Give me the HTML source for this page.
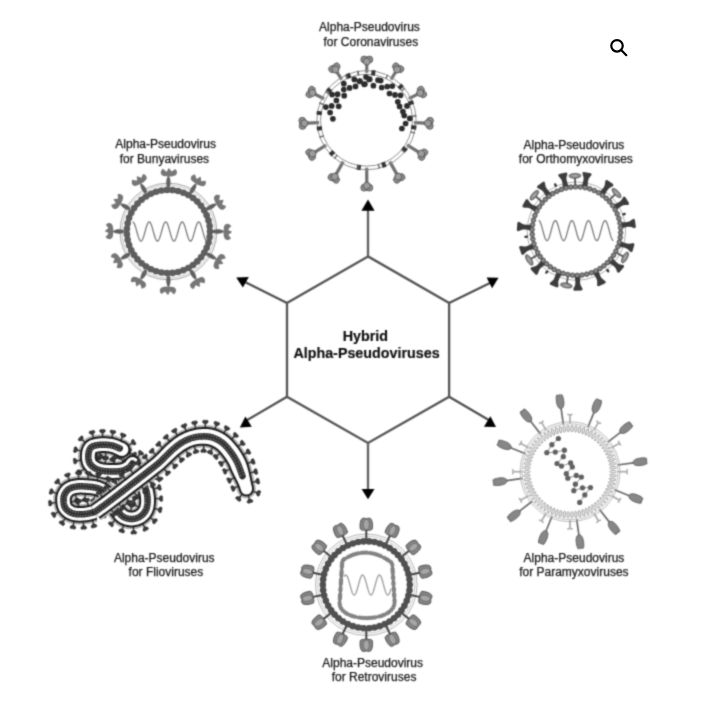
<!DOCTYPE html>
<html><head><meta charset="utf-8">
<style>
html,body{margin:0;padding:0;background:#fff;width:706px;height:705px;overflow:hidden}
svg{display:block}
text{font-family:"Liberation Sans",sans-serif;fill:#151515;stroke:#151515;stroke-width:0.25}
.l{font-size:12px}
.b{font-size:14.3px;font-weight:bold;fill:#111;stroke:#111;stroke-width:0.2}
</style></head><body>
<svg width="706" height="705" viewBox="0 0 706 705">
<defs>
<filter id="bl" x="0" y="0" width="706" height="705" filterUnits="userSpaceOnUse" color-interpolation-filters="sRGB"><feConvolveMatrix order="5" kernelMatrix="0.00003 0.00101 0.00331 0.00101 0.00003 0.00101 0.03529 0.11525 0.03529 0.00101 0.00331 0.11525 0.37636 0.11525 0.00331 0.00101 0.03529 0.11525 0.03529 0.00101 0.00003 0.00101 0.00331 0.00101 0.00003" divisor="1" edgeMode="duplicate" preserveAlpha="false"/></filter>
</defs>
<g filter="url(#bl)">
<!-- hexagon -->
<g fill="none" stroke="#555" stroke-width="2.3">
<path d="M368 256.4 L287 303 L287 396.8 L368 443 L449.1 396.8 L449.1 303 Z"/>
</g>
<g fill="none" stroke="#606060" stroke-width="2.3">
<path d="M368 256.4 V209"/>
<path d="M368 443 V490"/>
</g>
<g fill="none" stroke="#4f4f4f" stroke-width="2.2">
<path d="M287 303 L244.5 281.7"/>
<path d="M449.1 303 L491.5 282.3"/>
<path d="M287 396.8 L245.5 421"/>
<path d="M449.1 396.8 L490.5 421"/>
</g>
<g fill="#000">
<path d="M361.4 210.8 L374.6 210.8 L368.0 199.5 Z"/>
<path d="M236.2 277.4 L248.8 277.1 L242.9 287.6 Z"/>
<path d="M486.6 277.4 L498.5 277.8 L492.1 288.2 Z"/>
<path d="M245.4 416.6 L239.9 427.4 L251.8 426.7 Z"/>
<path d="M490.4 416.3 L483.9 426.7 L496.0 426.9 Z"/>
<path d="M361.6 488.9 L374.5 488.9 L368.0 499.2 Z"/>
</g>
<!-- center text -->
<text class="b" x="365.4" y="341.2" text-anchor="middle">Hybrid</text>
<text class="b" x="366.5" y="358.1" text-anchor="middle">Alpha-Pseudoviruses</text>
<!-- labels -->
<text class="l" x="319.1" y="31.1">Alpha-Pseudovirus</text>
<text class="l" x="323.5" y="45.7">for Coronaviruses</text>
<text class="l" x="115.3" y="148.2">Alpha-Pseudovirus</text>
<text class="l" x="119.7" y="162.8">for Bunyaviruses</text>
<text class="l" x="523.6" y="148.6">Alpha-Pseudovirus</text>
<text class="l" x="518.8" y="163.2">for Orthomyxoviruses</text>
<text class="l" x="113.9" y="561.7">Alpha-Pseudovirus</text>
<text class="l" x="128.6" y="576.2">for Flioviruses</text>
<text class="l" x="322.3" y="667.1">Alpha-Pseudovirus</text>
<text class="l" x="331.7" y="681.1">for Retroviruses</text>
<text class="l" x="523.6" y="561.8">Alpha-Pseudovirus</text>
<text class="l" x="519.2" y="576.3">for Paramyxoviruses</text>

<g id="bunya">
<circle cx="168.4" cy="231.5" r="48.4" fill="none" stroke="#9a9a9a" stroke-width="0.9"/>
<circle cx="168.4" cy="231.5" r="46.6" fill="none" stroke="#b0b0b0" stroke-width="0.7"/>
<g transform="translate(168.4 187) rotate(0)"><path d="M-1.3,0 C-2.6,-3.5 -2.6,-8 0,-11.5 C2.6,-8 2.6,-3.5 1.3,0 Z" fill="#606060"/><path d="M-5,-0.6 C-7.6,-1.4 -8.3,-4 -7.2,-5.8 L-5.6,-8 C-4.2,-6.6 -2.8,-5.2 -1.6,-4.8 L0.2,-8.6 C1.6,-7.6 2.6,-5.8 3.4,-5 L6.8,-7.6 C8.8,-6 9.2,-3.4 7.6,-1.6 C5.6,-0.4 3,0 0,0 Z" transform="translate(0 -10.5)" fill="#767676"/></g>
<g transform="translate(190.65 192.96) rotate(30)"><path d="M-1.3,0 C-2.6,-3.5 -2.6,-8 0,-11.5 C2.6,-8 2.6,-3.5 1.3,0 Z" fill="#606060"/><path d="M-5,-0.6 C-7.6,-1.4 -8.3,-4 -7.2,-5.8 L-5.6,-8 C-4.2,-6.6 -2.8,-5.2 -1.6,-4.8 L0.2,-8.6 C1.6,-7.6 2.6,-5.8 3.4,-5 L6.8,-7.6 C8.8,-6 9.2,-3.4 7.6,-1.6 C5.6,-0.4 3,0 0,0 Z" transform="translate(0 -10.5)" fill="#767676"/></g>
<g transform="translate(206.94 209.25) rotate(60)"><path d="M-1.3,0 C-2.6,-3.5 -2.6,-8 0,-11.5 C2.6,-8 2.6,-3.5 1.3,0 Z" fill="#606060"/><path d="M-5,-0.6 C-7.6,-1.4 -8.3,-4 -7.2,-5.8 L-5.6,-8 C-4.2,-6.6 -2.8,-5.2 -1.6,-4.8 L0.2,-8.6 C1.6,-7.6 2.6,-5.8 3.4,-5 L6.8,-7.6 C8.8,-6 9.2,-3.4 7.6,-1.6 C5.6,-0.4 3,0 0,0 Z" transform="translate(0 -10.5)" fill="#767676"/></g>
<g transform="translate(212.9 231.5) rotate(90)"><path d="M-1.3,0 C-2.6,-3.5 -2.6,-8 0,-11.5 C2.6,-8 2.6,-3.5 1.3,0 Z" fill="#606060"/><path d="M-5,-0.6 C-7.6,-1.4 -8.3,-4 -7.2,-5.8 L-5.6,-8 C-4.2,-6.6 -2.8,-5.2 -1.6,-4.8 L0.2,-8.6 C1.6,-7.6 2.6,-5.8 3.4,-5 L6.8,-7.6 C8.8,-6 9.2,-3.4 7.6,-1.6 C5.6,-0.4 3,0 0,0 Z" transform="translate(0 -10.5)" fill="#767676"/></g>
<g transform="translate(206.94 253.75) rotate(120)"><path d="M-1.3,0 C-2.6,-3.5 -2.6,-8 0,-11.5 C2.6,-8 2.6,-3.5 1.3,0 Z" fill="#606060"/><path d="M-5,-0.6 C-7.6,-1.4 -8.3,-4 -7.2,-5.8 L-5.6,-8 C-4.2,-6.6 -2.8,-5.2 -1.6,-4.8 L0.2,-8.6 C1.6,-7.6 2.6,-5.8 3.4,-5 L6.8,-7.6 C8.8,-6 9.2,-3.4 7.6,-1.6 C5.6,-0.4 3,0 0,0 Z" transform="translate(0 -10.5)" fill="#767676"/></g>
<g transform="translate(190.65 270.04) rotate(150)"><path d="M-1.3,0 C-2.6,-3.5 -2.6,-8 0,-11.5 C2.6,-8 2.6,-3.5 1.3,0 Z" fill="#606060"/><path d="M-5,-0.6 C-7.6,-1.4 -8.3,-4 -7.2,-5.8 L-5.6,-8 C-4.2,-6.6 -2.8,-5.2 -1.6,-4.8 L0.2,-8.6 C1.6,-7.6 2.6,-5.8 3.4,-5 L6.8,-7.6 C8.8,-6 9.2,-3.4 7.6,-1.6 C5.6,-0.4 3,0 0,0 Z" transform="translate(0 -10.5)" fill="#767676"/></g>
<g transform="translate(168.4 276) rotate(180)"><path d="M-1.3,0 C-2.6,-3.5 -2.6,-8 0,-11.5 C2.6,-8 2.6,-3.5 1.3,0 Z" fill="#606060"/><path d="M-5,-0.6 C-7.6,-1.4 -8.3,-4 -7.2,-5.8 L-5.6,-8 C-4.2,-6.6 -2.8,-5.2 -1.6,-4.8 L0.2,-8.6 C1.6,-7.6 2.6,-5.8 3.4,-5 L6.8,-7.6 C8.8,-6 9.2,-3.4 7.6,-1.6 C5.6,-0.4 3,0 0,0 Z" transform="translate(0 -10.5)" fill="#767676"/></g>
<g transform="translate(146.15 270.04) rotate(210)"><path d="M-1.3,0 C-2.6,-3.5 -2.6,-8 0,-11.5 C2.6,-8 2.6,-3.5 1.3,0 Z" fill="#606060"/><path d="M-5,-0.6 C-7.6,-1.4 -8.3,-4 -7.2,-5.8 L-5.6,-8 C-4.2,-6.6 -2.8,-5.2 -1.6,-4.8 L0.2,-8.6 C1.6,-7.6 2.6,-5.8 3.4,-5 L6.8,-7.6 C8.8,-6 9.2,-3.4 7.6,-1.6 C5.6,-0.4 3,0 0,0 Z" transform="translate(0 -10.5)" fill="#767676"/></g>
<g transform="translate(129.86 253.75) rotate(240)"><path d="M-1.3,0 C-2.6,-3.5 -2.6,-8 0,-11.5 C2.6,-8 2.6,-3.5 1.3,0 Z" fill="#606060"/><path d="M-5,-0.6 C-7.6,-1.4 -8.3,-4 -7.2,-5.8 L-5.6,-8 C-4.2,-6.6 -2.8,-5.2 -1.6,-4.8 L0.2,-8.6 C1.6,-7.6 2.6,-5.8 3.4,-5 L6.8,-7.6 C8.8,-6 9.2,-3.4 7.6,-1.6 C5.6,-0.4 3,0 0,0 Z" transform="translate(0 -10.5)" fill="#767676"/></g>
<g transform="translate(123.9 231.5) rotate(270)"><path d="M-1.3,0 C-2.6,-3.5 -2.6,-8 0,-11.5 C2.6,-8 2.6,-3.5 1.3,0 Z" fill="#606060"/><path d="M-5,-0.6 C-7.6,-1.4 -8.3,-4 -7.2,-5.8 L-5.6,-8 C-4.2,-6.6 -2.8,-5.2 -1.6,-4.8 L0.2,-8.6 C1.6,-7.6 2.6,-5.8 3.4,-5 L6.8,-7.6 C8.8,-6 9.2,-3.4 7.6,-1.6 C5.6,-0.4 3,0 0,0 Z" transform="translate(0 -10.5)" fill="#767676"/></g>
<g transform="translate(129.86 209.25) rotate(300)"><path d="M-1.3,0 C-2.6,-3.5 -2.6,-8 0,-11.5 C2.6,-8 2.6,-3.5 1.3,0 Z" fill="#606060"/><path d="M-5,-0.6 C-7.6,-1.4 -8.3,-4 -7.2,-5.8 L-5.6,-8 C-4.2,-6.6 -2.8,-5.2 -1.6,-4.8 L0.2,-8.6 C1.6,-7.6 2.6,-5.8 3.4,-5 L6.8,-7.6 C8.8,-6 9.2,-3.4 7.6,-1.6 C5.6,-0.4 3,0 0,0 Z" transform="translate(0 -10.5)" fill="#767676"/></g>
<g transform="translate(146.15 192.96) rotate(330)"><path d="M-1.3,0 C-2.6,-3.5 -2.6,-8 0,-11.5 C2.6,-8 2.6,-3.5 1.3,0 Z" fill="#606060"/><path d="M-5,-0.6 C-7.6,-1.4 -8.3,-4 -7.2,-5.8 L-5.6,-8 C-4.2,-6.6 -2.8,-5.2 -1.6,-4.8 L0.2,-8.6 C1.6,-7.6 2.6,-5.8 3.4,-5 L6.8,-7.6 C8.8,-6 9.2,-3.4 7.6,-1.6 C5.6,-0.4 3,0 0,0 Z" transform="translate(0 -10.5)" fill="#767676"/></g>
<circle cx="168.4" cy="231.5" r="41.6" fill="none" stroke="#5e5e5e" stroke-width="4.8"/>
<circle cx="210" cy="231.5" r="3.3" fill="#5e5e5e"/>
<circle cx="209.63" cy="237.04" r="3.3" fill="#5e5e5e"/>
<circle cx="208.52" cy="242.49" r="3.3" fill="#5e5e5e"/>
<circle cx="206.7" cy="247.74" r="3.3" fill="#5e5e5e"/>
<circle cx="204.19" cy="252.7" r="3.3" fill="#5e5e5e"/>
<circle cx="201.05" cy="257.28" r="3.3" fill="#5e5e5e"/>
<circle cx="197.32" cy="261.4" r="3.3" fill="#5e5e5e"/>
<circle cx="193.08" cy="264.99" r="3.3" fill="#5e5e5e"/>
<circle cx="188.39" cy="267.98" r="3.3" fill="#5e5e5e"/>
<circle cx="183.35" cy="270.32" r="3.3" fill="#5e5e5e"/>
<circle cx="178.04" cy="271.97" r="3.3" fill="#5e5e5e"/>
<circle cx="172.56" cy="272.89" r="3.3" fill="#5e5e5e"/>
<circle cx="167.01" cy="273.08" r="3.3" fill="#5e5e5e"/>
<circle cx="161.48" cy="272.52" r="3.3" fill="#5e5e5e"/>
<circle cx="156.07" cy="271.23" r="3.3" fill="#5e5e5e"/>
<circle cx="150.89" cy="269.23" r="3.3" fill="#5e5e5e"/>
<circle cx="146.02" cy="266.56" r="3.3" fill="#5e5e5e"/>
<circle cx="141.54" cy="263.27" r="3.3" fill="#5e5e5e"/>
<circle cx="137.55" cy="259.4" r="3.3" fill="#5e5e5e"/>
<circle cx="134.1" cy="255.04" r="3.3" fill="#5e5e5e"/>
<circle cx="131.27" cy="250.26" r="3.3" fill="#5e5e5e"/>
<circle cx="129.1" cy="245.15" r="3.3" fill="#5e5e5e"/>
<circle cx="127.63" cy="239.79" r="3.3" fill="#5e5e5e"/>
<circle cx="126.89" cy="234.28" r="3.3" fill="#5e5e5e"/>
<circle cx="126.89" cy="228.72" r="3.3" fill="#5e5e5e"/>
<circle cx="127.63" cy="223.21" r="3.3" fill="#5e5e5e"/>
<circle cx="129.1" cy="217.85" r="3.3" fill="#5e5e5e"/>
<circle cx="131.27" cy="212.74" r="3.3" fill="#5e5e5e"/>
<circle cx="134.1" cy="207.96" r="3.3" fill="#5e5e5e"/>
<circle cx="137.55" cy="203.6" r="3.3" fill="#5e5e5e"/>
<circle cx="141.54" cy="199.73" r="3.3" fill="#5e5e5e"/>
<circle cx="146.02" cy="196.44" r="3.3" fill="#5e5e5e"/>
<circle cx="150.89" cy="193.77" r="3.3" fill="#5e5e5e"/>
<circle cx="156.07" cy="191.77" r="3.3" fill="#5e5e5e"/>
<circle cx="161.48" cy="190.48" r="3.3" fill="#5e5e5e"/>
<circle cx="167.01" cy="189.92" r="3.3" fill="#5e5e5e"/>
<circle cx="172.56" cy="190.11" r="3.3" fill="#5e5e5e"/>
<circle cx="178.04" cy="191.03" r="3.3" fill="#5e5e5e"/>
<circle cx="183.35" cy="192.68" r="3.3" fill="#5e5e5e"/>
<circle cx="188.39" cy="195.02" r="3.3" fill="#5e5e5e"/>
<circle cx="193.08" cy="198.01" r="3.3" fill="#5e5e5e"/>
<circle cx="197.32" cy="201.6" r="3.3" fill="#5e5e5e"/>
<circle cx="201.05" cy="205.72" r="3.3" fill="#5e5e5e"/>
<circle cx="204.19" cy="210.3" r="3.3" fill="#5e5e5e"/>
<circle cx="206.7" cy="215.26" r="3.3" fill="#5e5e5e"/>
<circle cx="208.52" cy="220.51" r="3.3" fill="#5e5e5e"/>
<circle cx="209.63" cy="225.96" r="3.3" fill="#5e5e5e"/>
<path d="M132.7 221.9 L133.07 222 L133.44 222.28 L133.81 222.75 L134.19 223.4 L134.56 224.2 L134.93 225.16 L135.3 226.23 L135.67 227.42 L136.04 228.69 L136.41 230.01 L136.79 231.36 L137.16 232.71 L137.53 234.04 L137.9 235.32 L138.27 236.53 L138.64 237.63 L139.02 238.61 L139.39 239.45 L139.76 240.13 L140.13 240.64 L140.5 240.96 L140.87 241.1 L141.24 241.04 L141.62 240.79 L141.99 240.36 L142.36 239.75 L142.73 238.98 L143.1 238.05 L143.47 237 L143.84 235.83 L144.22 234.58 L144.59 233.27 L144.96 231.92 L145.33 230.57 L145.7 229.23 L146.07 227.94 L146.45 226.71 L146.82 225.59 L147.19 224.58 L147.56 223.71 L147.93 223 L148.3 222.45 L148.67 222.09 L149.05 221.92 L149.42 221.93 L149.79 222.14 L150.16 222.54 L150.53 223.11 L150.9 223.85 L151.27 224.74 L151.65 225.77 L152.02 226.92 L152.39 228.15 L152.76 229.45 L153.13 230.8 L153.5 232.15 L153.88 233.5 L154.25 234.8 L154.62 236.04 L154.99 237.19 L155.36 238.22 L155.73 239.12 L156.1 239.87 L156.48 240.45 L156.85 240.85 L157.22 241.06 L157.59 241.09 L157.96 240.92 L158.33 240.56 L158.7 240.02 L159.08 239.32 L159.45 238.45 L159.82 237.45 L160.19 236.33 L160.56 235.11 L160.93 233.82 L161.31 232.48 L161.68 231.13 L162.05 229.78 L162.42 228.46 L162.79 227.21 L163.16 226.04 L163.53 224.98 L163.91 224.05 L164.28 223.27 L164.65 222.66 L165.02 222.22 L165.39 221.97 L165.76 221.9 L166.13 222.03 L166.51 222.35 L166.88 222.85 L167.25 223.52 L167.62 224.36 L167.99 225.33 L168.36 226.43 L168.74 227.63 L169.11 228.91 L169.48 230.24 L169.85 231.59 L170.22 232.94 L170.59 234.27 L170.96 235.54 L171.34 236.72 L171.71 237.81 L172.08 238.76 L172.45 239.58 L172.82 240.23 L173.19 240.7 L173.56 241 L173.94 241.1 L174.31 241.01 L174.68 240.73 L175.05 240.27 L175.42 239.63 L175.79 238.83 L176.17 237.88 L176.54 236.81 L176.91 235.63 L177.28 234.36 L177.65 233.04 L178.02 231.69 L178.39 230.33 L178.77 229 L179.14 227.72 L179.51 226.51 L179.88 225.41 L180.25 224.42 L180.62 223.58 L181 222.89 L181.37 222.38 L181.74 222.05 L182.11 221.91 L182.48 221.95 L182.85 222.19 L183.22 222.62 L183.6 223.22 L183.97 223.99 L184.34 224.91 L184.71 225.96 L185.08 227.12 L185.45 228.37 L185.82 229.68 L186.2 231.03 L186.57 232.39 L186.94 233.72 L187.31 235.02 L187.68 236.24 L188.05 237.37 L188.43 238.38 L188.8 239.26 L189.17 239.98 L189.54 240.53 L189.91 240.9 L190.28 241.08 L190.65 241.07 L191.03 240.87 L191.4 240.48 L191.77 239.92 L192.14 239.18 L192.51 238.29 L192.88 237.27 L193.25 236.13 L193.63 234.89 L194 233.59 L194.37 232.25 L194.74 230.9 L195.11 229.55 L195.48 228.24 L195.85 227 L196.23 225.85 L196.6 224.81 L196.97 223.91 L197.34 223.16 L197.71 222.57 L198.08 222.16 L198.46 221.94 L198.83 221.91 L199.2 222.07 L199.57 222.42 L199.94 222.95 L200.31 223.65 L200.68 224.51 L201.06 225.51 L201.43 226.63 L201.8 227.84 L202.17 229.13 L202.54 230.47 L202.91 231.82 L203.28 233.17 L203.66 234.49 L204.03 235.75 L204.4 236.92 L204.77 237.98 L205.14 238.91 L205.51 239.7 L205.89 240.32 L206.26 240.77 L206.63 241.03 L207 241.1" fill="none" stroke="#7a7a7a" stroke-width="1.3"/>
</g>
<g id="ortho">
<circle cx="576.4" cy="231.1" r="49.2" fill="none" stroke="#999" stroke-width="0.8"/>
<g transform="translate(575.2 185.12) rotate(-1.5)"><rect x="-0.9" y="-8.5" width="1.8" height="8.5" fill="#555"/><ellipse cx="0" cy="-9.3" rx="6" ry="2.4" fill="#8a8a8a" stroke="#444" stroke-width="0.7"/><ellipse cx="0" cy="-9.3" rx="3" ry="1.1" fill="#a5a5a5"/></g>
<g transform="translate(609.77 199.44) rotate(46.5)"><rect x="-0.9" y="-8.5" width="1.8" height="8.5" fill="#555"/><ellipse cx="0" cy="-9.3" rx="6" ry="2.4" fill="#8a8a8a" stroke="#444" stroke-width="0.7"/><ellipse cx="0" cy="-9.3" rx="3" ry="1.1" fill="#a5a5a5"/></g>
<g transform="translate(616.83 253.05) rotate(118.5)"><rect x="-0.9" y="-8.5" width="1.8" height="8.5" fill="#555"/><ellipse cx="0" cy="-9.3" rx="6" ry="2.4" fill="#8a8a8a" stroke="#444" stroke-width="0.7"/><ellipse cx="0" cy="-9.3" rx="3" ry="1.1" fill="#a5a5a5"/></g>
<g transform="translate(568.02 276.33) rotate(190.5)"><rect x="-0.9" y="-8.5" width="1.8" height="8.5" fill="#555"/><ellipse cx="0" cy="-9.3" rx="6" ry="2.4" fill="#8a8a8a" stroke="#444" stroke-width="0.7"/><ellipse cx="0" cy="-9.3" rx="3" ry="1.1" fill="#a5a5a5"/></g>
<g transform="translate(537.18 255.13) rotate(238.5)"><rect x="-0.9" y="-8.5" width="1.8" height="8.5" fill="#555"/><ellipse cx="0" cy="-9.3" rx="6" ry="2.4" fill="#8a8a8a" stroke="#444" stroke-width="0.7"/><ellipse cx="0" cy="-9.3" rx="3" ry="1.1" fill="#a5a5a5"/></g>
<g transform="translate(541.42 201.23) rotate(310.5)"><rect x="-0.9" y="-8.5" width="1.8" height="8.5" fill="#555"/><ellipse cx="0" cy="-9.3" rx="6" ry="2.4" fill="#8a8a8a" stroke="#444" stroke-width="0.7"/><ellipse cx="0" cy="-9.3" rx="3" ry="1.1" fill="#a5a5a5"/></g>
<g transform="translate(555.46 185.15) rotate(-24.5)"><ellipse cx="0" cy="0" rx="1.3" ry="2" fill="#333"/></g>
<g transform="translate(623.97 214.16) rotate(70.4)"><ellipse cx="0" cy="0" rx="1.3" ry="2" fill="#333"/></g>
<g transform="translate(526.21 236.73) rotate(263.6)"><ellipse cx="0" cy="0" rx="1.3" ry="2" fill="#333"/></g>
<g transform="translate(546.79 272.01) rotate(215.9)"><ellipse cx="0" cy="0" rx="1.3" ry="2" fill="#333"/></g>
<g transform="translate(607.77 270.68) rotate(141.6)"><ellipse cx="0" cy="0" rx="1.3" ry="2" fill="#333"/></g>
<path transform="translate(584.71 186.26) rotate(10.5)" d="M-3.2,0 C-2.2,-2.5 -2.2,-6.5 -2.6,-8 C-3.2,-10 -4.7,-11.5 -4.7,-13 L-3.6,-13.9 L3.6,-13.9 L4.7,-13 C4.7,-11.5 3.2,-10 2.6,-8 C2.2,-6.5 2.2,-2.5 3.2,0 Z" fill="#3c3c3c"/>
<path transform="translate(602.23 193.52) rotate(34.5)" d="M-3.2,0 C-2.2,-2.5 -2.2,-6.5 -2.6,-8 C-3.2,-10 -4.7,-11.5 -4.7,-13 L-3.6,-13.9 L3.6,-13.9 L4.7,-13 C4.7,-11.5 3.2,-10 2.6,-8 C2.2,-6.5 2.2,-2.5 3.2,0 Z" fill="#3c3c3c"/>
<path transform="translate(615.28 207.27) rotate(58.5)" d="M-3.2,0 C-2.2,-2.5 -2.2,-6.5 -2.6,-8 C-3.2,-10 -4.7,-11.5 -4.7,-13 L-3.6,-13.9 L3.6,-13.9 L4.7,-13 C4.7,-11.5 3.2,-10 2.6,-8 C2.2,-6.5 2.2,-2.5 3.2,0 Z" fill="#3c3c3c"/>
<path transform="translate(621.61 225.15) rotate(82.5)" d="M-3.2,0 C-2.2,-2.5 -2.2,-6.5 -2.6,-8 C-3.2,-10 -4.7,-11.5 -4.7,-13 L-3.6,-13.9 L3.6,-13.9 L4.7,-13 C4.7,-11.5 3.2,-10 2.6,-8 C2.2,-6.5 2.2,-2.5 3.2,0 Z" fill="#3c3c3c"/>
<path transform="translate(620.12 244.05) rotate(106.5)" d="M-3.2,0 C-2.2,-2.5 -2.2,-6.5 -2.6,-8 C-3.2,-10 -4.7,-11.5 -4.7,-13 L-3.6,-13.9 L3.6,-13.9 L4.7,-13 C4.7,-11.5 3.2,-10 2.6,-8 C2.2,-6.5 2.2,-2.5 3.2,0 Z" fill="#3c3c3c"/>
<path transform="translate(611.07 260.71) rotate(130.5)" d="M-3.2,0 C-2.2,-2.5 -2.2,-6.5 -2.6,-8 C-3.2,-10 -4.7,-11.5 -4.7,-13 L-3.6,-13.9 L3.6,-13.9 L4.7,-13 C4.7,-11.5 3.2,-10 2.6,-8 C2.2,-6.5 2.2,-2.5 3.2,0 Z" fill="#3c3c3c"/>
<path transform="translate(596.03 272.26) rotate(154.5)" d="M-3.2,0 C-2.2,-2.5 -2.2,-6.5 -2.6,-8 C-3.2,-10 -4.7,-11.5 -4.7,-13 L-3.6,-13.9 L3.6,-13.9 L4.7,-13 C4.7,-11.5 3.2,-10 2.6,-8 C2.2,-6.5 2.2,-2.5 3.2,0 Z" fill="#3c3c3c"/>
<path transform="translate(577.59 276.68) rotate(178.5)" d="M-3.2,0 C-2.2,-2.5 -2.2,-6.5 -2.6,-8 C-3.2,-10 -4.7,-11.5 -4.7,-13 L-3.6,-13.9 L3.6,-13.9 L4.7,-13 C4.7,-11.5 3.2,-10 2.6,-8 C2.2,-6.5 2.2,-2.5 3.2,0 Z" fill="#3c3c3c"/>
<path transform="translate(558.95 273.23) rotate(202.5)" d="M-3.2,0 C-2.2,-2.5 -2.2,-6.5 -2.6,-8 C-3.2,-10 -4.7,-11.5 -4.7,-13 L-3.6,-13.9 L3.6,-13.9 L4.7,-13 C4.7,-11.5 3.2,-10 2.6,-8 C2.2,-6.5 2.2,-2.5 3.2,0 Z" fill="#3c3c3c"/>
<path transform="translate(543.32 262.49) rotate(226.5)" d="M-3.2,0 C-2.2,-2.5 -2.2,-6.5 -2.6,-8 C-3.2,-10 -4.7,-11.5 -4.7,-13 L-3.6,-13.9 L3.6,-13.9 L4.7,-13 C4.7,-11.5 3.2,-10 2.6,-8 C2.2,-6.5 2.2,-2.5 3.2,0 Z" fill="#3c3c3c"/>
<path transform="translate(533.42 246.32) rotate(250.5)" d="M-3.2,0 C-2.2,-2.5 -2.2,-6.5 -2.6,-8 C-3.2,-10 -4.7,-11.5 -4.7,-13 L-3.6,-13.9 L3.6,-13.9 L4.7,-13 C4.7,-11.5 3.2,-10 2.6,-8 C2.2,-6.5 2.2,-2.5 3.2,0 Z" fill="#3c3c3c"/>
<path transform="translate(530.94 227.52) rotate(274.5)" d="M-3.2,0 C-2.2,-2.5 -2.2,-6.5 -2.6,-8 C-3.2,-10 -4.7,-11.5 -4.7,-13 L-3.6,-13.9 L3.6,-13.9 L4.7,-13 C4.7,-11.5 3.2,-10 2.6,-8 C2.2,-6.5 2.2,-2.5 3.2,0 Z" fill="#3c3c3c"/>
<path transform="translate(536.33 209.34) rotate(298.5)" d="M-3.2,0 C-2.2,-2.5 -2.2,-6.5 -2.6,-8 C-3.2,-10 -4.7,-11.5 -4.7,-13 L-3.6,-13.9 L3.6,-13.9 L4.7,-13 C4.7,-11.5 3.2,-10 2.6,-8 C2.2,-6.5 2.2,-2.5 3.2,0 Z" fill="#3c3c3c"/>
<path transform="translate(548.64 194.92) rotate(322.5)" d="M-3.2,0 C-2.2,-2.5 -2.2,-6.5 -2.6,-8 C-3.2,-10 -4.7,-11.5 -4.7,-13 L-3.6,-13.9 L3.6,-13.9 L4.7,-13 C4.7,-11.5 3.2,-10 2.6,-8 C2.2,-6.5 2.2,-2.5 3.2,0 Z" fill="#3c3c3c"/>
<path transform="translate(565.75 186.76) rotate(346.5)" d="M-3.2,0 C-2.2,-2.5 -2.2,-6.5 -2.6,-8 C-3.2,-10 -4.7,-11.5 -4.7,-13 L-3.6,-13.9 L3.6,-13.9 L4.7,-13 C4.7,-11.5 3.2,-10 2.6,-8 C2.2,-6.5 2.2,-2.5 3.2,0 Z" fill="#3c3c3c"/>
<circle cx="620.67" cy="232.65" r="2.3" fill="#858585" stroke="#3c3c3c" stroke-width="0.8"/>
<circle cx="620.25" cy="237.42" r="2.3" fill="#858585" stroke="#3c3c3c" stroke-width="0.8"/>
<circle cx="619.31" cy="242.13" r="2.3" fill="#858585" stroke="#3c3c3c" stroke-width="0.8"/>
<circle cx="617.86" cy="246.7" r="2.3" fill="#858585" stroke="#3c3c3c" stroke-width="0.8"/>
<circle cx="615.93" cy="251.09" r="2.3" fill="#858585" stroke="#3c3c3c" stroke-width="0.8"/>
<circle cx="613.54" cy="255.25" r="2.3" fill="#858585" stroke="#3c3c3c" stroke-width="0.8"/>
<circle cx="610.71" cy="259.12" r="2.3" fill="#858585" stroke="#3c3c3c" stroke-width="0.8"/>
<circle cx="607.48" cy="262.67" r="2.3" fill="#858585" stroke="#3c3c3c" stroke-width="0.8"/>
<circle cx="603.88" cy="265.84" r="2.3" fill="#858585" stroke="#3c3c3c" stroke-width="0.8"/>
<circle cx="599.97" cy="268.61" r="2.3" fill="#858585" stroke="#3c3c3c" stroke-width="0.8"/>
<circle cx="595.77" cy="270.94" r="2.3" fill="#858585" stroke="#3c3c3c" stroke-width="0.8"/>
<circle cx="591.35" cy="272.8" r="2.3" fill="#858585" stroke="#3c3c3c" stroke-width="0.8"/>
<circle cx="586.75" cy="274.17" r="2.3" fill="#858585" stroke="#3c3c3c" stroke-width="0.8"/>
<circle cx="582.04" cy="275.04" r="2.3" fill="#858585" stroke="#3c3c3c" stroke-width="0.8"/>
<circle cx="577.25" cy="275.39" r="2.3" fill="#858585" stroke="#3c3c3c" stroke-width="0.8"/>
<circle cx="572.46" cy="275.22" r="2.3" fill="#858585" stroke="#3c3c3c" stroke-width="0.8"/>
<circle cx="567.71" cy="274.54" r="2.3" fill="#858585" stroke="#3c3c3c" stroke-width="0.8"/>
<circle cx="563.07" cy="273.35" r="2.3" fill="#858585" stroke="#3c3c3c" stroke-width="0.8"/>
<circle cx="558.58" cy="271.66" r="2.3" fill="#858585" stroke="#3c3c3c" stroke-width="0.8"/>
<circle cx="554.3" cy="269.49" r="2.3" fill="#858585" stroke="#3c3c3c" stroke-width="0.8"/>
<circle cx="550.27" cy="266.88" r="2.3" fill="#858585" stroke="#3c3c3c" stroke-width="0.8"/>
<circle cx="546.56" cy="263.84" r="2.3" fill="#858585" stroke="#3c3c3c" stroke-width="0.8"/>
<circle cx="543.19" cy="260.42" r="2.3" fill="#858585" stroke="#3c3c3c" stroke-width="0.8"/>
<circle cx="540.22" cy="256.66" r="2.3" fill="#858585" stroke="#3c3c3c" stroke-width="0.8"/>
<circle cx="537.67" cy="252.6" r="2.3" fill="#858585" stroke="#3c3c3c" stroke-width="0.8"/>
<circle cx="535.57" cy="248.29" r="2.3" fill="#858585" stroke="#3c3c3c" stroke-width="0.8"/>
<circle cx="533.95" cy="243.77" r="2.3" fill="#858585" stroke="#3c3c3c" stroke-width="0.8"/>
<circle cx="532.83" cy="239.11" r="2.3" fill="#858585" stroke="#3c3c3c" stroke-width="0.8"/>
<circle cx="532.22" cy="234.35" r="2.3" fill="#858585" stroke="#3c3c3c" stroke-width="0.8"/>
<circle cx="532.13" cy="229.55" r="2.3" fill="#858585" stroke="#3c3c3c" stroke-width="0.8"/>
<circle cx="532.55" cy="224.78" r="2.3" fill="#858585" stroke="#3c3c3c" stroke-width="0.8"/>
<circle cx="533.49" cy="220.07" r="2.3" fill="#858585" stroke="#3c3c3c" stroke-width="0.8"/>
<circle cx="534.94" cy="215.5" r="2.3" fill="#858585" stroke="#3c3c3c" stroke-width="0.8"/>
<circle cx="536.87" cy="211.11" r="2.3" fill="#858585" stroke="#3c3c3c" stroke-width="0.8"/>
<circle cx="539.26" cy="206.95" r="2.3" fill="#858585" stroke="#3c3c3c" stroke-width="0.8"/>
<circle cx="542.09" cy="203.08" r="2.3" fill="#858585" stroke="#3c3c3c" stroke-width="0.8"/>
<circle cx="545.32" cy="199.53" r="2.3" fill="#858585" stroke="#3c3c3c" stroke-width="0.8"/>
<circle cx="548.92" cy="196.36" r="2.3" fill="#858585" stroke="#3c3c3c" stroke-width="0.8"/>
<circle cx="552.83" cy="193.59" r="2.3" fill="#858585" stroke="#3c3c3c" stroke-width="0.8"/>
<circle cx="557.03" cy="191.26" r="2.3" fill="#858585" stroke="#3c3c3c" stroke-width="0.8"/>
<circle cx="561.45" cy="189.4" r="2.3" fill="#858585" stroke="#3c3c3c" stroke-width="0.8"/>
<circle cx="566.05" cy="188.03" r="2.3" fill="#858585" stroke="#3c3c3c" stroke-width="0.8"/>
<circle cx="570.76" cy="187.16" r="2.3" fill="#858585" stroke="#3c3c3c" stroke-width="0.8"/>
<circle cx="575.55" cy="186.81" r="2.3" fill="#858585" stroke="#3c3c3c" stroke-width="0.8"/>
<circle cx="580.34" cy="186.98" r="2.3" fill="#858585" stroke="#3c3c3c" stroke-width="0.8"/>
<circle cx="585.09" cy="187.66" r="2.3" fill="#858585" stroke="#3c3c3c" stroke-width="0.8"/>
<circle cx="589.73" cy="188.85" r="2.3" fill="#858585" stroke="#3c3c3c" stroke-width="0.8"/>
<circle cx="594.22" cy="190.54" r="2.3" fill="#858585" stroke="#3c3c3c" stroke-width="0.8"/>
<circle cx="598.5" cy="192.71" r="2.3" fill="#858585" stroke="#3c3c3c" stroke-width="0.8"/>
<circle cx="602.53" cy="195.32" r="2.3" fill="#858585" stroke="#3c3c3c" stroke-width="0.8"/>
<circle cx="606.24" cy="198.36" r="2.3" fill="#858585" stroke="#3c3c3c" stroke-width="0.8"/>
<circle cx="609.61" cy="201.78" r="2.3" fill="#858585" stroke="#3c3c3c" stroke-width="0.8"/>
<circle cx="612.58" cy="205.54" r="2.3" fill="#858585" stroke="#3c3c3c" stroke-width="0.8"/>
<circle cx="615.13" cy="209.6" r="2.3" fill="#858585" stroke="#3c3c3c" stroke-width="0.8"/>
<circle cx="617.23" cy="213.91" r="2.3" fill="#858585" stroke="#3c3c3c" stroke-width="0.8"/>
<circle cx="618.85" cy="218.43" r="2.3" fill="#858585" stroke="#3c3c3c" stroke-width="0.8"/>
<circle cx="619.97" cy="223.09" r="2.3" fill="#858585" stroke="#3c3c3c" stroke-width="0.8"/>
<circle cx="620.58" cy="227.85" r="2.3" fill="#858585" stroke="#3c3c3c" stroke-width="0.8"/>
<path d="M538.7 220.6 L539.07 220.7 L539.45 221 L539.82 221.49 L540.19 222.16 L540.57 223 L540.94 223.99 L541.31 225.11 L541.69 226.34 L542.06 227.66 L542.44 229.04 L542.81 230.44 L543.18 231.85 L543.56 233.24 L543.93 234.57 L544.3 235.82 L544.68 236.97 L545.05 238 L545.42 238.87 L545.8 239.58 L546.17 240.11 L546.54 240.45 L546.92 240.6 L547.29 240.54 L547.66 240.29 L548.04 239.84 L548.41 239.21 L548.78 238.4 L549.16 237.45 L549.53 236.35 L549.91 235.14 L550.28 233.84 L550.65 232.47 L551.03 231.07 L551.4 229.66 L551.77 228.27 L552.15 226.92 L552.52 225.65 L552.89 224.47 L553.27 223.42 L553.64 222.51 L554.01 221.76 L554.39 221.19 L554.76 220.81 L555.13 220.62 L555.51 220.63 L555.88 220.84 L556.25 221.25 L556.63 221.84 L557 222.6 L557.38 223.53 L557.75 224.6 L558.12 225.78 L558.5 227.07 L558.87 228.42 L559.24 229.82 L559.62 231.23 L559.99 232.63 L560.36 233.99 L560.74 235.28 L561.11 236.48 L561.48 237.56 L561.86 238.5 L562.23 239.29 L562.6 239.9 L562.98 240.32 L563.35 240.56 L563.72 240.59 L564.1 240.42 L564.47 240.06 L564.85 239.51 L565.22 238.78 L565.59 237.89 L565.97 236.85 L566.34 235.69 L566.71 234.43 L567.09 233.09 L567.46 231.7 L567.83 230.29 L568.21 228.88 L568.58 227.51 L568.95 226.2 L569.33 224.98 L569.7 223.87 L570.07 222.89 L570.45 222.07 L570.82 221.42 L571.19 220.95 L571.57 220.68 L571.94 220.6 L572.32 220.72 L572.69 221.04 L573.06 221.55 L573.44 222.24 L573.81 223.1 L574.18 224.11 L574.56 225.24 L574.93 226.48 L575.3 227.81 L575.68 229.19 L576.05 230.6 L576.42 232.01 L576.8 233.39 L577.17 234.72 L577.54 235.96 L577.92 237.09 L578.29 238.1 L578.66 238.96 L579.04 239.65 L579.41 240.16 L579.78 240.48 L580.16 240.6 L580.53 240.52 L580.91 240.25 L581.28 239.78 L581.65 239.13 L582.03 238.31 L582.4 237.33 L582.77 236.22 L583.15 235 L583.52 233.69 L583.89 232.32 L584.27 230.91 L584.64 229.5 L585.01 228.11 L585.39 226.77 L585.76 225.51 L586.13 224.35 L586.51 223.31 L586.88 222.42 L587.25 221.69 L587.63 221.14 L588 220.78 L588.38 220.61 L588.75 220.64 L589.12 220.88 L589.5 221.3 L589.87 221.91 L590.24 222.7 L590.62 223.64 L590.99 224.72 L591.36 225.92 L591.74 227.21 L592.11 228.57 L592.48 229.97 L592.86 231.38 L593.23 232.78 L593.6 234.13 L593.98 235.42 L594.35 236.6 L594.73 237.67 L595.1 238.6 L595.47 239.36 L595.85 239.95 L596.22 240.36 L596.59 240.57 L596.97 240.58 L597.34 240.39 L597.71 240.01 L598.09 239.44 L598.46 238.69 L598.83 237.78 L599.21 236.73 L599.58 235.55 L599.95 234.28 L600.33 232.93 L600.7 231.54 L601.07 230.13 L601.45 228.73 L601.82 227.36 L602.19 226.06 L602.57 224.85 L602.94 223.75 L603.32 222.8 L603.69 221.99 L604.06 221.36 L604.44 220.91 L604.81 220.66 L605.18 220.6 L605.56 220.75 L605.93 221.09 L606.3 221.62 L606.68 222.33 L607.05 223.2 L607.42 224.23 L607.8 225.38 L608.17 226.63 L608.54 227.96 L608.92 229.35 L609.29 230.76 L609.66 232.16 L610.04 233.54 L610.41 234.86 L610.79 236.09 L611.16 237.21 L611.53 238.2 L611.91 239.04 L612.28 239.71 L612.65 240.2 L613.03 240.5 L613.4 240.6" fill="none" stroke="#7a7a7a" stroke-width="1.3"/>
</g>
<g id="corona">
<path d="M366.74 72.7 L366.78 63.6" stroke="#707070" stroke-width="3.2"/>
<path d="M391.05 79.54 L396.05 71.27" stroke="#707070" stroke-width="3.2"/>
<path d="M408.84 98.68 L418.33 93.86" stroke="#707070" stroke-width="3.2"/>
<path d="M413.94 122.56 L425.8 123.15" stroke="#707070" stroke-width="3.2"/>
<path d="M407.04 144.96 L419.44 152.54" stroke="#707070" stroke-width="3.2"/>
<path d="M389.77 161.61 L397.23 174.88" stroke="#707070" stroke-width="3.2"/>
<path d="M366.71 167.7 L366.79 183.6" stroke="#707070" stroke-width="3.2"/>
<path d="M343.23 161.61 L335.77 174.88" stroke="#707070" stroke-width="3.2"/>
<path d="M326.08 145.16 L314.15 152.52" stroke="#707070" stroke-width="3.2"/>
<path d="M319.06 122.53 L306.5 123.15" stroke="#707070" stroke-width="3.2"/>
<path d="M324.09 98.8 L314.28 93.85" stroke="#707070" stroke-width="3.2"/>
<path d="M341.66 79.71 L336.47 71.26" stroke="#707070" stroke-width="3.2"/>
<g transform="translate(366.8 60.6) rotate(0.29)" fill="#909090" stroke="#484848" stroke-width="0.75"><circle cx="-2.6" cy="-1.1" r="3.4"/><circle cx="2.6" cy="-1.1" r="3.4"/><circle cx="0" cy="0.9" r="3.5" fill="#9c9c9c"/></g>
<g transform="translate(397.6 68.7) rotate(31.13)" fill="#909090" stroke="#484848" stroke-width="0.75"><circle cx="-2.6" cy="-1.1" r="3.4"/><circle cx="2.6" cy="-1.1" r="3.4"/><circle cx="0" cy="0.9" r="3.5" fill="#9c9c9c"/></g>
<g transform="translate(421 92.5) rotate(63.06)" fill="#909090" stroke="#484848" stroke-width="0.75"><circle cx="-2.6" cy="-1.1" r="3.4"/><circle cx="2.6" cy="-1.1" r="3.4"/><circle cx="0" cy="0.9" r="3.5" fill="#9c9c9c"/></g>
<g transform="translate(428.8 123.3) rotate(92.85)" fill="#909090" stroke="#484848" stroke-width="0.75"><circle cx="-2.6" cy="-1.1" r="3.4"/><circle cx="2.6" cy="-1.1" r="3.4"/><circle cx="0" cy="0.9" r="3.5" fill="#9c9c9c"/></g>
<g transform="translate(422 154.1) rotate(121.42)" fill="#909090" stroke="#484848" stroke-width="0.75"><circle cx="-2.6" cy="-1.1" r="3.4"/><circle cx="2.6" cy="-1.1" r="3.4"/><circle cx="0" cy="0.9" r="3.5" fill="#9c9c9c"/></g>
<g transform="translate(398.7 177.5) rotate(150.67)" fill="#909090" stroke="#484848" stroke-width="0.75"><circle cx="-2.6" cy="-1.1" r="3.4"/><circle cx="2.6" cy="-1.1" r="3.4"/><circle cx="0" cy="0.9" r="3.5" fill="#9c9c9c"/></g>
<g transform="translate(366.8 186.6) rotate(179.74)" fill="#909090" stroke="#484848" stroke-width="0.75"><circle cx="-2.6" cy="-1.1" r="3.4"/><circle cx="2.6" cy="-1.1" r="3.4"/><circle cx="0" cy="0.9" r="3.5" fill="#9c9c9c"/></g>
<g transform="translate(334.3 177.5) rotate(209.33)" fill="#909090" stroke="#484848" stroke-width="0.75"><circle cx="-2.6" cy="-1.1" r="3.4"/><circle cx="2.6" cy="-1.1" r="3.4"/><circle cx="0" cy="0.9" r="3.5" fill="#9c9c9c"/></g>
<g transform="translate(311.6 154.1) rotate(238.31)" fill="#909090" stroke="#484848" stroke-width="0.75"><circle cx="-2.6" cy="-1.1" r="3.4"/><circle cx="2.6" cy="-1.1" r="3.4"/><circle cx="0" cy="0.9" r="3.5" fill="#9c9c9c"/></g>
<g transform="translate(303.5 123.3) rotate(267.18)" fill="#909090" stroke="#484848" stroke-width="0.75"><circle cx="-2.6" cy="-1.1" r="3.4"/><circle cx="2.6" cy="-1.1" r="3.4"/><circle cx="0" cy="0.9" r="3.5" fill="#9c9c9c"/></g>
<g transform="translate(311.6 92.5) rotate(-63.23)" fill="#909090" stroke="#484848" stroke-width="0.75"><circle cx="-2.6" cy="-1.1" r="3.4"/><circle cx="2.6" cy="-1.1" r="3.4"/><circle cx="0" cy="0.9" r="3.5" fill="#9c9c9c"/></g>
<g transform="translate(334.9 68.7) rotate(-31.53)" fill="#909090" stroke="#484848" stroke-width="0.75"><circle cx="-2.6" cy="-1.1" r="3.4"/><circle cx="2.6" cy="-1.1" r="3.4"/><circle cx="0" cy="0.9" r="3.5" fill="#9c9c9c"/></g>
<circle cx="366.5" cy="120.2" r="49.6" fill="none" stroke="#8f8f8f" stroke-width="1"/>
<circle cx="366.5" cy="120.2" r="46" fill="none" stroke="#8f8f8f" stroke-width="1"/>
<rect x="-2" y="-2.6" width="4" height="5.2" transform="translate(348.68 75.85) rotate(-21.89)" fill="#333"/>
<rect x="-2" y="-2.6" width="4" height="5.2" transform="translate(373.35 72.89) rotate(8.24)" fill="#333"/>
<rect x="-2" y="-2.6" width="4" height="5.2" transform="translate(329.18 90.33) rotate(-51.32)" fill="#333"/>
<rect x="-2" y="-2.6" width="4" height="5.2" transform="translate(400.63 86.74) rotate(45.57)" fill="#333"/>
<rect x="-2" y="-2.6" width="4" height="5.2" transform="translate(411 102.75) rotate(68.58)" fill="#333"/>
<rect x="-2" y="-2.6" width="4" height="5.2" transform="translate(319.25 113) rotate(-81.33)" fill="#333"/>
<rect x="-2" y="-2.6" width="4" height="5.2" transform="translate(413.77 127.31) rotate(98.56)" fill="#333"/>
<rect x="-2" y="-2.6" width="4" height="5.2" transform="translate(319.4 128.36) rotate(260.17)" fill="#333"/>
<rect x="-2" y="-2.6" width="4" height="5.2" transform="translate(331.98 153.26) rotate(226.24)" fill="#333"/>
<rect x="-2" y="-2.6" width="4" height="5.2" transform="translate(404.53 149.16) rotate(127.29)" fill="#333"/>
<rect x="-2" y="-2.6" width="4" height="5.2" transform="translate(358.79 167.37) rotate(189.29)" fill="#333"/>
<rect x="-2" y="-2.6" width="4" height="5.2" transform="translate(383.8 164.76) rotate(158.79)" fill="#333"/>
<rect x="-0.7" y="-2.4" width="1.4" height="4.8" transform="translate(358.2 73.13) rotate(-10)" fill="#666"/>
<rect x="-0.7" y="-2.4" width="1.4" height="4.8" transform="translate(386.7 76.88) rotate(25)" fill="#666"/>
<rect x="-0.7" y="-2.4" width="1.4" height="4.8" transform="translate(403.12 89.47) rotate(50)" fill="#666"/>
<rect x="-0.7" y="-2.4" width="1.4" height="4.8" transform="translate(414.12 116.03) rotate(85)" fill="#666"/>
<rect x="-0.7" y="-2.4" width="1.4" height="4.8" transform="translate(412.67 132.57) rotate(105)" fill="#666"/>
<rect x="-0.7" y="-2.4" width="1.4" height="4.8" transform="translate(403.12 150.93) rotate(130)" fill="#666"/>
<rect x="-0.7" y="-2.4" width="1.4" height="4.8" transform="translate(378.87 166.37) rotate(165)" fill="#666"/>
<rect x="-0.7" y="-2.4" width="1.4" height="4.8" transform="translate(358.2 167.27) rotate(190)" fill="#666"/>
<rect x="-0.7" y="-2.4" width="1.4" height="4.8" transform="translate(335.77 156.82) rotate(220)" fill="#666"/>
<rect x="-0.7" y="-2.4" width="1.4" height="4.8" transform="translate(321.58 136.55) rotate(250)" fill="#666"/>
<rect x="-0.7" y="-2.4" width="1.4" height="4.8" transform="translate(321.58 103.85) rotate(290)" fill="#666"/>
<rect x="-0.7" y="-2.4" width="1.4" height="4.8" transform="translate(327.34 92.78) rotate(305)" fill="#666"/>
<rect x="-0.7" y="-2.4" width="1.4" height="4.8" transform="translate(346.3 76.88) rotate(335)" fill="#666"/>
<rect x="-0.7" y="-2.4" width="1.4" height="4.8" transform="translate(358.2 73.13) rotate(350)" fill="#666"/>
<circle cx="343.8" cy="83.7" r="2.85" fill="#2c2c2c"/>
<circle cx="343.8" cy="89.5" r="2.85" fill="#2c2c2c"/>
<circle cx="344.2" cy="95.7" r="2.85" fill="#2c2c2c"/>
<circle cx="349.6" cy="87.9" r="2.85" fill="#2c2c2c"/>
<circle cx="355.5" cy="86.4" r="2.85" fill="#2c2c2c"/>
<circle cx="354.3" cy="79.4" r="2.85" fill="#2c2c2c"/>
<circle cx="359.4" cy="81.3" r="2.85" fill="#2c2c2c"/>
<circle cx="364.9" cy="84" r="2.85" fill="#2c2c2c"/>
<circle cx="366" cy="77" r="2.85" fill="#2c2c2c"/>
<circle cx="369.1" cy="79.4" r="2.85" fill="#2c2c2c"/>
<circle cx="332.1" cy="94.6" r="2.85" fill="#2c2c2c"/>
<circle cx="337.6" cy="94.2" r="2.85" fill="#2c2c2c"/>
<circle cx="336.4" cy="100.4" r="2.85" fill="#2c2c2c"/>
<circle cx="338.7" cy="106.3" r="2.85" fill="#2c2c2c"/>
<circle cx="331.7" cy="105.9" r="2.85" fill="#2c2c2c"/>
<circle cx="325.9" cy="107.1" r="2.85" fill="#2c2c2c"/>
<circle cx="330.1" cy="112.5" r="2.85" fill="#2c2c2c"/>
<circle cx="332.9" cy="118.8" r="2.85" fill="#2c2c2c"/>
<circle cx="369.7" cy="79.2" r="2.85" fill="#2c2c2c"/>
<circle cx="364.1" cy="84.3" r="2.85" fill="#2c2c2c"/>
<circle cx="373.4" cy="85.7" r="2.85" fill="#2c2c2c"/>
<circle cx="378" cy="80.1" r="2.85" fill="#2c2c2c"/>
<circle cx="380.7" cy="80.6" r="2.85" fill="#2c2c2c"/>
<circle cx="381.7" cy="87.5" r="2.85" fill="#2c2c2c"/>
<circle cx="387.2" cy="86.6" r="2.85" fill="#2c2c2c"/>
<circle cx="392.3" cy="86.1" r="2.85" fill="#2c2c2c"/>
<circle cx="389.5" cy="93.5" r="2.85" fill="#2c2c2c"/>
<circle cx="395" cy="94.9" r="2.85" fill="#2c2c2c"/>
<circle cx="400.6" cy="95.3" r="2.85" fill="#2c2c2c"/>
<circle cx="397.8" cy="101.8" r="2.85" fill="#2c2c2c"/>
<circle cx="399.6" cy="106.4" r="2.85" fill="#2c2c2c"/>
<circle cx="407" cy="105.9" r="2.85" fill="#2c2c2c"/>
<circle cx="402.9" cy="111.5" r="2.85" fill="#2c2c2c"/>
<circle cx="404.2" cy="115.6" r="2.85" fill="#2c2c2c"/>
<circle cx="409.8" cy="118.4" r="2.85" fill="#2c2c2c"/>
<circle cx="405.6" cy="123.5" r="2.85" fill="#2c2c2c"/>
<circle cx="401.9" cy="128.5" r="2.85" fill="#2c2c2c"/>
<circle cx="360" cy="81" r="2.85" fill="#2c2c2c"/>
</g>
<g id="retro">
<circle cx="366.3" cy="584.8" r="50.8" fill="none" stroke="#a0a0a0" stroke-width="0.8"/>
<circle cx="366.3" cy="584.8" r="48.6" fill="none" stroke="#b0b0b0" stroke-width="0.7"/>
<g transform="translate(366.3 539.3) rotate(0)"><rect x="-1" y="-10" width="2" height="10" fill="#444"/><g transform="translate(0 -9.2)"><path d="M-6,-1 C-6.6,-4 -6.4,-9 -4.6,-11.2 C-3,-12.6 -1.4,-11.8 0,-11.4 C1.4,-11.8 3,-12.6 4.6,-11.2 C6.4,-9 6.6,-4 6,-1 C4.5,0.6 2,0.2 0,0.4 C-2,0.2 -4.5,0.6 -6,-1 Z" fill="#858585" stroke="#444" stroke-width="0.8"/><ellipse cx="0" cy="-5.6" rx="2.9" ry="5.2" fill="#a6a6a6" stroke="#555" stroke-width="0.5"/></g></g>
<g transform="translate(386.04 543.81) rotate(25.71)"><rect x="-1" y="-10" width="2" height="10" fill="#444"/><g transform="translate(0 -9.2)"><path d="M-6,-1 C-6.6,-4 -6.4,-9 -4.6,-11.2 C-3,-12.6 -1.4,-11.8 0,-11.4 C1.4,-11.8 3,-12.6 4.6,-11.2 C6.4,-9 6.6,-4 6,-1 C4.5,0.6 2,0.2 0,0.4 C-2,0.2 -4.5,0.6 -6,-1 Z" fill="#858585" stroke="#444" stroke-width="0.8"/><ellipse cx="0" cy="-5.6" rx="2.9" ry="5.2" fill="#a6a6a6" stroke="#555" stroke-width="0.5"/></g></g>
<g transform="translate(401.87 556.43) rotate(51.43)"><rect x="-1" y="-10" width="2" height="10" fill="#444"/><g transform="translate(0 -9.2)"><path d="M-6,-1 C-6.6,-4 -6.4,-9 -4.6,-11.2 C-3,-12.6 -1.4,-11.8 0,-11.4 C1.4,-11.8 3,-12.6 4.6,-11.2 C6.4,-9 6.6,-4 6,-1 C4.5,0.6 2,0.2 0,0.4 C-2,0.2 -4.5,0.6 -6,-1 Z" fill="#858585" stroke="#444" stroke-width="0.8"/><ellipse cx="0" cy="-5.6" rx="2.9" ry="5.2" fill="#a6a6a6" stroke="#555" stroke-width="0.5"/></g></g>
<g transform="translate(410.66 574.68) rotate(77.14)"><rect x="-1" y="-10" width="2" height="10" fill="#444"/><g transform="translate(0 -9.2)"><path d="M-6,-1 C-6.6,-4 -6.4,-9 -4.6,-11.2 C-3,-12.6 -1.4,-11.8 0,-11.4 C1.4,-11.8 3,-12.6 4.6,-11.2 C6.4,-9 6.6,-4 6,-1 C4.5,0.6 2,0.2 0,0.4 C-2,0.2 -4.5,0.6 -6,-1 Z" fill="#858585" stroke="#444" stroke-width="0.8"/><ellipse cx="0" cy="-5.6" rx="2.9" ry="5.2" fill="#a6a6a6" stroke="#555" stroke-width="0.5"/></g></g>
<g transform="translate(410.66 594.92) rotate(102.86)"><rect x="-1" y="-10" width="2" height="10" fill="#444"/><g transform="translate(0 -9.2)"><path d="M-6,-1 C-6.6,-4 -6.4,-9 -4.6,-11.2 C-3,-12.6 -1.4,-11.8 0,-11.4 C1.4,-11.8 3,-12.6 4.6,-11.2 C6.4,-9 6.6,-4 6,-1 C4.5,0.6 2,0.2 0,0.4 C-2,0.2 -4.5,0.6 -6,-1 Z" fill="#858585" stroke="#444" stroke-width="0.8"/><ellipse cx="0" cy="-5.6" rx="2.9" ry="5.2" fill="#a6a6a6" stroke="#555" stroke-width="0.5"/></g></g>
<g transform="translate(401.87 613.17) rotate(128.57)"><rect x="-1" y="-10" width="2" height="10" fill="#444"/><g transform="translate(0 -9.2)"><path d="M-6,-1 C-6.6,-4 -6.4,-9 -4.6,-11.2 C-3,-12.6 -1.4,-11.8 0,-11.4 C1.4,-11.8 3,-12.6 4.6,-11.2 C6.4,-9 6.6,-4 6,-1 C4.5,0.6 2,0.2 0,0.4 C-2,0.2 -4.5,0.6 -6,-1 Z" fill="#858585" stroke="#444" stroke-width="0.8"/><ellipse cx="0" cy="-5.6" rx="2.9" ry="5.2" fill="#a6a6a6" stroke="#555" stroke-width="0.5"/></g></g>
<g transform="translate(386.04 625.79) rotate(154.29)"><rect x="-1" y="-10" width="2" height="10" fill="#444"/><g transform="translate(0 -9.2)"><path d="M-6,-1 C-6.6,-4 -6.4,-9 -4.6,-11.2 C-3,-12.6 -1.4,-11.8 0,-11.4 C1.4,-11.8 3,-12.6 4.6,-11.2 C6.4,-9 6.6,-4 6,-1 C4.5,0.6 2,0.2 0,0.4 C-2,0.2 -4.5,0.6 -6,-1 Z" fill="#858585" stroke="#444" stroke-width="0.8"/><ellipse cx="0" cy="-5.6" rx="2.9" ry="5.2" fill="#a6a6a6" stroke="#555" stroke-width="0.5"/></g></g>
<g transform="translate(366.3 630.3) rotate(180)"><rect x="-1" y="-10" width="2" height="10" fill="#444"/><g transform="translate(0 -9.2)"><path d="M-6,-1 C-6.6,-4 -6.4,-9 -4.6,-11.2 C-3,-12.6 -1.4,-11.8 0,-11.4 C1.4,-11.8 3,-12.6 4.6,-11.2 C6.4,-9 6.6,-4 6,-1 C4.5,0.6 2,0.2 0,0.4 C-2,0.2 -4.5,0.6 -6,-1 Z" fill="#858585" stroke="#444" stroke-width="0.8"/><ellipse cx="0" cy="-5.6" rx="2.9" ry="5.2" fill="#a6a6a6" stroke="#555" stroke-width="0.5"/></g></g>
<g transform="translate(346.56 625.79) rotate(205.71)"><rect x="-1" y="-10" width="2" height="10" fill="#444"/><g transform="translate(0 -9.2)"><path d="M-6,-1 C-6.6,-4 -6.4,-9 -4.6,-11.2 C-3,-12.6 -1.4,-11.8 0,-11.4 C1.4,-11.8 3,-12.6 4.6,-11.2 C6.4,-9 6.6,-4 6,-1 C4.5,0.6 2,0.2 0,0.4 C-2,0.2 -4.5,0.6 -6,-1 Z" fill="#858585" stroke="#444" stroke-width="0.8"/><ellipse cx="0" cy="-5.6" rx="2.9" ry="5.2" fill="#a6a6a6" stroke="#555" stroke-width="0.5"/></g></g>
<g transform="translate(330.73 613.17) rotate(231.43)"><rect x="-1" y="-10" width="2" height="10" fill="#444"/><g transform="translate(0 -9.2)"><path d="M-6,-1 C-6.6,-4 -6.4,-9 -4.6,-11.2 C-3,-12.6 -1.4,-11.8 0,-11.4 C1.4,-11.8 3,-12.6 4.6,-11.2 C6.4,-9 6.6,-4 6,-1 C4.5,0.6 2,0.2 0,0.4 C-2,0.2 -4.5,0.6 -6,-1 Z" fill="#858585" stroke="#444" stroke-width="0.8"/><ellipse cx="0" cy="-5.6" rx="2.9" ry="5.2" fill="#a6a6a6" stroke="#555" stroke-width="0.5"/></g></g>
<g transform="translate(321.94 594.92) rotate(257.14)"><rect x="-1" y="-10" width="2" height="10" fill="#444"/><g transform="translate(0 -9.2)"><path d="M-6,-1 C-6.6,-4 -6.4,-9 -4.6,-11.2 C-3,-12.6 -1.4,-11.8 0,-11.4 C1.4,-11.8 3,-12.6 4.6,-11.2 C6.4,-9 6.6,-4 6,-1 C4.5,0.6 2,0.2 0,0.4 C-2,0.2 -4.5,0.6 -6,-1 Z" fill="#858585" stroke="#444" stroke-width="0.8"/><ellipse cx="0" cy="-5.6" rx="2.9" ry="5.2" fill="#a6a6a6" stroke="#555" stroke-width="0.5"/></g></g>
<g transform="translate(321.94 574.68) rotate(282.86)"><rect x="-1" y="-10" width="2" height="10" fill="#444"/><g transform="translate(0 -9.2)"><path d="M-6,-1 C-6.6,-4 -6.4,-9 -4.6,-11.2 C-3,-12.6 -1.4,-11.8 0,-11.4 C1.4,-11.8 3,-12.6 4.6,-11.2 C6.4,-9 6.6,-4 6,-1 C4.5,0.6 2,0.2 0,0.4 C-2,0.2 -4.5,0.6 -6,-1 Z" fill="#858585" stroke="#444" stroke-width="0.8"/><ellipse cx="0" cy="-5.6" rx="2.9" ry="5.2" fill="#a6a6a6" stroke="#555" stroke-width="0.5"/></g></g>
<g transform="translate(330.73 556.43) rotate(308.57)"><rect x="-1" y="-10" width="2" height="10" fill="#444"/><g transform="translate(0 -9.2)"><path d="M-6,-1 C-6.6,-4 -6.4,-9 -4.6,-11.2 C-3,-12.6 -1.4,-11.8 0,-11.4 C1.4,-11.8 3,-12.6 4.6,-11.2 C6.4,-9 6.6,-4 6,-1 C4.5,0.6 2,0.2 0,0.4 C-2,0.2 -4.5,0.6 -6,-1 Z" fill="#858585" stroke="#444" stroke-width="0.8"/><ellipse cx="0" cy="-5.6" rx="2.9" ry="5.2" fill="#a6a6a6" stroke="#555" stroke-width="0.5"/></g></g>
<g transform="translate(346.56 543.81) rotate(334.29)"><rect x="-1" y="-10" width="2" height="10" fill="#444"/><g transform="translate(0 -9.2)"><path d="M-6,-1 C-6.6,-4 -6.4,-9 -4.6,-11.2 C-3,-12.6 -1.4,-11.8 0,-11.4 C1.4,-11.8 3,-12.6 4.6,-11.2 C6.4,-9 6.6,-4 6,-1 C4.5,0.6 2,0.2 0,0.4 C-2,0.2 -4.5,0.6 -6,-1 Z" fill="#858585" stroke="#444" stroke-width="0.8"/><ellipse cx="0" cy="-5.6" rx="2.9" ry="5.2" fill="#a6a6a6" stroke="#555" stroke-width="0.5"/></g></g>
<circle cx="366.3" cy="584.8" r="43.5" fill="none" stroke="#505050" stroke-width="4.6"/>
<circle cx="409.8" cy="584.8" r="3.3" fill="#505050"/>
<circle cx="409.46" cy="590.25" r="3.3" fill="#505050"/>
<circle cx="408.43" cy="595.62" r="3.3" fill="#505050"/>
<circle cx="406.75" cy="600.81" r="3.3" fill="#505050"/>
<circle cx="404.42" cy="605.76" r="3.3" fill="#505050"/>
<circle cx="401.49" cy="610.37" r="3.3" fill="#505050"/>
<circle cx="398.01" cy="614.58" r="3.3" fill="#505050"/>
<circle cx="394.03" cy="618.32" r="3.3" fill="#505050"/>
<circle cx="389.61" cy="621.53" r="3.3" fill="#505050"/>
<circle cx="384.82" cy="624.16" r="3.3" fill="#505050"/>
<circle cx="379.74" cy="626.17" r="3.3" fill="#505050"/>
<circle cx="374.45" cy="627.53" r="3.3" fill="#505050"/>
<circle cx="369.03" cy="628.21" r="3.3" fill="#505050"/>
<circle cx="363.57" cy="628.21" r="3.3" fill="#505050"/>
<circle cx="358.15" cy="627.53" r="3.3" fill="#505050"/>
<circle cx="352.86" cy="626.17" r="3.3" fill="#505050"/>
<circle cx="347.78" cy="624.16" r="3.3" fill="#505050"/>
<circle cx="342.99" cy="621.53" r="3.3" fill="#505050"/>
<circle cx="338.57" cy="618.32" r="3.3" fill="#505050"/>
<circle cx="334.59" cy="614.58" r="3.3" fill="#505050"/>
<circle cx="331.11" cy="610.37" r="3.3" fill="#505050"/>
<circle cx="328.18" cy="605.76" r="3.3" fill="#505050"/>
<circle cx="325.85" cy="600.81" r="3.3" fill="#505050"/>
<circle cx="324.17" cy="595.62" r="3.3" fill="#505050"/>
<circle cx="323.14" cy="590.25" r="3.3" fill="#505050"/>
<circle cx="322.8" cy="584.8" r="3.3" fill="#505050"/>
<circle cx="323.14" cy="579.35" r="3.3" fill="#505050"/>
<circle cx="324.17" cy="573.98" r="3.3" fill="#505050"/>
<circle cx="325.85" cy="568.79" r="3.3" fill="#505050"/>
<circle cx="328.18" cy="563.84" r="3.3" fill="#505050"/>
<circle cx="331.11" cy="559.23" r="3.3" fill="#505050"/>
<circle cx="334.59" cy="555.02" r="3.3" fill="#505050"/>
<circle cx="338.57" cy="551.28" r="3.3" fill="#505050"/>
<circle cx="342.99" cy="548.07" r="3.3" fill="#505050"/>
<circle cx="347.78" cy="545.44" r="3.3" fill="#505050"/>
<circle cx="352.86" cy="543.43" r="3.3" fill="#505050"/>
<circle cx="358.15" cy="542.07" r="3.3" fill="#505050"/>
<circle cx="363.57" cy="541.39" r="3.3" fill="#505050"/>
<circle cx="369.03" cy="541.39" r="3.3" fill="#505050"/>
<circle cx="374.45" cy="542.07" r="3.3" fill="#505050"/>
<circle cx="379.74" cy="543.43" r="3.3" fill="#505050"/>
<circle cx="384.82" cy="545.44" r="3.3" fill="#505050"/>
<circle cx="389.61" cy="548.07" r="3.3" fill="#505050"/>
<circle cx="394.03" cy="551.28" r="3.3" fill="#505050"/>
<circle cx="398.01" cy="555.02" r="3.3" fill="#505050"/>
<circle cx="401.49" cy="559.23" r="3.3" fill="#505050"/>
<circle cx="404.42" cy="563.84" r="3.3" fill="#505050"/>
<circle cx="406.75" cy="568.79" r="3.3" fill="#505050"/>
<circle cx="408.43" cy="573.98" r="3.3" fill="#505050"/>
<circle cx="409.46" cy="579.35" r="3.3" fill="#505050"/>
<path d="M342.3 560.5 Q366.5 543.5 392.2 563 L394.6 602 C394.6 623.2 339.6 623.2 339.6 603 Z" fill="none" stroke="#8a8a8a" stroke-width="2.6"/>
<circle cx="343.51" cy="559.67" r="1.85" fill="#8a8a8a" stroke="#666" stroke-width="0.45"/>
<circle cx="344.72" cy="558.89" r="1.85" fill="#8a8a8a" stroke="#666" stroke-width="0.45"/>
<circle cx="348.37" cy="556.82" r="1.85" fill="#8a8a8a" stroke="#666" stroke-width="0.45"/>
<circle cx="350.82" cy="555.67" r="1.85" fill="#8a8a8a" stroke="#666" stroke-width="0.45"/>
<circle cx="353.27" cy="554.7" r="1.85" fill="#8a8a8a" stroke="#666" stroke-width="0.45"/>
<circle cx="355.72" cy="553.91" r="1.85" fill="#8a8a8a" stroke="#666" stroke-width="0.45"/>
<circle cx="358.19" cy="553.31" r="1.85" fill="#8a8a8a" stroke="#666" stroke-width="0.45"/>
<circle cx="361.9" cy="552.74" r="1.85" fill="#8a8a8a" stroke="#666" stroke-width="0.45"/>
<circle cx="364.38" cy="552.59" r="1.85" fill="#8a8a8a" stroke="#666" stroke-width="0.45"/>
<circle cx="366.88" cy="552.62" r="1.85" fill="#8a8a8a" stroke="#666" stroke-width="0.45"/>
<circle cx="370.63" cy="553.02" r="1.85" fill="#8a8a8a" stroke="#666" stroke-width="0.45"/>
<circle cx="373.14" cy="553.51" r="1.85" fill="#8a8a8a" stroke="#666" stroke-width="0.45"/>
<circle cx="375.65" cy="554.18" r="1.85" fill="#8a8a8a" stroke="#666" stroke-width="0.45"/>
<circle cx="378.18" cy="555.04" r="1.85" fill="#8a8a8a" stroke="#666" stroke-width="0.45"/>
<circle cx="380.71" cy="556.07" r="1.85" fill="#8a8a8a" stroke="#666" stroke-width="0.45"/>
<circle cx="384.52" cy="557.97" r="1.85" fill="#8a8a8a" stroke="#666" stroke-width="0.45"/>
<circle cx="387.07" cy="559.47" r="1.85" fill="#8a8a8a" stroke="#666" stroke-width="0.45"/>
<circle cx="388.35" cy="560.28" r="1.85" fill="#8a8a8a" stroke="#666" stroke-width="0.45"/>
<circle cx="390.92" cy="562.05" r="1.85" fill="#8a8a8a" stroke="#666" stroke-width="0.45"/>
<circle cx="392.32" cy="564.95" r="1.85" fill="#8a8a8a" stroke="#666" stroke-width="0.45"/>
<circle cx="392.56" cy="568.85" r="1.85" fill="#8a8a8a" stroke="#666" stroke-width="0.45"/>
<circle cx="392.68" cy="570.8" r="1.85" fill="#8a8a8a" stroke="#666" stroke-width="0.45"/>
<circle cx="392.8" cy="572.75" r="1.85" fill="#8a8a8a" stroke="#666" stroke-width="0.45"/>
<circle cx="393.04" cy="576.65" r="1.85" fill="#8a8a8a" stroke="#666" stroke-width="0.45"/>
<circle cx="393.16" cy="578.6" r="1.85" fill="#8a8a8a" stroke="#666" stroke-width="0.45"/>
<circle cx="393.4" cy="582.5" r="1.85" fill="#8a8a8a" stroke="#666" stroke-width="0.45"/>
<circle cx="393.52" cy="584.45" r="1.85" fill="#8a8a8a" stroke="#666" stroke-width="0.45"/>
<circle cx="393.76" cy="588.35" r="1.85" fill="#8a8a8a" stroke="#666" stroke-width="0.45"/>
<circle cx="393.88" cy="590.3" r="1.85" fill="#8a8a8a" stroke="#666" stroke-width="0.45"/>
<circle cx="394.12" cy="594.2" r="1.85" fill="#8a8a8a" stroke="#666" stroke-width="0.45"/>
<circle cx="394.24" cy="596.15" r="1.85" fill="#8a8a8a" stroke="#666" stroke-width="0.45"/>
<circle cx="394.48" cy="600.05" r="1.85" fill="#8a8a8a" stroke="#666" stroke-width="0.45"/>
<circle cx="394.6" cy="602" r="1.85" fill="#8a8a8a" stroke="#666" stroke-width="0.45"/>
<circle cx="394.2" cy="605.02" r="1.85" fill="#8a8a8a" stroke="#666" stroke-width="0.45"/>
<circle cx="393.06" cy="607.73" r="1.85" fill="#8a8a8a" stroke="#666" stroke-width="0.45"/>
<circle cx="391.26" cy="610.11" r="1.85" fill="#8a8a8a" stroke="#666" stroke-width="0.45"/>
<circle cx="388.88" cy="612.18" r="1.85" fill="#8a8a8a" stroke="#666" stroke-width="0.45"/>
<circle cx="387.01" cy="613.39" r="1.85" fill="#8a8a8a" stroke="#666" stroke-width="0.45"/>
<circle cx="383.86" cy="614.94" r="1.85" fill="#8a8a8a" stroke="#666" stroke-width="0.45"/>
<circle cx="381.55" cy="615.79" r="1.85" fill="#8a8a8a" stroke="#666" stroke-width="0.45"/>
<circle cx="379.1" cy="616.51" r="1.85" fill="#8a8a8a" stroke="#666" stroke-width="0.45"/>
<circle cx="375.24" cy="617.33" r="1.85" fill="#8a8a8a" stroke="#666" stroke-width="0.45"/>
<circle cx="372.57" cy="617.7" r="1.85" fill="#8a8a8a" stroke="#666" stroke-width="0.45"/>
<circle cx="369.85" cy="617.93" r="1.85" fill="#8a8a8a" stroke="#666" stroke-width="0.45"/>
<circle cx="367.1" cy="618.03" r="1.85" fill="#8a8a8a" stroke="#666" stroke-width="0.45"/>
<circle cx="364.35" cy="617.98" r="1.85" fill="#8a8a8a" stroke="#666" stroke-width="0.45"/>
<circle cx="361.63" cy="617.8" r="1.85" fill="#8a8a8a" stroke="#666" stroke-width="0.45"/>
<circle cx="358.96" cy="617.48" r="1.85" fill="#8a8a8a" stroke="#666" stroke-width="0.45"/>
<circle cx="355.1" cy="616.74" r="1.85" fill="#8a8a8a" stroke="#666" stroke-width="0.45"/>
<circle cx="352.65" cy="616.08" r="1.85" fill="#8a8a8a" stroke="#666" stroke-width="0.45"/>
<circle cx="350.34" cy="615.28" r="1.85" fill="#8a8a8a" stroke="#666" stroke-width="0.45"/>
<circle cx="347.19" cy="613.83" r="1.85" fill="#8a8a8a" stroke="#666" stroke-width="0.45"/>
<circle cx="345.32" cy="612.69" r="1.85" fill="#8a8a8a" stroke="#666" stroke-width="0.45"/>
<circle cx="342.94" cy="610.72" r="1.85" fill="#8a8a8a" stroke="#666" stroke-width="0.45"/>
<circle cx="341.14" cy="608.45" r="1.85" fill="#8a8a8a" stroke="#666" stroke-width="0.45"/>
<circle cx="340" cy="605.88" r="1.85" fill="#8a8a8a" stroke="#666" stroke-width="0.45"/>
<circle cx="339.6" cy="603" r="1.85" fill="#8a8a8a" stroke="#666" stroke-width="0.45"/>
<circle cx="339.87" cy="598.75" r="1.85" fill="#8a8a8a" stroke="#666" stroke-width="0.45"/>
<circle cx="340" cy="596.62" r="1.85" fill="#8a8a8a" stroke="#666" stroke-width="0.45"/>
<circle cx="340.14" cy="594.5" r="1.85" fill="#8a8a8a" stroke="#666" stroke-width="0.45"/>
<circle cx="340.41" cy="590.25" r="1.85" fill="#8a8a8a" stroke="#666" stroke-width="0.45"/>
<circle cx="340.55" cy="588.12" r="1.85" fill="#8a8a8a" stroke="#666" stroke-width="0.45"/>
<circle cx="340.81" cy="583.88" r="1.85" fill="#8a8a8a" stroke="#666" stroke-width="0.45"/>
<circle cx="340.95" cy="581.75" r="1.85" fill="#8a8a8a" stroke="#666" stroke-width="0.45"/>
<circle cx="341.09" cy="579.62" r="1.85" fill="#8a8a8a" stroke="#666" stroke-width="0.45"/>
<circle cx="341.36" cy="575.38" r="1.85" fill="#8a8a8a" stroke="#666" stroke-width="0.45"/>
<circle cx="341.49" cy="573.25" r="1.85" fill="#8a8a8a" stroke="#666" stroke-width="0.45"/>
<circle cx="341.62" cy="571.12" r="1.85" fill="#8a8a8a" stroke="#666" stroke-width="0.45"/>
<circle cx="341.9" cy="566.88" r="1.85" fill="#8a8a8a" stroke="#666" stroke-width="0.45"/>
<circle cx="342.03" cy="564.75" r="1.85" fill="#8a8a8a" stroke="#666" stroke-width="0.45"/>
<circle cx="342.17" cy="562.62" r="1.85" fill="#8a8a8a" stroke="#666" stroke-width="0.45"/>
<path d="M344.2 576.74 L344.43 576.28 L344.67 575.88 L344.9 575.56 L345.13 575.31 L345.37 575.13 L345.6 575.03 L345.83 575 L346.07 575.05 L346.3 575.18 L346.53 575.38 L346.77 575.65 L347 575.99 L347.24 576.41 L347.47 576.89 L347.7 577.43 L347.94 578.02 L348.17 578.68 L348.4 579.38 L348.64 580.12 L348.87 580.9 L349.1 581.71 L349.34 582.55 L349.57 583.4 L349.8 584.27 L350.04 585.14 L350.27 586.01 L350.5 586.88 L350.74 587.73 L350.97 588.55 L351.2 589.36 L351.44 590.12 L351.67 590.85 L351.91 591.54 L352.14 592.17 L352.37 592.75 L352.61 593.28 L352.84 593.73 L353.07 594.12 L353.31 594.45 L353.54 594.7 L353.77 594.87 L354.01 594.97 L354.24 595 L354.47 594.95 L354.71 594.82 L354.94 594.62 L355.17 594.34 L355.41 594 L355.64 593.58 L355.88 593.1 L356.11 592.56 L356.34 591.96 L356.58 591.31 L356.81 590.61 L357.04 589.86 L357.28 589.08 L357.51 588.27 L357.74 587.43 L357.98 586.58 L358.21 585.71 L358.44 584.84 L358.68 583.97 L358.91 583.1 L359.14 582.25 L359.38 581.43 L359.61 580.62 L359.84 579.86 L360.08 579.13 L360.31 578.44 L360.54 577.81 L360.78 577.23 L361.01 576.71 L361.25 576.26 L361.48 575.87 L361.71 575.55 L361.95 575.3 L362.18 575.12 L362.41 575.02 L362.65 575 L362.88 575.05 L363.11 575.18 L363.35 575.39 L363.58 575.66 L363.81 576.01 L364.05 576.43 L364.28 576.91 L364.51 577.46 L364.75 578.06 L364.98 578.71 L365.21 579.41 L365.45 580.16 L365.68 580.94 L365.92 581.75 L366.15 582.59 L366.38 583.44 L366.62 584.31 L366.85 585.19 L367.08 586.06 L367.32 586.92 L367.55 587.77 L367.78 588.6 L368.02 589.4 L368.25 590.16 L368.48 590.89 L368.72 591.57 L368.95 592.2 L369.18 592.78 L369.42 593.3 L369.65 593.75 L369.88 594.14 L370.12 594.46 L370.35 594.71 L370.59 594.88 L370.82 594.98 L371.05 595 L371.29 594.94 L371.52 594.81 L371.75 594.61 L371.99 594.33 L372.22 593.98 L372.45 593.56 L372.69 593.07 L372.92 592.53 L373.15 591.93 L373.39 591.27 L373.62 590.57 L373.85 589.82 L374.09 589.04 L374.32 588.23 L374.55 587.39 L374.79 586.53 L375.02 585.67 L375.26 584.79 L375.49 583.92 L375.72 583.06 L375.96 582.21 L376.19 581.38 L376.42 580.58 L376.66 579.82 L376.89 579.09 L377.12 578.41 L377.36 577.78 L377.59 577.2 L377.82 576.69 L378.06 576.23 L378.29 575.85 L378.52 575.53 L378.76 575.29 L378.99 575.12 L379.22 575.02 L379.46 575 L379.69 575.06 L379.93 575.19 L380.16 575.4 L380.39 575.68 L380.63 576.03 L380.86 576.45 L381.09 576.94 L381.33 577.49 L381.56 578.09 L381.79 578.75 L382.03 579.45 L382.26 580.2 L382.49 580.98 L382.73 581.79 L382.96 582.63 L383.19 583.49 L383.43 584.36 L383.66 585.23 L383.89 586.1 L384.13 586.96 L384.36 587.81 L384.6 588.64 L384.83 589.44 L385.06 590.2 L385.3 590.93 L385.53 591.61 L385.76 592.24 L386 592.81 L386.23 593.33 L386.46 593.78 L386.7 594.16 L386.93 594.48 L387.16 594.72 L387.4 594.89 L387.63 594.98 L387.86 595 L388.1 594.94 L388.33 594.8 L388.56 594.59 L388.8 594.31 L389.03 593.96 L389.27 593.54 L389.5 593.05 L389.73 592.5 L389.97 591.89 L390.2 591.24 L390.43 590.53 L390.67 589.78 L390.9 589" fill="none" stroke="#9a9a9a" stroke-width="1.3"/>
</g>
<g id="paramyxo">
<g transform="translate(570 423.7) rotate(0)" fill="none" stroke="#ababab" stroke-width="1.7"><path d="M0 0 V-8.6"/><path d="M-2.6 -9.6 Q0 -8 2.6 -9.6" stroke-width="1.6"/></g>
<g transform="translate(594 430.13) rotate(30)" fill="none" stroke="#ababab" stroke-width="1.7"><path d="M0 0 V-8.6"/><path d="M-2.6 -9.6 Q0 -8 2.6 -9.6" stroke-width="1.6"/></g>
<g transform="translate(611.57 447.7) rotate(60)" fill="none" stroke="#ababab" stroke-width="1.7"><path d="M0 0 V-8.6"/><path d="M-2.6 -9.6 Q0 -8 2.6 -9.6" stroke-width="1.6"/></g>
<g transform="translate(618 471.7) rotate(90)" fill="none" stroke="#ababab" stroke-width="1.7"><path d="M0 0 V-8.6"/><path d="M-2.6 -9.6 Q0 -8 2.6 -9.6" stroke-width="1.6"/></g>
<g transform="translate(611.57 495.7) rotate(120)" fill="none" stroke="#ababab" stroke-width="1.7"><path d="M0 0 V-8.6"/><path d="M-2.6 -9.6 Q0 -8 2.6 -9.6" stroke-width="1.6"/></g>
<g transform="translate(594 513.27) rotate(150)" fill="none" stroke="#ababab" stroke-width="1.7"><path d="M0 0 V-8.6"/><path d="M-2.6 -9.6 Q0 -8 2.6 -9.6" stroke-width="1.6"/></g>
<g transform="translate(570 519.7) rotate(180)" fill="none" stroke="#ababab" stroke-width="1.7"><path d="M0 0 V-8.6"/><path d="M-2.6 -9.6 Q0 -8 2.6 -9.6" stroke-width="1.6"/></g>
<g transform="translate(546 513.27) rotate(210)" fill="none" stroke="#ababab" stroke-width="1.7"><path d="M0 0 V-8.6"/><path d="M-2.6 -9.6 Q0 -8 2.6 -9.6" stroke-width="1.6"/></g>
<g transform="translate(528.43 495.7) rotate(240)" fill="none" stroke="#ababab" stroke-width="1.7"><path d="M0 0 V-8.6"/><path d="M-2.6 -9.6 Q0 -8 2.6 -9.6" stroke-width="1.6"/></g>
<g transform="translate(522 471.7) rotate(270)" fill="none" stroke="#ababab" stroke-width="1.7"><path d="M0 0 V-8.6"/><path d="M-2.6 -9.6 Q0 -8 2.6 -9.6" stroke-width="1.6"/></g>
<g transform="translate(528.43 447.7) rotate(300)" fill="none" stroke="#ababab" stroke-width="1.7"><path d="M0 0 V-8.6"/><path d="M-2.6 -9.6 Q0 -8 2.6 -9.6" stroke-width="1.6"/></g>
<g transform="translate(546 430.13) rotate(330)" fill="none" stroke="#ababab" stroke-width="1.7"><path d="M0 0 V-8.6"/><path d="M-2.6 -9.6 Q0 -8 2.6 -9.6" stroke-width="1.6"/></g>
<g transform="translate(563.32 424.17) rotate(-8)"><path d="M0 0 L0 -16" stroke="#6a6a6a" stroke-width="1.7"/><path transform="translate(0 -15.5)" d="M0,0 C-2.6,-0.6 -3.7,-3.5 -3.7,-7.5 C-3.7,-11 -3.3,-13.6 -2.2,-14.4 L-1,-13.4 L0,-14.4 L1,-13.4 L2.2,-14.4 C3.3,-13.6 3.7,-11 3.7,-7.5 C3.7,-3.5 2.6,-0.6 0,0 Z" fill="#878787" stroke="#555" stroke-width="0.75"/></g>
<g transform="translate(587.98 427.2) rotate(22)"><path d="M0 0 L0 -16" stroke="#6a6a6a" stroke-width="1.7"/><path transform="translate(0 -15.5)" d="M0,0 C-2.6,-0.6 -3.7,-3.5 -3.7,-7.5 C-3.7,-11 -3.3,-13.6 -2.2,-14.4 L-1,-13.4 L0,-14.4 L1,-13.4 L2.2,-14.4 C3.3,-13.6 3.7,-11 3.7,-7.5 C3.7,-3.5 2.6,-0.6 0,0 Z" fill="#878787" stroke="#555" stroke-width="0.75"/></g>
<g transform="translate(607.82 442.15) rotate(52)"><path d="M0 0 L0 -16" stroke="#6a6a6a" stroke-width="1.7"/><path transform="translate(0 -15.5)" d="M0,0 C-2.6,-0.6 -3.7,-3.5 -3.7,-7.5 C-3.7,-11 -3.3,-13.6 -2.2,-14.4 L-1,-13.4 L0,-14.4 L1,-13.4 L2.2,-14.4 C3.3,-13.6 3.7,-11 3.7,-7.5 C3.7,-3.5 2.6,-0.6 0,0 Z" fill="#878787" stroke="#555" stroke-width="0.75"/></g>
<g transform="translate(617.53 465.02) rotate(82)"><path d="M0 0 L0 -16" stroke="#6a6a6a" stroke-width="1.7"/><path transform="translate(0 -15.5)" d="M0,0 C-2.6,-0.6 -3.7,-3.5 -3.7,-7.5 C-3.7,-11 -3.3,-13.6 -2.2,-14.4 L-1,-13.4 L0,-14.4 L1,-13.4 L2.2,-14.4 C3.3,-13.6 3.7,-11 3.7,-7.5 C3.7,-3.5 2.6,-0.6 0,0 Z" fill="#878787" stroke="#555" stroke-width="0.75"/></g>
<g transform="translate(614.5 489.68) rotate(112)"><path d="M0 0 L0 -16" stroke="#6a6a6a" stroke-width="1.7"/><path transform="translate(0 -15.5)" d="M0,0 C-2.6,-0.6 -3.7,-3.5 -3.7,-7.5 C-3.7,-11 -3.3,-13.6 -2.2,-14.4 L-1,-13.4 L0,-14.4 L1,-13.4 L2.2,-14.4 C3.3,-13.6 3.7,-11 3.7,-7.5 C3.7,-3.5 2.6,-0.6 0,0 Z" fill="#878787" stroke="#555" stroke-width="0.75"/></g>
<g transform="translate(599.55 509.52) rotate(142)"><path d="M0 0 L0 -16" stroke="#6a6a6a" stroke-width="1.7"/><path transform="translate(0 -15.5)" d="M0,0 C-2.6,-0.6 -3.7,-3.5 -3.7,-7.5 C-3.7,-11 -3.3,-13.6 -2.2,-14.4 L-1,-13.4 L0,-14.4 L1,-13.4 L2.2,-14.4 C3.3,-13.6 3.7,-11 3.7,-7.5 C3.7,-3.5 2.6,-0.6 0,0 Z" fill="#878787" stroke="#555" stroke-width="0.75"/></g>
<g transform="translate(576.68 519.23) rotate(172)"><path d="M0 0 L0 -16" stroke="#6a6a6a" stroke-width="1.7"/><path transform="translate(0 -15.5)" d="M0,0 C-2.6,-0.6 -3.7,-3.5 -3.7,-7.5 C-3.7,-11 -3.3,-13.6 -2.2,-14.4 L-1,-13.4 L0,-14.4 L1,-13.4 L2.2,-14.4 C3.3,-13.6 3.7,-11 3.7,-7.5 C3.7,-3.5 2.6,-0.6 0,0 Z" fill="#878787" stroke="#555" stroke-width="0.75"/></g>
<g transform="translate(552.02 516.2) rotate(202)"><path d="M0 0 L0 -16" stroke="#6a6a6a" stroke-width="1.7"/><path transform="translate(0 -15.5)" d="M0,0 C-2.6,-0.6 -3.7,-3.5 -3.7,-7.5 C-3.7,-11 -3.3,-13.6 -2.2,-14.4 L-1,-13.4 L0,-14.4 L1,-13.4 L2.2,-14.4 C3.3,-13.6 3.7,-11 3.7,-7.5 C3.7,-3.5 2.6,-0.6 0,0 Z" fill="#878787" stroke="#555" stroke-width="0.75"/></g>
<g transform="translate(532.18 501.25) rotate(232)"><path d="M0 0 L0 -16" stroke="#6a6a6a" stroke-width="1.7"/><path transform="translate(0 -15.5)" d="M0,0 C-2.6,-0.6 -3.7,-3.5 -3.7,-7.5 C-3.7,-11 -3.3,-13.6 -2.2,-14.4 L-1,-13.4 L0,-14.4 L1,-13.4 L2.2,-14.4 C3.3,-13.6 3.7,-11 3.7,-7.5 C3.7,-3.5 2.6,-0.6 0,0 Z" fill="#878787" stroke="#555" stroke-width="0.75"/></g>
<g transform="translate(522.47 478.38) rotate(262)"><path d="M0 0 L0 -16" stroke="#6a6a6a" stroke-width="1.7"/><path transform="translate(0 -15.5)" d="M0,0 C-2.6,-0.6 -3.7,-3.5 -3.7,-7.5 C-3.7,-11 -3.3,-13.6 -2.2,-14.4 L-1,-13.4 L0,-14.4 L1,-13.4 L2.2,-14.4 C3.3,-13.6 3.7,-11 3.7,-7.5 C3.7,-3.5 2.6,-0.6 0,0 Z" fill="#878787" stroke="#555" stroke-width="0.75"/></g>
<g transform="translate(525.5 453.72) rotate(292)"><path d="M0 0 L0 -16" stroke="#6a6a6a" stroke-width="1.7"/><path transform="translate(0 -15.5)" d="M0,0 C-2.6,-0.6 -3.7,-3.5 -3.7,-7.5 C-3.7,-11 -3.3,-13.6 -2.2,-14.4 L-1,-13.4 L0,-14.4 L1,-13.4 L2.2,-14.4 C3.3,-13.6 3.7,-11 3.7,-7.5 C3.7,-3.5 2.6,-0.6 0,0 Z" fill="#878787" stroke="#555" stroke-width="0.75"/></g>
<g transform="translate(540.45 433.88) rotate(322)"><path d="M0 0 L0 -16" stroke="#6a6a6a" stroke-width="1.7"/><path transform="translate(0 -15.5)" d="M0,0 C-2.6,-0.6 -3.7,-3.5 -3.7,-7.5 C-3.7,-11 -3.3,-13.6 -2.2,-14.4 L-1,-13.4 L0,-14.4 L1,-13.4 L2.2,-14.4 C3.3,-13.6 3.7,-11 3.7,-7.5 C3.7,-3.5 2.6,-0.6 0,0 Z" fill="#878787" stroke="#555" stroke-width="0.75"/></g>
<circle cx="570" cy="471.7" r="50" fill="none" stroke="#a8a8a8" stroke-width="0.8"/>
<circle cx="570" cy="471.7" r="48" fill="none" stroke="#b0b0b0" stroke-width="0.8"/>
<ellipse cx="0" cy="0" rx="1.15" ry="3.45" transform="translate(613.2 471.7) rotate(90)" fill="#f2f2f2" stroke="#8c8c8c" stroke-width="0.75"/>
<ellipse cx="0" cy="0" rx="1.15" ry="3.45" transform="translate(613.03 475.57) rotate(95.14)" fill="#f2f2f2" stroke="#8c8c8c" stroke-width="0.75"/>
<ellipse cx="0" cy="0" rx="1.15" ry="3.45" transform="translate(612.51 479.41) rotate(100.29)" fill="#f2f2f2" stroke="#8c8c8c" stroke-width="0.75"/>
<ellipse cx="0" cy="0" rx="1.15" ry="3.45" transform="translate(611.64 483.19) rotate(105.43)" fill="#f2f2f2" stroke="#8c8c8c" stroke-width="0.75"/>
<ellipse cx="0" cy="0" rx="1.15" ry="3.45" transform="translate(610.45 486.88) rotate(110.57)" fill="#f2f2f2" stroke="#8c8c8c" stroke-width="0.75"/>
<ellipse cx="0" cy="0" rx="1.15" ry="3.45" transform="translate(608.92 490.44) rotate(115.71)" fill="#f2f2f2" stroke="#8c8c8c" stroke-width="0.75"/>
<ellipse cx="0" cy="0" rx="1.15" ry="3.45" transform="translate(607.08 493.86) rotate(120.86)" fill="#f2f2f2" stroke="#8c8c8c" stroke-width="0.75"/>
<ellipse cx="0" cy="0" rx="1.15" ry="3.45" transform="translate(604.95 497.09) rotate(126)" fill="#f2f2f2" stroke="#8c8c8c" stroke-width="0.75"/>
<ellipse cx="0" cy="0" rx="1.15" ry="3.45" transform="translate(602.53 500.12) rotate(131.14)" fill="#f2f2f2" stroke="#8c8c8c" stroke-width="0.75"/>
<ellipse cx="0" cy="0" rx="1.15" ry="3.45" transform="translate(599.85 502.92) rotate(136.29)" fill="#f2f2f2" stroke="#8c8c8c" stroke-width="0.75"/>
<ellipse cx="0" cy="0" rx="1.15" ry="3.45" transform="translate(596.93 505.48) rotate(141.43)" fill="#f2f2f2" stroke="#8c8c8c" stroke-width="0.75"/>
<ellipse cx="0" cy="0" rx="1.15" ry="3.45" transform="translate(593.8 507.75) rotate(146.57)" fill="#f2f2f2" stroke="#8c8c8c" stroke-width="0.75"/>
<ellipse cx="0" cy="0" rx="1.15" ry="3.45" transform="translate(590.47 509.74) rotate(151.71)" fill="#f2f2f2" stroke="#8c8c8c" stroke-width="0.75"/>
<ellipse cx="0" cy="0" rx="1.15" ry="3.45" transform="translate(586.98 511.42) rotate(156.86)" fill="#f2f2f2" stroke="#8c8c8c" stroke-width="0.75"/>
<ellipse cx="0" cy="0" rx="1.15" ry="3.45" transform="translate(583.35 512.79) rotate(162)" fill="#f2f2f2" stroke="#8c8c8c" stroke-width="0.75"/>
<ellipse cx="0" cy="0" rx="1.15" ry="3.45" transform="translate(579.61 513.82) rotate(167.14)" fill="#f2f2f2" stroke="#8c8c8c" stroke-width="0.75"/>
<ellipse cx="0" cy="0" rx="1.15" ry="3.45" transform="translate(575.8 514.51) rotate(172.29)" fill="#f2f2f2" stroke="#8c8c8c" stroke-width="0.75"/>
<ellipse cx="0" cy="0" rx="1.15" ry="3.45" transform="translate(571.94 514.86) rotate(177.43)" fill="#f2f2f2" stroke="#8c8c8c" stroke-width="0.75"/>
<ellipse cx="0" cy="0" rx="1.15" ry="3.45" transform="translate(568.06 514.86) rotate(182.57)" fill="#f2f2f2" stroke="#8c8c8c" stroke-width="0.75"/>
<ellipse cx="0" cy="0" rx="1.15" ry="3.45" transform="translate(564.2 514.51) rotate(187.71)" fill="#f2f2f2" stroke="#8c8c8c" stroke-width="0.75"/>
<ellipse cx="0" cy="0" rx="1.15" ry="3.45" transform="translate(560.39 513.82) rotate(192.86)" fill="#f2f2f2" stroke="#8c8c8c" stroke-width="0.75"/>
<ellipse cx="0" cy="0" rx="1.15" ry="3.45" transform="translate(556.65 512.79) rotate(198)" fill="#f2f2f2" stroke="#8c8c8c" stroke-width="0.75"/>
<ellipse cx="0" cy="0" rx="1.15" ry="3.45" transform="translate(553.02 511.42) rotate(203.14)" fill="#f2f2f2" stroke="#8c8c8c" stroke-width="0.75"/>
<ellipse cx="0" cy="0" rx="1.15" ry="3.45" transform="translate(549.53 509.74) rotate(208.29)" fill="#f2f2f2" stroke="#8c8c8c" stroke-width="0.75"/>
<ellipse cx="0" cy="0" rx="1.15" ry="3.45" transform="translate(546.2 507.75) rotate(213.43)" fill="#f2f2f2" stroke="#8c8c8c" stroke-width="0.75"/>
<ellipse cx="0" cy="0" rx="1.15" ry="3.45" transform="translate(543.07 505.48) rotate(218.57)" fill="#f2f2f2" stroke="#8c8c8c" stroke-width="0.75"/>
<ellipse cx="0" cy="0" rx="1.15" ry="3.45" transform="translate(540.15 502.92) rotate(223.71)" fill="#f2f2f2" stroke="#8c8c8c" stroke-width="0.75"/>
<ellipse cx="0" cy="0" rx="1.15" ry="3.45" transform="translate(537.47 500.12) rotate(228.86)" fill="#f2f2f2" stroke="#8c8c8c" stroke-width="0.75"/>
<ellipse cx="0" cy="0" rx="1.15" ry="3.45" transform="translate(535.05 497.09) rotate(234)" fill="#f2f2f2" stroke="#8c8c8c" stroke-width="0.75"/>
<ellipse cx="0" cy="0" rx="1.15" ry="3.45" transform="translate(532.92 493.86) rotate(239.14)" fill="#f2f2f2" stroke="#8c8c8c" stroke-width="0.75"/>
<ellipse cx="0" cy="0" rx="1.15" ry="3.45" transform="translate(531.08 490.44) rotate(244.29)" fill="#f2f2f2" stroke="#8c8c8c" stroke-width="0.75"/>
<ellipse cx="0" cy="0" rx="1.15" ry="3.45" transform="translate(529.55 486.88) rotate(249.43)" fill="#f2f2f2" stroke="#8c8c8c" stroke-width="0.75"/>
<ellipse cx="0" cy="0" rx="1.15" ry="3.45" transform="translate(528.36 483.19) rotate(254.57)" fill="#f2f2f2" stroke="#8c8c8c" stroke-width="0.75"/>
<ellipse cx="0" cy="0" rx="1.15" ry="3.45" transform="translate(527.49 479.41) rotate(259.71)" fill="#f2f2f2" stroke="#8c8c8c" stroke-width="0.75"/>
<ellipse cx="0" cy="0" rx="1.15" ry="3.45" transform="translate(526.97 475.57) rotate(264.86)" fill="#f2f2f2" stroke="#8c8c8c" stroke-width="0.75"/>
<ellipse cx="0" cy="0" rx="1.15" ry="3.45" transform="translate(526.8 471.7) rotate(270)" fill="#f2f2f2" stroke="#8c8c8c" stroke-width="0.75"/>
<ellipse cx="0" cy="0" rx="1.15" ry="3.45" transform="translate(526.97 467.83) rotate(275.14)" fill="#f2f2f2" stroke="#8c8c8c" stroke-width="0.75"/>
<ellipse cx="0" cy="0" rx="1.15" ry="3.45" transform="translate(527.49 463.99) rotate(280.29)" fill="#f2f2f2" stroke="#8c8c8c" stroke-width="0.75"/>
<ellipse cx="0" cy="0" rx="1.15" ry="3.45" transform="translate(528.36 460.21) rotate(285.43)" fill="#f2f2f2" stroke="#8c8c8c" stroke-width="0.75"/>
<ellipse cx="0" cy="0" rx="1.15" ry="3.45" transform="translate(529.55 456.52) rotate(290.57)" fill="#f2f2f2" stroke="#8c8c8c" stroke-width="0.75"/>
<ellipse cx="0" cy="0" rx="1.15" ry="3.45" transform="translate(531.08 452.96) rotate(295.71)" fill="#f2f2f2" stroke="#8c8c8c" stroke-width="0.75"/>
<ellipse cx="0" cy="0" rx="1.15" ry="3.45" transform="translate(532.92 449.54) rotate(300.86)" fill="#f2f2f2" stroke="#8c8c8c" stroke-width="0.75"/>
<ellipse cx="0" cy="0" rx="1.15" ry="3.45" transform="translate(535.05 446.31) rotate(306)" fill="#f2f2f2" stroke="#8c8c8c" stroke-width="0.75"/>
<ellipse cx="0" cy="0" rx="1.15" ry="3.45" transform="translate(537.47 443.28) rotate(311.14)" fill="#f2f2f2" stroke="#8c8c8c" stroke-width="0.75"/>
<ellipse cx="0" cy="0" rx="1.15" ry="3.45" transform="translate(540.15 440.48) rotate(316.29)" fill="#f2f2f2" stroke="#8c8c8c" stroke-width="0.75"/>
<ellipse cx="0" cy="0" rx="1.15" ry="3.45" transform="translate(543.07 437.92) rotate(321.43)" fill="#f2f2f2" stroke="#8c8c8c" stroke-width="0.75"/>
<ellipse cx="0" cy="0" rx="1.15" ry="3.45" transform="translate(546.2 435.65) rotate(326.57)" fill="#f2f2f2" stroke="#8c8c8c" stroke-width="0.75"/>
<ellipse cx="0" cy="0" rx="1.15" ry="3.45" transform="translate(549.53 433.66) rotate(331.71)" fill="#f2f2f2" stroke="#8c8c8c" stroke-width="0.75"/>
<ellipse cx="0" cy="0" rx="1.15" ry="3.45" transform="translate(553.02 431.98) rotate(336.86)" fill="#f2f2f2" stroke="#8c8c8c" stroke-width="0.75"/>
<ellipse cx="0" cy="0" rx="1.15" ry="3.45" transform="translate(556.65 430.61) rotate(342)" fill="#f2f2f2" stroke="#8c8c8c" stroke-width="0.75"/>
<ellipse cx="0" cy="0" rx="1.15" ry="3.45" transform="translate(560.39 429.58) rotate(347.14)" fill="#f2f2f2" stroke="#8c8c8c" stroke-width="0.75"/>
<ellipse cx="0" cy="0" rx="1.15" ry="3.45" transform="translate(564.2 428.89) rotate(352.29)" fill="#f2f2f2" stroke="#8c8c8c" stroke-width="0.75"/>
<ellipse cx="0" cy="0" rx="1.15" ry="3.45" transform="translate(568.06 428.54) rotate(357.43)" fill="#f2f2f2" stroke="#8c8c8c" stroke-width="0.75"/>
<ellipse cx="0" cy="0" rx="1.15" ry="3.45" transform="translate(571.94 428.54) rotate(362.57)" fill="#f2f2f2" stroke="#8c8c8c" stroke-width="0.75"/>
<ellipse cx="0" cy="0" rx="1.15" ry="3.45" transform="translate(575.8 428.89) rotate(367.71)" fill="#f2f2f2" stroke="#8c8c8c" stroke-width="0.75"/>
<ellipse cx="0" cy="0" rx="1.15" ry="3.45" transform="translate(579.61 429.58) rotate(372.86)" fill="#f2f2f2" stroke="#8c8c8c" stroke-width="0.75"/>
<ellipse cx="0" cy="0" rx="1.15" ry="3.45" transform="translate(583.35 430.61) rotate(378)" fill="#f2f2f2" stroke="#8c8c8c" stroke-width="0.75"/>
<ellipse cx="0" cy="0" rx="1.15" ry="3.45" transform="translate(586.98 431.98) rotate(383.14)" fill="#f2f2f2" stroke="#8c8c8c" stroke-width="0.75"/>
<ellipse cx="0" cy="0" rx="1.15" ry="3.45" transform="translate(590.47 433.66) rotate(388.29)" fill="#f2f2f2" stroke="#8c8c8c" stroke-width="0.75"/>
<ellipse cx="0" cy="0" rx="1.15" ry="3.45" transform="translate(593.8 435.65) rotate(393.43)" fill="#f2f2f2" stroke="#8c8c8c" stroke-width="0.75"/>
<ellipse cx="0" cy="0" rx="1.15" ry="3.45" transform="translate(596.93 437.92) rotate(398.57)" fill="#f2f2f2" stroke="#8c8c8c" stroke-width="0.75"/>
<ellipse cx="0" cy="0" rx="1.15" ry="3.45" transform="translate(599.85 440.48) rotate(403.71)" fill="#f2f2f2" stroke="#8c8c8c" stroke-width="0.75"/>
<ellipse cx="0" cy="0" rx="1.15" ry="3.45" transform="translate(602.53 443.28) rotate(408.86)" fill="#f2f2f2" stroke="#8c8c8c" stroke-width="0.75"/>
<ellipse cx="0" cy="0" rx="1.15" ry="3.45" transform="translate(604.95 446.31) rotate(414)" fill="#f2f2f2" stroke="#8c8c8c" stroke-width="0.75"/>
<ellipse cx="0" cy="0" rx="1.15" ry="3.45" transform="translate(607.08 449.54) rotate(419.14)" fill="#f2f2f2" stroke="#8c8c8c" stroke-width="0.75"/>
<ellipse cx="0" cy="0" rx="1.15" ry="3.45" transform="translate(608.92 452.96) rotate(424.29)" fill="#f2f2f2" stroke="#8c8c8c" stroke-width="0.75"/>
<ellipse cx="0" cy="0" rx="1.15" ry="3.45" transform="translate(610.45 456.52) rotate(429.43)" fill="#f2f2f2" stroke="#8c8c8c" stroke-width="0.75"/>
<ellipse cx="0" cy="0" rx="1.15" ry="3.45" transform="translate(611.64 460.21) rotate(434.57)" fill="#f2f2f2" stroke="#8c8c8c" stroke-width="0.75"/>
<ellipse cx="0" cy="0" rx="1.15" ry="3.45" transform="translate(612.51 463.99) rotate(439.71)" fill="#f2f2f2" stroke="#8c8c8c" stroke-width="0.75"/>
<ellipse cx="0" cy="0" rx="1.15" ry="3.45" transform="translate(613.03 467.83) rotate(444.86)" fill="#f2f2f2" stroke="#8c8c8c" stroke-width="0.75"/>
<path d="M558.4 438.5 L551.9 444.7 L546.8 452.7 L555.3 452.1 L564.4 450.2 L563.3 456.7 L557 463.5 L561.5 466.1 L570.6 462.9 L572.3 466.9 L566.3 473.7 L567.8 478.2 L576.3 475.4 L581.4 477.1 L575.4 484.2 L573.8 490.7 L582.5 487.8 L590.5 487.6 L584.8 494.9 L579.7 502.4" fill="none" stroke="#777" stroke-width="0.8"/>
<circle cx="558.4" cy="438.5" r="2.6" fill="#606060"/>
<circle cx="551.9" cy="444.7" r="2.6" fill="#606060"/>
<circle cx="546.8" cy="452.7" r="2.6" fill="#606060"/>
<circle cx="555.3" cy="452.1" r="2.6" fill="#606060"/>
<circle cx="564.4" cy="450.2" r="2.6" fill="#606060"/>
<circle cx="563.3" cy="456.7" r="2.6" fill="#606060"/>
<circle cx="557" cy="463.5" r="2.6" fill="#606060"/>
<circle cx="561.5" cy="466.1" r="2.6" fill="#606060"/>
<circle cx="570.6" cy="462.9" r="2.6" fill="#606060"/>
<circle cx="572.3" cy="466.9" r="2.6" fill="#606060"/>
<circle cx="566.3" cy="473.7" r="2.6" fill="#606060"/>
<circle cx="567.8" cy="478.2" r="2.6" fill="#606060"/>
<circle cx="576.3" cy="475.4" r="2.6" fill="#606060"/>
<circle cx="581.4" cy="477.1" r="2.6" fill="#606060"/>
<circle cx="575.4" cy="484.2" r="2.6" fill="#606060"/>
<circle cx="573.8" cy="490.7" r="2.6" fill="#606060"/>
<circle cx="582.5" cy="487.8" r="2.6" fill="#606060"/>
<circle cx="590.5" cy="487.6" r="2.6" fill="#606060"/>
<circle cx="584.8" cy="494.9" r="2.6" fill="#606060"/>
<circle cx="579.7" cy="502.4" r="2.6" fill="#606060"/>
</g>
<g id="filo">
<path d="M126.05 440.03 L125.71 439.88 L125.28 439.69 L124.65 439.39 L123.86 439.02 L122.95 438.59 L121.94 438.13 L120.84 437.66 L119.67 437.17 L118.42 436.69 L117.09 436.23 L115.67 435.8 L114.23 435.44 L112.89 435.18 L111.63 434.97 L110.35 434.79 L109.08 434.65 L107.8 434.53 L106.52 434.45 L105.24 434.39 L103.98 434.36 L102.72 434.36 L101.48 434.39 L100.24 434.45 L99.08 434.54 L98.03 434.65 L97 434.76 L95.92 434.91 L94.78 435.08 L93.6 435.31 L92.36 435.6 L91.07 435.96 L89.71 436.43 L88.3 437.04 L86.84 437.82 L85.34 438.82 L83.86 440.08 L82.52 441.54 L81.44 443.05 L80.6 444.53 L79.94 445.95 L79.42 447.33 L79.02 448.66 L78.7 449.94 L78.46 451.17 L78.27 452.37 L78.14 453.52 L78.05 454.63 L78 455.7 L77.99 456.79 L78.02 457.91 L78.09 459.07 L78.22 460.26 L78.41 461.48 L78.66 462.74 L78.99 464.02 L79.41 465.34 L79.94 466.69 L80.59 468.05 L81.38 469.41 L82.29 470.72 L83.24 471.88 L84.22 472.92 L85.23 473.88 L86.29 474.76 L87.37 475.58 L88.49 476.34 L89.64 477.05 L90.82 477.7 L92.03 478.3 L93.26 478.85 L94.53 479.35 L95.86 479.81 L97.3 480.23 L98.76 480.58 L100.19 480.86 L101.6 481.08 L102.99 481.26 L104.36 481.41 L105.71 481.52 L107.02 481.61 L108.29 481.68 L109.52 481.73 L110.68 481.77 L111.81 481.8 L112.97 481.81 L114.14 481.81 L115.32 481.78 L116.49 481.73 L117.66 481.66 L118.81 481.57 L119.96 481.46 L121.1 481.32 L122.23 481.16 L123.34 480.96 L124.46 480.74 L125.61 480.46 L126.82 480.11 L128.02 479.7 L129.14 479.24 L130.18 478.76 L131.14 478.26 L132.03 477.75 L132.83 477.26 L133.55 476.78 L134.19 476.33 L134.74 475.93 L135.22 475.58 L135.76 475.18 L136.54 474.56 L137.35 473.82 L138.07 473.1 L138.68 472.42 L139.21 471.78 L139.65 471.2 L140.02 470.7 L140.32 470.28 L140.53 469.97 L140.64 469.8 L140.6 469.85 L140.58 469.89 L124.42 457.11 L124.13 457.49 L123.79 457.96 L123.56 458.29 L123.39 458.54 L123.26 458.72 L123.16 458.86 L123.09 458.95 L123.06 458.99 L123.07 458.98 L123.12 458.93 L123.23 458.83 L123.24 458.82 L122.97 459.02 L122.6 459.29 L122.27 459.53 L121.97 459.74 L121.71 459.91 L121.47 460.06 L121.27 460.18 L121.08 460.28 L120.91 460.36 L120.75 460.42 L120.6 460.48 L120.39 460.54 L120.04 460.62 L119.56 460.72 L119 460.81 L118.38 460.9 L117.71 460.98 L117 461.05 L116.25 461.11 L115.47 461.16 L114.67 461.19 L113.86 461.21 L113.04 461.21 L112.19 461.2 L111.26 461.18 L110.28 461.15 L109.28 461.11 L108.28 461.05 L107.29 460.99 L106.32 460.9 L105.4 460.81 L104.55 460.69 L103.77 460.57 L103.1 460.44 L102.57 460.32 L102.14 460.19 L101.7 460.04 L101.24 459.85 L100.79 459.65 L100.38 459.45 L100 459.24 L99.66 459.03 L99.36 458.83 L99.11 458.64 L98.92 458.48 L98.78 458.35 L98.71 458.27 L98.71 458.28 L98.78 458.38 L98.83 458.47 L98.84 458.49 L98.82 458.44 L98.79 458.32 L98.74 458.14 L98.69 457.91 L98.65 457.63 L98.62 457.32 L98.6 456.99 L98.59 456.65 L98.6 456.3 L98.61 455.92 L98.65 455.51 L98.69 455.11 L98.75 454.73 L98.82 454.39 L98.88 454.12 L98.94 453.93 L98.96 453.85 L98.94 453.91 L98.82 454.11 L98.56 454.47 L98.14 454.92 L97.7 455.3 L97.37 455.53 L97.17 455.63 L97.13 455.65 L97.23 455.62 L97.47 455.55 L97.84 455.47 L98.31 455.38 L98.87 455.29 L99.51 455.21 L100.22 455.13 L100.92 455.06 L101.56 455.01 L102.22 454.97 L102.95 454.96 L103.73 454.96 L104.53 454.98 L105.36 455.01 L106.18 455.07 L107 455.14 L107.79 455.23 L108.54 455.34 L109.23 455.45 L109.77 455.56 L110.2 455.66 L110.71 455.82 L111.33 456.03 L112.04 456.3 L112.79 456.61 L113.56 456.95 L114.34 457.31 L115.1 457.66 L115.85 458.02 L116.59 458.37 L117.34 458.71 L117.95 458.97Z" fill="#b2b2b2"/>
<circle cx="122" cy="449.5" r="10.3" fill="#b2b2b2"/>
<circle cx="132.5" cy="463.5" r="10.3" fill="#b2b2b2"/>
<path d="M120.93 440.2 L122.05 437.64" stroke="#2b2b2b" stroke-width="1.3"/><path transform="translate(122.81 435.9) rotate(-66.41)" d="M-2 0 L0.2 -2.6 C1.6 -3.4 2.6 -2.4 2.4 -1 C2.4 -0.5 2.2 0 2.2 0 C2.2 0 2.4 0.5 2.4 1 C2.6 2.4 1.6 3.4 0.2 2.6 Z" fill="#3a3a3a" stroke="#1e1e1e" stroke-width="0.6"/><path d="M111.98 437.36 L112.44 434.6" stroke="#2b2b2b" stroke-width="1.3"/><path transform="translate(112.75 432.72) rotate(-80.59)" d="M-2 0 L0.2 -2.6 C1.6 -3.4 2.6 -2.4 2.4 -1 C2.4 -0.5 2.2 0 2.2 0 C2.2 0 2.4 0.5 2.4 1 C2.6 2.4 1.6 3.4 0.2 2.6 Z" fill="#3a3a3a" stroke="#1e1e1e" stroke-width="0.6"/><path d="M102.62 436.66 L102.56 433.86" stroke="#2b2b2b" stroke-width="1.3"/><path transform="translate(102.51 431.96) rotate(-91.35)" d="M-2 0 L0.2 -2.6 C1.6 -3.4 2.6 -2.4 2.4 -1 C2.4 -0.5 2.2 0 2.2 0 C2.2 0 2.4 0.5 2.4 1 C2.6 2.4 1.6 3.4 0.2 2.6 Z" fill="#3a3a3a" stroke="#1e1e1e" stroke-width="0.6"/><path d="M93.3 437.74 L92.67 435.01" stroke="#2b2b2b" stroke-width="1.3"/><path transform="translate(92.24 433.16) rotate(-103.04)" d="M-2 0 L0.2 -2.6 C1.6 -3.4 2.6 -2.4 2.4 -1 C2.4 -0.5 2.2 0 2.2 0 C2.2 0 2.4 0.5 2.4 1 C2.6 2.4 1.6 3.4 0.2 2.6 Z" fill="#3a3a3a" stroke="#1e1e1e" stroke-width="0.6"/><path d="M84.96 442.27 L82.89 440.38" stroke="#2b2b2b" stroke-width="1.3"/><path transform="translate(81.49 439.1) rotate(-137.56)" d="M-2 0 L0.2 -2.6 C1.6 -3.4 2.6 -2.4 2.4 -1 C2.4 -0.5 2.2 0 2.2 0 C2.2 0 2.4 0.5 2.4 1 C2.6 2.4 1.6 3.4 0.2 2.6 Z" fill="#3a3a3a" stroke="#1e1e1e" stroke-width="0.6"/><path d="M80.87 450.82 L78.12 450.28" stroke="#2b2b2b" stroke-width="1.3"/><path transform="translate(76.26 449.92) rotate(-168.84)" d="M-2 0 L0.2 -2.6 C1.6 -3.4 2.6 -2.4 2.4 -1 C2.4 -0.5 2.2 0 2.2 0 C2.2 0 2.4 0.5 2.4 1 C2.6 2.4 1.6 3.4 0.2 2.6 Z" fill="#3a3a3a" stroke="#1e1e1e" stroke-width="0.6"/><path d="M80.55 460.26 L77.78 460.68" stroke="#2b2b2b" stroke-width="1.3"/><path transform="translate(75.9 460.96) rotate(171.39)" d="M-2 0 L0.2 -2.6 C1.6 -3.4 2.6 -2.4 2.4 -1 C2.4 -0.5 2.2 0 2.2 0 C2.2 0 2.4 0.5 2.4 1 C2.6 2.4 1.6 3.4 0.2 2.6 Z" fill="#3a3a3a" stroke="#1e1e1e" stroke-width="0.6"/><path d="M83.95 469.08 L81.65 470.68" stroke="#2b2b2b" stroke-width="1.3"/><path transform="translate(80.09 471.76) rotate(145.22)" d="M-2 0 L0.2 -2.6 C1.6 -3.4 2.6 -2.4 2.4 -1 C2.4 -0.5 2.2 0 2.2 0 C2.2 0 2.4 0.5 2.4 1 C2.6 2.4 1.6 3.4 0.2 2.6 Z" fill="#3a3a3a" stroke="#1e1e1e" stroke-width="0.6"/><path d="M91.15 475.25 L89.79 477.7" stroke="#2b2b2b" stroke-width="1.3"/><path transform="translate(88.88 479.37) rotate(118.89)" d="M-2 0 L0.2 -2.6 C1.6 -3.4 2.6 -2.4 2.4 -1 C2.4 -0.5 2.2 0 2.2 0 C2.2 0 2.4 0.5 2.4 1 C2.6 2.4 1.6 3.4 0.2 2.6 Z" fill="#3a3a3a" stroke="#1e1e1e" stroke-width="0.6"/><path d="M100 478.48 L99.47 481.23" stroke="#2b2b2b" stroke-width="1.3"/><path transform="translate(99.1 483.09) rotate(101.02)" d="M-2 0 L0.2 -2.6 C1.6 -3.4 2.6 -2.4 2.4 -1 C2.4 -0.5 2.2 0 2.2 0 C2.2 0 2.4 0.5 2.4 1 C2.6 2.4 1.6 3.4 0.2 2.6 Z" fill="#3a3a3a" stroke="#1e1e1e" stroke-width="0.6"/><path d="M109.31 479.42 L109.2 482.22" stroke="#2b2b2b" stroke-width="1.3"/><path transform="translate(109.12 484.12) rotate(92.39)" d="M-2 0 L0.2 -2.6 C1.6 -3.4 2.6 -2.4 2.4 -1 C2.4 -0.5 2.2 0 2.2 0 C2.2 0 2.4 0.5 2.4 1 C2.6 2.4 1.6 3.4 0.2 2.6 Z" fill="#3a3a3a" stroke="#1e1e1e" stroke-width="0.6"/><path d="M118.67 479.28 L118.94 482.06" stroke="#2b2b2b" stroke-width="1.3"/><path transform="translate(119.13 483.95) rotate(84.35)" d="M-2 0 L0.2 -2.6 C1.6 -3.4 2.6 -2.4 2.4 -1 C2.4 -0.5 2.2 0 2.2 0 C2.2 0 2.4 0.5 2.4 1 C2.6 2.4 1.6 3.4 0.2 2.6 Z" fill="#3a3a3a" stroke="#1e1e1e" stroke-width="0.6"/><path d="M127.87 477.28 L128.92 479.87" stroke="#2b2b2b" stroke-width="1.3"/><path transform="translate(129.64 481.63) rotate(67.85)" d="M-2 0 L0.2 -2.6 C1.6 -3.4 2.6 -2.4 2.4 -1 C2.4 -0.5 2.2 0 2.2 0 C2.2 0 2.4 0.5 2.4 1 C2.6 2.4 1.6 3.4 0.2 2.6 Z" fill="#3a3a3a" stroke="#1e1e1e" stroke-width="0.6"/><path d="M135.81 472.11 L137.8 474.08" stroke="#2b2b2b" stroke-width="1.3"/><path transform="translate(139.15 475.42) rotate(44.71)" d="M-2 0 L0.2 -2.6 C1.6 -3.4 2.6 -2.4 2.4 -1 C2.4 -0.5 2.2 0 2.2 0 C2.2 0 2.4 0.5 2.4 1 C2.6 2.4 1.6 3.4 0.2 2.6 Z" fill="#3a3a3a" stroke="#1e1e1e" stroke-width="0.6"/><path d="M114.59 454.9 L113.44 457.45" stroke="#2b2b2b" stroke-width="1.3"/><path transform="translate(112.65 459.18) rotate(114.45)" d="M-2 0 L0.2 -2.6 C1.6 -3.4 2.6 -2.4 2.4 -1 C2.4 -0.5 2.2 0 2.2 0 C2.2 0 2.4 0.5 2.4 1 C2.6 2.4 1.6 3.4 0.2 2.6 Z" fill="#3a3a3a" stroke="#1e1e1e" stroke-width="0.6"/><path d="M105.79 452.74 L105.6 455.53" stroke="#2b2b2b" stroke-width="1.3"/><path transform="translate(105.47 457.43) rotate(93.86)" d="M-2 0 L0.2 -2.6 C1.6 -3.4 2.6 -2.4 2.4 -1 C2.4 -0.5 2.2 0 2.2 0 C2.2 0 2.4 0.5 2.4 1 C2.6 2.4 1.6 3.4 0.2 2.6 Z" fill="#3a3a3a" stroke="#1e1e1e" stroke-width="0.6"/><path d="M96.69 453.38 L97.45 456.08" stroke="#2b2b2b" stroke-width="1.3"/><path transform="translate(97.96 457.91) rotate(74.35)" d="M-2 0 L0.2 -2.6 C1.6 -3.4 2.6 -2.4 2.4 -1 C2.4 -0.5 2.2 0 2.2 0 C2.2 0 2.4 0.5 2.4 1 C2.6 2.4 1.6 3.4 0.2 2.6 Z" fill="#3a3a3a" stroke="#1e1e1e" stroke-width="0.6"/><path d="M97.03 459.85 L99.07 457.93" stroke="#2b2b2b" stroke-width="1.3"/><path transform="translate(100.46 456.63) rotate(-43.29)" d="M-2 0 L0.2 -2.6 C1.6 -3.4 2.6 -2.4 2.4 -1 C2.4 -0.5 2.2 0 2.2 0 C2.2 0 2.4 0.5 2.4 1 C2.6 2.4 1.6 3.4 0.2 2.6 Z" fill="#3a3a3a" stroke="#1e1e1e" stroke-width="0.6"/><path d="M105.17 463.09 L105.46 460.31" stroke="#2b2b2b" stroke-width="1.3"/><path transform="translate(105.66 458.42) rotate(-83.97)" d="M-2 0 L0.2 -2.6 C1.6 -3.4 2.6 -2.4 2.4 -1 C2.4 -0.5 2.2 0 2.2 0 C2.2 0 2.4 0.5 2.4 1 C2.6 2.4 1.6 3.4 0.2 2.6 Z" fill="#3a3a3a" stroke="#1e1e1e" stroke-width="0.6"/><path d="M114.43 463.5 L114.37 460.7" stroke="#2b2b2b" stroke-width="1.3"/><path transform="translate(114.32 458.8) rotate(-91.3)" d="M-2 0 L0.2 -2.6 C1.6 -3.4 2.6 -2.4 2.4 -1 C2.4 -0.5 2.2 0 2.2 0 C2.2 0 2.4 0.5 2.4 1 C2.6 2.4 1.6 3.4 0.2 2.6 Z" fill="#3a3a3a" stroke="#1e1e1e" stroke-width="0.6"/><path d="M123.14 461.72 L121.6 459.39" stroke="#2b2b2b" stroke-width="1.3"/><path transform="translate(120.54 457.81) rotate(-123.57)" d="M-2 0 L0.2 -2.6 C1.6 -3.4 2.6 -2.4 2.4 -1 C2.4 -0.5 2.2 0 2.2 0 C2.2 0 2.4 0.5 2.4 1 C2.6 2.4 1.6 3.4 0.2 2.6 Z" fill="#3a3a3a" stroke="#1e1e1e" stroke-width="0.6"/><path d="M128.79 445.28 L131.17 443.8" stroke="#2b2b2b" stroke-width="1.3"/><path transform="translate(132.79 442.8) rotate(-31.86)" d="M-2 0 L0.2 -2.6 C1.6 -3.4 2.6 -2.4 2.4 -1 C2.4 -0.5 2.2 0 2.2 0 C2.2 0 2.4 0.5 2.4 1 C2.6 2.4 1.6 3.4 0.2 2.6 Z" fill="#3a3a3a" stroke="#1e1e1e" stroke-width="0.6"/><path d="M129.36 452.64 L131.93 453.74" stroke="#2b2b2b" stroke-width="1.3"/><path transform="translate(133.68 454.49) rotate(23.14)" d="M-2 0 L0.2 -2.6 C1.6 -3.4 2.6 -2.4 2.4 -1 C2.4 -0.5 2.2 0 2.2 0 C2.2 0 2.4 0.5 2.4 1 C2.6 2.4 1.6 3.4 0.2 2.6 Z" fill="#3a3a3a" stroke="#1e1e1e" stroke-width="0.6"/><path d="M123.64 457.33 L124.22 460.07" stroke="#2b2b2b" stroke-width="1.3"/><path transform="translate(124.61 461.93) rotate(78.14)" d="M-2 0 L0.2 -2.6 C1.6 -3.4 2.6 -2.4 2.4 -1 C2.4 -0.5 2.2 0 2.2 0 C2.2 0 2.4 0.5 2.4 1 C2.6 2.4 1.6 3.4 0.2 2.6 Z" fill="#3a3a3a" stroke="#1e1e1e" stroke-width="0.6"/><path d="M130.21 455.84 L129.41 453.15" stroke="#2b2b2b" stroke-width="1.3"/><path transform="translate(128.86 451.33) rotate(-106.65)" d="M-2 0 L0.2 -2.6 C1.6 -3.4 2.6 -2.4 2.4 -1 C2.4 -0.5 2.2 0 2.2 0 C2.2 0 2.4 0.5 2.4 1 C2.6 2.4 1.6 3.4 0.2 2.6 Z" fill="#3a3a3a" stroke="#1e1e1e" stroke-width="0.6"/><path d="M137.46 457.23 L139.2 455.03" stroke="#2b2b2b" stroke-width="1.3"/><path transform="translate(140.38 453.54) rotate(-51.65)" d="M-2 0 L0.2 -2.6 C1.6 -3.4 2.6 -2.4 2.4 -1 C2.4 -0.5 2.2 0 2.2 0 C2.2 0 2.4 0.5 2.4 1 C2.6 2.4 1.6 3.4 0.2 2.6 Z" fill="#3a3a3a" stroke="#1e1e1e" stroke-width="0.6"/><path d="M140.49 463.97 L143.28 464.13" stroke="#2b2b2b" stroke-width="1.3"/><path transform="translate(145.18 464.24) rotate(3.35)" d="M-2 0 L0.2 -2.6 C1.6 -3.4 2.6 -2.4 2.4 -1 C2.4 -0.5 2.2 0 2.2 0 C2.2 0 2.4 0.5 2.4 1 C2.6 2.4 1.6 3.4 0.2 2.6 Z" fill="#3a3a3a" stroke="#1e1e1e" stroke-width="0.6"/>
<path d="M125.3 441.78 L124.94 441.62 L124.48 441.41 L123.83 441.11 L123.05 440.74 L122.16 440.32 L121.17 439.87 L120.1 439.4 L118.96 438.93 L117.76 438.47 L116.5 438.03 L115.16 437.63 L113.82 437.3 L112.56 437.05 L111.34 436.85 L110.12 436.68 L108.88 436.54 L107.65 436.43 L106.41 436.34 L105.18 436.29 L103.95 436.26 L102.74 436.26 L101.54 436.29 L100.37 436.35 L99.25 436.43 L98.23 436.53 L97.23 436.65 L96.19 436.79 L95.11 436.96 L93.99 437.17 L92.83 437.44 L91.64 437.78 L90.4 438.21 L89.12 438.76 L87.81 439.46 L86.48 440.34 L85.18 441.45 L84 442.73 L83.04 444.07 L82.29 445.39 L81.69 446.68 L81.22 447.94 L80.85 449.16 L80.56 450.35 L80.33 451.5 L80.16 452.62 L80.03 453.7 L79.95 454.74 L79.9 455.76 L79.89 456.78 L79.92 457.83 L79.99 458.91 L80.11 460.01 L80.28 461.15 L80.51 462.31 L80.82 463.5 L81.2 464.71 L81.69 465.93 L82.28 467.16 L82.99 468.39 L83.8 469.57 L84.67 470.62 L85.56 471.58 L86.49 472.46 L87.47 473.28 L88.48 474.04 L89.52 474.75 L90.6 475.41 L91.7 476.02 L92.84 476.58 L94 477.1 L95.19 477.56 L96.44 478 L97.78 478.39 L99.16 478.72 L100.52 478.99 L101.87 479.2 L103.22 479.38 L104.54 479.52 L105.85 479.63 L107.14 479.72 L108.38 479.78 L109.59 479.84 L110.74 479.87 L111.85 479.9 L112.97 479.91 L114.12 479.91 L115.26 479.88 L116.4 479.83 L117.53 479.77 L118.65 479.68 L119.75 479.57 L120.85 479.44 L121.93 479.28 L122.99 479.1 L124.05 478.88 L125.13 478.63 L126.25 478.3 L127.35 477.92 L128.38 477.5 L129.34 477.05 L130.23 476.59 L131.05 476.12 L131.8 475.66 L132.48 475.21 L133.09 474.78 L133.62 474.4 L134.09 474.06 L134.61 473.67 L135.31 473.11 L136.04 472.45 L136.68 471.8 L137.24 471.18 L137.72 470.6 L138.13 470.07 L138.48 469.59 L138.75 469.19 L138.96 468.89 L139.09 468.71 L139.08 468.71 L139.09 468.71 L125.91 458.29 L125.65 458.63 L125.34 459.05 L125.12 459.37 L124.95 459.62 L124.8 459.83 L124.68 460 L124.58 460.13 L124.5 460.23 L124.45 460.28 L124.43 460.3 L124.46 460.28 L124.39 460.33 L124.1 460.54 L123.72 460.83 L123.37 461.08 L123.04 461.31 L122.73 461.51 L122.45 461.69 L122.18 461.85 L121.92 461.98 L121.67 462.1 L121.42 462.2 L121.17 462.29 L120.87 462.37 L120.45 462.47 L119.91 462.58 L119.3 462.69 L118.63 462.78 L117.92 462.87 L117.17 462.95 L116.38 463.01 L115.56 463.05 L114.73 463.09 L113.88 463.11 L113.03 463.11 L112.15 463.1 L111.21 463.08 L110.21 463.05 L109.19 463 L108.16 462.95 L107.14 462.88 L106.14 462.79 L105.18 462.69 L104.27 462.58 L103.44 462.44 L102.7 462.3 L102.08 462.15 L101.56 462 L101.04 461.82 L100.5 461.6 L99.98 461.37 L99.5 461.13 L99.04 460.88 L98.63 460.63 L98.26 460.38 L97.93 460.13 L97.66 459.9 L97.44 459.7 L97.28 459.53 L97.2 459.43 L97.18 459.4 L97.15 459.35 L97.1 459.24 L97.03 459.07 L96.96 458.84 L96.89 458.56 L96.82 458.24 L96.77 457.87 L96.73 457.48 L96.7 457.08 L96.69 456.66 L96.7 456.24 L96.72 455.8 L96.75 455.33 L96.81 454.86 L96.88 454.4 L96.96 453.98 L97.05 453.61 L97.14 453.32 L97.21 453.13 L97.24 453.04 L97.21 453.09 L97.08 453.28 L96.82 453.55 L96.56 453.78 L96.39 453.89 L96.35 453.92 L96.45 453.88 L96.67 453.81 L97 453.71 L97.45 453.61 L97.98 453.51 L98.59 453.41 L99.28 453.32 L100.01 453.24 L100.75 453.17 L101.44 453.11 L102.15 453.08 L102.93 453.06 L103.75 453.06 L104.6 453.08 L105.46 453.12 L106.33 453.18 L107.19 453.25 L108.02 453.35 L108.82 453.46 L109.57 453.58 L110.18 453.7 L110.71 453.83 L111.3 454.01 L111.99 454.25 L112.74 454.54 L113.53 454.87 L114.33 455.22 L115.13 455.58 L115.91 455.94 L116.67 456.3 L117.39 456.64 L118.11 456.97 L118.7 457.22Z" fill="#1a1a1a"/>
<circle cx="122" cy="449.5" r="8.4" fill="#1a1a1a"/>
<circle cx="132.5" cy="463.5" r="8.4" fill="#1a1a1a"/>
<path d="M124.52 443.61 L124.12 443.45 L123.63 443.22 L122.98 442.92 L122.2 442.55 L121.32 442.14 L120.35 441.7 L119.32 441.25 L118.22 440.79 L117.07 440.35 L115.88 439.94 L114.63 439.56 L113.38 439.25 L112.2 439.02 L111.04 438.83 L109.87 438.66 L108.68 438.53 L107.49 438.42 L106.3 438.34 L105.11 438.29 L103.93 438.26 L102.76 438.26 L101.62 438.29 L100.49 438.34 L99.43 438.43 L98.45 438.52 L97.47 438.63 L96.48 438.77 L95.45 438.93 L94.4 439.13 L93.33 439.38 L92.24 439.69 L91.12 440.07 L89.98 440.56 L88.83 441.17 L87.68 441.94 L86.56 442.89 L85.56 443.99 L84.73 445.14 L84.07 446.3 L83.54 447.45 L83.12 448.58 L82.78 449.69 L82.51 450.78 L82.3 451.85 L82.14 452.89 L82.02 453.9 L81.95 454.87 L81.9 455.82 L81.89 456.76 L81.92 457.74 L81.98 458.74 L82.09 459.76 L82.25 460.8 L82.46 461.87 L82.74 462.94 L83.09 464.03 L83.52 465.13 L84.05 466.23 L84.68 467.32 L85.4 468.36 L86.17 469.3 L86.97 470.16 L87.82 470.96 L88.71 471.71 L89.64 472.41 L90.61 473.07 L91.6 473.68 L92.63 474.24 L93.69 474.77 L94.77 475.25 L95.88 475.69 L97.05 476.1 L98.3 476.46 L99.58 476.77 L100.87 477.02 L102.16 477.22 L103.45 477.39 L104.73 477.53 L106.01 477.64 L107.26 477.72 L108.48 477.79 L109.66 477.84 L110.79 477.87 L111.88 477.9 L112.98 477.91 L114.09 477.91 L115.2 477.88 L116.3 477.84 L117.39 477.77 L118.47 477.69 L119.54 477.58 L120.58 477.46 L121.61 477.31 L122.63 477.13 L123.62 476.93 L124.62 476.69 L125.64 476.4 L126.64 476.05 L127.58 475.67 L128.46 475.26 L129.27 474.83 L130.03 474.4 L130.72 473.97 L131.36 473.55 L131.93 473.15 L132.44 472.78 L132.9 472.45 L133.39 472.08 L134.02 471.58 L134.66 471 L135.23 470.43 L135.72 469.88 L136.16 469.35 L136.53 468.87 L136.85 468.43 L137.11 468.05 L137.32 467.76 L137.45 467.56 L137.48 467.51 L137.52 467.47 L127.48 459.53 L127.25 459.83 L126.98 460.2 L126.77 460.5 L126.59 460.76 L126.43 460.99 L126.28 461.2 L126.14 461.38 L126.02 461.53 L125.91 461.66 L125.81 461.75 L125.75 461.81 L125.61 461.92 L125.29 462.15 L124.9 462.44 L124.52 462.71 L124.16 462.97 L123.81 463.2 L123.47 463.41 L123.14 463.6 L122.8 463.78 L122.47 463.93 L122.13 464.07 L121.78 464.19 L121.38 464.31 L120.87 464.43 L120.27 464.55 L119.61 464.66 L118.9 464.77 L118.14 464.86 L117.34 464.94 L116.52 465 L115.66 465.05 L114.79 465.09 L113.91 465.11 L113.02 465.11 L112.12 465.1 L111.15 465.08 L110.13 465.05 L109.09 465 L108.04 464.95 L106.99 464.87 L105.95 464.79 L104.95 464.68 L103.99 464.55 L103.09 464.41 L102.28 464.25 L101.57 464.09 L100.95 463.9 L100.34 463.69 L99.73 463.45 L99.13 463.18 L98.57 462.9 L98.04 462.61 L97.54 462.31 L97.09 462 L96.69 461.7 L96.33 461.4 L96.03 461.11 L95.78 460.85 L95.6 460.64 L95.49 460.47 L95.38 460.28 L95.26 460.04 L95.15 459.74 L95.04 459.4 L94.94 459.01 L94.85 458.58 L94.78 458.13 L94.73 457.65 L94.7 457.17 L94.69 456.67 L94.7 456.18 L94.72 455.68 L94.76 455.14 L94.83 454.59 L94.91 454.06 L95.01 453.55 L95.12 453.08 L95.24 452.68 L95.36 452.36 L95.46 452.13 L95.53 452.02 L95.52 452.02 L95.44 452.11 L95.36 452.18 L95.37 452.18 L95.49 452.11 L95.73 452.02 L96.07 451.9 L96.51 451.77 L97.03 451.65 L97.64 451.54 L98.31 451.43 L99.03 451.34 L99.8 451.25 L100.57 451.17 L101.31 451.12 L102.08 451.08 L102.91 451.06 L103.77 451.06 L104.67 451.08 L105.58 451.12 L106.49 451.18 L107.39 451.26 L108.27 451.36 L109.12 451.48 L109.92 451.61 L110.62 451.75 L111.24 451.9 L111.92 452.11 L112.68 452.37 L113.48 452.68 L114.31 453.03 L115.15 453.39 L115.97 453.76 L116.76 454.13 L117.52 454.49 L118.24 454.83 L118.92 455.14 L119.48 455.39Z" fill="#fff"/>
<circle cx="122" cy="449.5" r="6.4" fill="#fff"/>
<circle cx="132.5" cy="463.5" r="6.4" fill="#fff"/>
<path d="M119.73 448.46 L119.48 448.34 L118.64 447.95 L117.75 447.54 L116.81 447.14 L115.85 446.74 L114.88 446.36 L113.9 446.02 L112.94 445.73 L112 445.5 L111.06 445.32 L110.08 445.15 L109.07 445.01 L108.04 444.9 L106.99 444.8 L105.94 444.73 L104.89 444.68 L103.85 444.66 L102.84 444.66 L101.85 444.68 L100.9 444.73 L100 444.8 L99.12 444.89 L98.25 444.99 L97.39 445.1 L96.54 445.23 L95.72 445.39 L94.92 445.58 L94.15 445.79 L93.42 446.04 L92.74 446.34 L92.1 446.68 L91.52 447.06 L91 447.5 L90.54 448.01 L90.13 448.58 L89.77 449.22 L89.45 449.9 L89.18 450.63 L88.95 451.39 L88.76 452.16 L88.6 452.95 L88.48 453.74 L88.39 454.52 L88.33 455.27 L88.3 456 L88.29 456.72 L88.31 457.45 L88.36 458.2 L88.44 458.94 L88.55 459.69 L88.7 460.44 L88.89 461.17 L89.12 461.89 L89.39 462.59 L89.71 463.26 L90.08 463.9 L90.5 464.5 L90.97 465.08 L91.5 465.64 L92.08 466.18 L92.7 466.7 L93.37 467.21 L94.08 467.69 L94.82 468.14 L95.6 468.57 L96.41 468.98 L97.25 469.35 L98.11 469.69 L99 470 L99.93 470.27 L100.93 470.51 L101.98 470.71 L103.07 470.89 L104.2 471.04 L105.34 471.16 L106.5 471.25 L107.65 471.33 L108.79 471.39 L109.9 471.44 L110.97 471.48 L112 471.5 L113 471.51 L114 471.51 L115 471.48 L115.98 471.44 L116.95 471.39 L117.91 471.31 L118.84 471.22 L119.74 471.11 L120.61 470.98 L121.45 470.84 L122.25 470.68 L123 470.5 L123.71 470.3 L124.38 470.06 L125.02 469.8 L125.63 469.52 L126.2 469.22 L126.75 468.91 L127.27 468.58 L127.76 468.26 L128.23 467.93 L128.67 467.61 L129.1 467.3 L129.5 467 L129.88 466.7 L130.24 466.38 L130.57 466.04 L130.87 465.7 L131.15 465.36 L131.41 465.03 L131.64 464.71 L131.85 464.41 L132.04 464.13 L132.21 463.88 L132.37 463.67 L132.5 463.5 L132.5 463.5" fill="none" stroke="#2e2e2e" stroke-width="6.5" stroke-linecap="round" stroke-linejoin="round"/>
<path d="M120.39 447.06 L120.14 446.94 L119.29 446.54 L118.38 446.13 L117.42 445.71 L116.43 445.3 L115.41 444.91 L114.38 444.55 L113.35 444.24 L112.34 443.99 L111.34 443.79 L110.31 443.62 L109.26 443.48 L108.19 443.35 L107.11 443.26 L106.02 443.18 L104.94 443.13 L103.87 443.11 L102.82 443.11 L101.79 443.13 L100.8 443.18 L99.86 443.26 L98.96 443.35 L98.06 443.45 L97.17 443.57 L96.28 443.71 L95.4 443.87 L94.53 444.07 L93.69 444.31 L92.86 444.6 L92.07 444.94 L91.31 445.34 L90.59 445.82 L89.93 446.38 L89.33 447.03 L88.82 447.75 L88.39 448.51 L88.02 449.31 L87.71 450.13 L87.46 450.98 L87.25 451.83 L87.08 452.68 L86.95 453.53 L86.85 454.37 L86.79 455.18 L86.75 455.96 L86.74 456.73 L86.76 457.52 L86.81 458.33 L86.9 459.14 L87.02 459.96 L87.19 460.78 L87.4 461.6 L87.66 462.41 L87.97 463.2 L88.34 463.98 L88.77 464.73 L89.26 465.44 L89.81 466.1 L90.4 466.73 L91.05 467.34 L91.73 467.92 L92.47 468.47 L93.24 468.99 L94.04 469.48 L94.88 469.95 L95.75 470.38 L96.65 470.78 L97.57 471.14 L98.53 471.48 L99.54 471.77 L100.6 472.03 L101.71 472.24 L102.85 472.42 L104.02 472.57 L105.2 472.7 L106.38 472.8 L107.55 472.88 L108.71 472.94 L109.84 472.99 L110.93 473.02 L111.97 473.05 L113 473.06 L114.02 473.06 L115.04 473.03 L116.06 472.99 L117.06 472.93 L118.04 472.86 L119.01 472.76 L119.94 472.65 L120.86 472.52 L121.74 472.36 L122.58 472.19 L123.39 472 L124.18 471.77 L124.93 471.51 L125.64 471.22 L126.31 470.91 L126.95 470.58 L127.54 470.24 L128.1 469.89 L128.63 469.54 L129.12 469.2 L129.59 468.86 L130.02 468.55 L130.44 468.23 L130.88 467.88 L131.31 467.5 L131.69 467.11 L132.05 466.71 L132.36 466.33 L132.65 465.96 L132.9 465.61 L133.13 465.29 L133.32 465.01 L133.48 464.77 L133.61 464.6 L133.72 464.46 L133.89 464.19" fill="none" stroke="#8a8a8a" stroke-width="1.35" stroke-linecap="round" stroke-dasharray="0 2.75" stroke-linejoin="round"/>
<path d="M119.07 449.86 L118.82 449.74 L118 449.36 L117.12 448.96 L116.21 448.56 L115.28 448.18 L114.34 447.82 L113.42 447.5 L112.52 447.23 L111.66 447.01 L110.78 446.84 L109.85 446.69 L108.88 446.55 L107.88 446.44 L106.87 446.35 L105.85 446.28 L104.84 446.23 L103.83 446.21 L102.85 446.21 L101.91 446.23 L101 446.28 L100.14 446.34 L99.29 446.43 L98.44 446.52 L97.61 446.63 L96.81 446.76 L96.04 446.91 L95.3 447.08 L94.62 447.27 L93.98 447.49 L93.4 447.74 L92.89 448.01 L92.45 448.3 L92.07 448.62 L91.75 448.98 L91.44 449.41 L91.15 449.92 L90.88 450.5 L90.65 451.13 L90.44 451.8 L90.27 452.5 L90.13 453.22 L90.02 453.95 L89.94 454.67 L89.88 455.37 L89.85 456.04 L89.84 456.71 L89.86 457.38 L89.9 458.06 L89.97 458.75 L90.08 459.42 L90.21 460.09 L90.38 460.74 L90.58 461.37 L90.81 461.97 L91.08 462.54 L91.39 463.07 L91.74 463.56 L92.14 464.05 L92.6 464.54 L93.11 465.02 L93.67 465.49 L94.27 465.95 L94.91 466.38 L95.6 466.8 L96.32 467.2 L97.07 467.57 L97.85 467.92 L98.65 468.24 L99.47 468.52 L100.33 468.77 L101.26 469 L102.25 469.19 L103.3 469.35 L104.38 469.5 L105.49 469.61 L106.62 469.71 L107.74 469.79 L108.86 469.85 L109.95 469.89 L111.02 469.93 L112.03 469.95 L113.01 469.96 L113.98 469.96 L114.95 469.94 L115.9 469.9 L116.85 469.84 L117.77 469.77 L118.67 469.68 L119.54 469.57 L120.37 469.45 L121.17 469.32 L121.91 469.16 L122.61 469 L123.24 468.82 L123.84 468.61 L124.4 468.38 L124.94 468.13 L125.46 467.86 L125.96 467.57 L126.43 467.28 L126.89 466.98 L127.33 466.67 L127.76 466.36 L128.17 466.05 L128.56 465.77 L128.88 465.51 L129.17 465.26 L129.44 464.98 L129.7 464.69 L129.94 464.4 L130.17 464.1 L130.38 463.81 L130.58 463.52 L130.77 463.25 L130.95 462.99 L131.13 462.74 L131.28 462.54 L131.11 462.81" fill="none" stroke="#8a8a8a" stroke-width="1.35" stroke-linecap="round" stroke-dasharray="0 2.75" stroke-linejoin="round"/>
<path d="M127.66 478.05 L128.08 478.62 L128.6 479.31 L129.16 480.04 L129.75 480.81 L130.37 481.62 L130.99 482.45 L131.61 483.29 L132.2 484.12 L132.74 484.91 L133.21 485.64 L133.59 486.25 L133.87 486.77 L134.15 487.33 L134.44 487.97 L134.73 488.65 L135.01 489.35 L135.28 490.06 L135.53 490.79 L135.77 491.52 L136 492.26 L136.2 493 L136.4 493.73 L136.57 494.46 L136.72 495.14 L136.85 495.78 L136.96 496.4 L137.05 497.02 L137.13 497.64 L137.19 498.25 L137.24 498.86 L137.27 499.46 L137.29 500.05 L137.29 500.62 L137.29 501.17 L137.26 501.7 L137.23 502.22 L137.18 502.74 L137.13 503.24 L137.07 503.7 L137 504.11 L136.93 504.47 L136.86 504.79 L136.79 505.06 L136.72 505.29 L136.65 505.48 L136.59 505.63 L136.53 505.76 L136.47 505.87 L136.39 506 L136.27 506.18 L136.12 506.38 L135.94 506.6 L135.75 506.82 L135.54 507.04 L135.32 507.25 L135.1 507.44 L134.88 507.62 L134.68 507.77 L134.5 507.89 L134.36 507.97 L134.22 508.05 L134.05 508.13 L133.83 508.22 L133.59 508.32 L133.32 508.4 L133.04 508.48 L132.75 508.55 L132.46 508.61 L132.19 508.65 L131.93 508.68 L131.7 508.7 L131.5 508.7 L131.3 508.7 L131.07 508.68 L130.81 508.65 L130.54 508.61 L130.25 508.55 L129.96 508.48 L129.68 508.4 L129.41 508.32 L129.17 508.22 L128.95 508.13 L128.78 508.05 L128.66 507.99 L128.6 507.95 L128.53 507.9 L128.41 507.8 L128.25 507.66 L128.04 507.47 L127.8 507.22 L127.53 506.93 L127.24 506.59 L126.92 506.2 L126.57 505.77 L126.2 505.3 L125.86 504.85 L125.59 504.48 L125.33 504.1 L125.05 503.66 L124.76 503.17 L124.45 502.64 L124.13 502.08 L123.81 501.49 L123.48 500.88 L123.16 500.25 L122.83 499.62 L122.51 498.98 L122.21 498.4 L121.97 497.9 L121.73 497.4 L121.49 496.85 L121.24 496.27 L120.99 495.68 L120.74 495.09 L120.51 494.51 L120.28 493.95 L120.07 493.41 L119.86 492.91 L119.67 492.42 L119.51 492.03 L100.49 499.97 L100.61 500.25 L100.75 500.59 L100.94 501.06 L101.16 501.61 L101.41 502.23 L101.68 502.91 L101.98 503.63 L102.3 504.39 L102.65 505.18 L103.01 505.99 L103.4 506.82 L103.79 507.6 L104.14 508.3 L104.48 508.98 L104.85 509.7 L105.25 510.46 L105.67 511.25 L106.11 512.06 L106.57 512.88 L107.07 513.73 L107.59 514.59 L108.14 515.45 L108.74 516.33 L109.34 517.15 L109.88 517.86 L110.4 518.53 L110.95 519.22 L111.55 519.94 L112.18 520.67 L112.87 521.41 L113.61 522.17 L114.41 522.93 L115.28 523.68 L116.23 524.42 L117.26 525.14 L118.34 525.81 L119.41 526.4 L120.47 526.9 L121.53 527.36 L122.61 527.76 L123.69 528.11 L124.77 528.42 L125.87 528.68 L126.97 528.9 L128.09 529.07 L129.21 529.19 L130.35 529.27 L131.5 529.3 L132.65 529.27 L133.79 529.19 L134.91 529.07 L136.03 528.9 L137.13 528.68 L138.23 528.42 L139.31 528.11 L140.39 527.76 L141.47 527.36 L142.53 526.9 L143.59 526.4 L144.64 525.83 L145.65 525.21 L146.62 524.56 L147.54 523.87 L148.43 523.14 L149.28 522.39 L150.1 521.6 L150.89 520.78 L151.64 519.93 L152.37 519.04 L153.06 518.12 L153.71 517.15 L154.33 516.13 L154.9 515.07 L155.42 513.99 L155.86 512.91 L156.25 511.84 L156.58 510.77 L156.86 509.73 L157.1 508.69 L157.29 507.68 L157.45 506.68 L157.58 505.7 L157.69 504.75 L157.77 503.78 L157.84 502.78 L157.88 501.75 L157.89 500.71 L157.89 499.66 L157.85 498.59 L157.8 497.51 L157.71 496.42 L157.6 495.32 L157.46 494.22 L157.3 493.1 L157.1 491.97 L156.88 490.86 L156.63 489.78 L156.37 488.69 L156.08 487.59 L155.77 486.48 L155.42 485.35 L155.05 484.21 L154.66 483.07 L154.22 481.91 L153.76 480.76 L153.26 479.6 L152.73 478.44 L152.13 477.23 L151.43 475.95 L150.66 474.68 L149.88 473.48 L149.09 472.32 L148.3 471.22 L147.53 470.17 L146.8 469.19 L146.11 468.3 L145.51 467.5 L144.99 466.84 L144.62 466.34 L144.34 465.95Z" fill="#b2b2b2"/>
<path d="M132.45 480.56 L130.21 482.25" stroke="#2b2b2b" stroke-width="1.3"/><path transform="translate(128.69 483.39) rotate(143.09)" d="M-2 0 L0.2 -2.6 C1.6 -3.4 2.6 -2.4 2.4 -1 C2.4 -0.5 2.2 0 2.2 0 C2.2 0 2.4 0.5 2.4 1 C2.6 2.4 1.6 3.4 0.2 2.6 Z" fill="#3a3a3a" stroke="#1e1e1e" stroke-width="0.6"/><path d="M137.24 488.73 L134.61 489.71" stroke="#2b2b2b" stroke-width="1.3"/><path transform="translate(132.83 490.37) rotate(159.52)" d="M-2 0 L0.2 -2.6 C1.6 -3.4 2.6 -2.4 2.4 -1 C2.4 -0.5 2.2 0 2.2 0 C2.2 0 2.4 0.5 2.4 1 C2.6 2.4 1.6 3.4 0.2 2.6 Z" fill="#3a3a3a" stroke="#1e1e1e" stroke-width="0.6"/><path d="M139.48 497.95 L136.69 498.23" stroke="#2b2b2b" stroke-width="1.3"/><path transform="translate(134.8 498.43) rotate(174.24)" d="M-2 0 L0.2 -2.6 C1.6 -3.4 2.6 -2.4 2.4 -1 C2.4 -0.5 2.2 0 2.2 0 C2.2 0 2.4 0.5 2.4 1 C2.6 2.4 1.6 3.4 0.2 2.6 Z" fill="#3a3a3a" stroke="#1e1e1e" stroke-width="0.6"/><path d="M138.43 507.07 L136.04 505.61" stroke="#2b2b2b" stroke-width="1.3"/><path transform="translate(134.42 504.62) rotate(-148.57)" d="M-2 0 L0.2 -2.6 C1.6 -3.4 2.6 -2.4 2.4 -1 C2.4 -0.5 2.2 0 2.2 0 C2.2 0 2.4 0.5 2.4 1 C2.6 2.4 1.6 3.4 0.2 2.6 Z" fill="#3a3a3a" stroke="#1e1e1e" stroke-width="0.6"/><path d="M130.84 510.97 L131.15 508.18" stroke="#2b2b2b" stroke-width="1.3"/><path transform="translate(131.36 506.3) rotate(-83.58)" d="M-2 0 L0.2 -2.6 C1.6 -3.4 2.6 -2.4 2.4 -1 C2.4 -0.5 2.2 0 2.2 0 C2.2 0 2.4 0.5 2.4 1 C2.6 2.4 1.6 3.4 0.2 2.6 Z" fill="#3a3a3a" stroke="#1e1e1e" stroke-width="0.6"/><path d="M123.7 505.79 L125.97 504.15" stroke="#2b2b2b" stroke-width="1.3"/><path transform="translate(127.5 503.03) rotate(-36.1)" d="M-2 0 L0.2 -2.6 C1.6 -3.4 2.6 -2.4 2.4 -1 C2.4 -0.5 2.2 0 2.2 0 C2.2 0 2.4 0.5 2.4 1 C2.6 2.4 1.6 3.4 0.2 2.6 Z" fill="#3a3a3a" stroke="#1e1e1e" stroke-width="0.6"/><path d="M119.21 497.39 L121.78 496.27" stroke="#2b2b2b" stroke-width="1.3"/><path transform="translate(123.52 495.51) rotate(-23.51)" d="M-2 0 L0.2 -2.6 C1.6 -3.4 2.6 -2.4 2.4 -1 C2.4 -0.5 2.2 0 2.2 0 C2.2 0 2.4 0.5 2.4 1 C2.6 2.4 1.6 3.4 0.2 2.6 Z" fill="#3a3a3a" stroke="#1e1e1e" stroke-width="0.6"/><path d="M145.43 471.2 L147.67 469.52" stroke="#2b2b2b" stroke-width="1.3"/><path transform="translate(149.19 468.38) rotate(-36.91)" d="M-2 0 L0.2 -2.6 C1.6 -3.4 2.6 -2.4 2.4 -1 C2.4 -0.5 2.2 0 2.2 0 C2.2 0 2.4 0.5 2.4 1 C2.6 2.4 1.6 3.4 0.2 2.6 Z" fill="#3a3a3a" stroke="#1e1e1e" stroke-width="0.6"/><path d="M150.72 479.58 L153.27 478.41" stroke="#2b2b2b" stroke-width="1.3"/><path transform="translate(154.99 477.61) rotate(-24.75)" d="M-2 0 L0.2 -2.6 C1.6 -3.4 2.6 -2.4 2.4 -1 C2.4 -0.5 2.2 0 2.2 0 C2.2 0 2.4 0.5 2.4 1 C2.6 2.4 1.6 3.4 0.2 2.6 Z" fill="#3a3a3a" stroke="#1e1e1e" stroke-width="0.6"/><path d="M154.05 488.9 L156.76 488.19" stroke="#2b2b2b" stroke-width="1.3"/><path transform="translate(158.59 487.71) rotate(-14.69)" d="M-2 0 L0.2 -2.6 C1.6 -3.4 2.6 -2.4 2.4 -1 C2.4 -0.5 2.2 0 2.2 0 C2.2 0 2.4 0.5 2.4 1 C2.6 2.4 1.6 3.4 0.2 2.6 Z" fill="#3a3a3a" stroke="#1e1e1e" stroke-width="0.6"/><path d="M155.56 498.71 L158.36 498.62" stroke="#2b2b2b" stroke-width="1.3"/><path transform="translate(160.26 498.57) rotate(-1.74)" d="M-2 0 L0.2 -2.6 C1.6 -3.4 2.6 -2.4 2.4 -1 C2.4 -0.5 2.2 0 2.2 0 C2.2 0 2.4 0.5 2.4 1 C2.6 2.4 1.6 3.4 0.2 2.6 Z" fill="#3a3a3a" stroke="#1e1e1e" stroke-width="0.6"/><path d="M154.76 508.61 L157.49 509.23" stroke="#2b2b2b" stroke-width="1.3"/><path transform="translate(159.34 509.65) rotate(12.82)" d="M-2 0 L0.2 -2.6 C1.6 -3.4 2.6 -2.4 2.4 -1 C2.4 -0.5 2.2 0 2.2 0 C2.2 0 2.4 0.5 2.4 1 C2.6 2.4 1.6 3.4 0.2 2.6 Z" fill="#3a3a3a" stroke="#1e1e1e" stroke-width="0.6"/><path d="M150.53 517.66 L152.7 519.43" stroke="#2b2b2b" stroke-width="1.3"/><path transform="translate(154.17 520.63) rotate(39.15)" d="M-2 0 L0.2 -2.6 C1.6 -3.4 2.6 -2.4 2.4 -1 C2.4 -0.5 2.2 0 2.2 0 C2.2 0 2.4 0.5 2.4 1 C2.6 2.4 1.6 3.4 0.2 2.6 Z" fill="#3a3a3a" stroke="#1e1e1e" stroke-width="0.6"/><path d="M142.94 524.13 L144.28 526.59" stroke="#2b2b2b" stroke-width="1.3"/><path transform="translate(145.18 528.26) rotate(61.54)" d="M-2 0 L0.2 -2.6 C1.6 -3.4 2.6 -2.4 2.4 -1 C2.4 -0.5 2.2 0 2.2 0 C2.2 0 2.4 0.5 2.4 1 C2.6 2.4 1.6 3.4 0.2 2.6 Z" fill="#3a3a3a" stroke="#1e1e1e" stroke-width="0.6"/><path d="M133.35 526.92 L133.54 529.71" stroke="#2b2b2b" stroke-width="1.3"/><path transform="translate(133.67 531.61) rotate(86.07)" d="M-2 0 L0.2 -2.6 C1.6 -3.4 2.6 -2.4 2.4 -1 C2.4 -0.5 2.2 0 2.2 0 C2.2 0 2.4 0.5 2.4 1 C2.6 2.4 1.6 3.4 0.2 2.6 Z" fill="#3a3a3a" stroke="#1e1e1e" stroke-width="0.6"/><path d="M123.47 525.62 L122.6 528.28" stroke="#2b2b2b" stroke-width="1.3"/><path transform="translate(122.01 530.09) rotate(108.1)" d="M-2 0 L0.2 -2.6 C1.6 -3.4 2.6 -2.4 2.4 -1 C2.4 -0.5 2.2 0 2.2 0 C2.2 0 2.4 0.5 2.4 1 C2.6 2.4 1.6 3.4 0.2 2.6 Z" fill="#3a3a3a" stroke="#1e1e1e" stroke-width="0.6"/><path d="M115 520.3 L113.01 522.26" stroke="#2b2b2b" stroke-width="1.3"/><path transform="translate(111.65 523.6) rotate(135.51)" d="M-2 0 L0.2 -2.6 C1.6 -3.4 2.6 -2.4 2.4 -1 C2.4 -0.5 2.2 0 2.2 0 C2.2 0 2.4 0.5 2.4 1 C2.6 2.4 1.6 3.4 0.2 2.6 Z" fill="#3a3a3a" stroke="#1e1e1e" stroke-width="0.6"/><path d="M108.96 512.42 L106.55 513.83" stroke="#2b2b2b" stroke-width="1.3"/><path transform="translate(104.91 514.79) rotate(149.72)" d="M-2 0 L0.2 -2.6 C1.6 -3.4 2.6 -2.4 2.4 -1 C2.4 -0.5 2.2 0 2.2 0 C2.2 0 2.4 0.5 2.4 1 C2.6 2.4 1.6 3.4 0.2 2.6 Z" fill="#3a3a3a" stroke="#1e1e1e" stroke-width="0.6"/><path d="M104.48 503.63 L101.91 504.74" stroke="#2b2b2b" stroke-width="1.3"/><path transform="translate(100.17 505.5) rotate(156.49)" d="M-2 0 L0.2 -2.6 C1.6 -3.4 2.6 -2.4 2.4 -1 C2.4 -0.5 2.2 0 2.2 0 C2.2 0 2.4 0.5 2.4 1 C2.6 2.4 1.6 3.4 0.2 2.6 Z" fill="#3a3a3a" stroke="#1e1e1e" stroke-width="0.6"/>
<path d="M129.2 476.93 L129.6 477.49 L130.11 478.16 L130.67 478.89 L131.26 479.66 L131.88 480.48 L132.52 481.32 L133.15 482.18 L133.76 483.03 L134.32 483.86 L134.82 484.63 L135.23 485.3 L135.55 485.89 L135.86 486.51 L136.18 487.2 L136.49 487.92 L136.78 488.66 L137.07 489.42 L137.33 490.18 L137.58 490.96 L137.82 491.73 L138.04 492.5 L138.24 493.27 L138.42 494.02 L138.58 494.75 L138.72 495.43 L138.84 496.09 L138.94 496.76 L139.02 497.43 L139.09 498.08 L139.14 498.74 L139.17 499.38 L139.19 500.01 L139.19 500.62 L139.18 501.22 L139.16 501.8 L139.12 502.36 L139.07 502.93 L139.02 503.47 L138.95 503.97 L138.88 504.44 L138.79 504.86 L138.71 505.24 L138.62 505.59 L138.52 505.89 L138.42 506.16 L138.32 506.4 L138.22 506.62 L138.12 506.81 L137.98 507.03 L137.82 507.28 L137.62 507.55 L137.39 507.83 L137.14 508.1 L136.88 508.38 L136.6 508.64 L136.33 508.89 L136.05 509.12 L135.78 509.32 L135.53 509.48 L135.31 509.62 L135.09 509.74 L134.83 509.86 L134.53 509.99 L134.21 510.11 L133.87 510.22 L133.52 510.32 L133.15 510.41 L132.79 510.48 L132.44 510.53 L132.1 510.57 L131.78 510.59 L131.5 510.6 L131.22 510.59 L130.9 510.57 L130.56 510.53 L130.21 510.48 L129.85 510.41 L129.48 510.32 L129.13 510.22 L128.79 510.11 L128.47 509.99 L128.17 509.86 L127.91 509.74 L127.71 509.63 L127.56 509.54 L127.4 509.42 L127.2 509.27 L126.97 509.07 L126.71 508.82 L126.43 508.53 L126.12 508.2 L125.79 507.82 L125.44 507.4 L125.08 506.95 L124.7 506.46 L124.34 505.99 L124.04 505.57 L123.75 505.15 L123.44 504.67 L123.12 504.15 L122.8 503.59 L122.47 503 L122.14 502.39 L121.8 501.76 L121.47 501.13 L121.14 500.48 L120.82 499.84 L120.51 499.25 L120.26 498.72 L120.01 498.19 L119.75 497.62 L119.49 497.02 L119.23 496.42 L118.98 495.81 L118.74 495.22 L118.52 494.65 L118.3 494.12 L118.1 493.62 L117.91 493.15 L117.75 492.76 L102.25 499.24 L102.37 499.52 L102.51 499.88 L102.7 500.35 L102.92 500.9 L103.17 501.52 L103.44 502.19 L103.74 502.9 L104.05 503.65 L104.39 504.41 L104.74 505.2 L105.11 506 L105.49 506.75 L105.83 507.44 L106.18 508.12 L106.54 508.83 L106.93 509.58 L107.34 510.35 L107.77 511.14 L108.22 511.94 L108.7 512.76 L109.2 513.58 L109.73 514.41 L110.3 515.24 L110.86 516.01 L111.38 516.7 L111.89 517.35 L112.43 518.02 L112.99 518.71 L113.6 519.4 L114.25 520.11 L114.94 520.81 L115.69 521.52 L116.5 522.22 L117.36 522.9 L118.3 523.56 L119.29 524.17 L120.27 524.7 L121.25 525.17 L122.24 525.59 L123.24 525.97 L124.24 526.29 L125.25 526.58 L126.27 526.82 L127.3 527.03 L128.34 527.19 L129.38 527.3 L130.44 527.38 L131.5 527.4 L132.56 527.38 L133.62 527.3 L134.66 527.19 L135.7 527.03 L136.73 526.82 L137.75 526.58 L138.76 526.29 L139.76 525.97 L140.76 525.59 L141.75 525.17 L142.73 524.7 L143.69 524.18 L144.62 523.61 L145.52 523.01 L146.38 522.37 L147.2 521.69 L147.99 520.99 L148.76 520.26 L149.49 519.49 L150.19 518.7 L150.87 517.88 L151.51 517.02 L152.11 516.12 L152.68 515.19 L153.21 514.21 L153.68 513.22 L154.09 512.22 L154.45 511.23 L154.76 510.25 L155.02 509.27 L155.24 508.3 L155.42 507.35 L155.57 506.41 L155.7 505.48 L155.8 504.56 L155.88 503.64 L155.94 502.68 L155.98 501.7 L155.99 500.7 L155.99 499.69 L155.96 498.67 L155.9 497.64 L155.82 496.59 L155.71 495.54 L155.58 494.47 L155.42 493.4 L155.23 492.32 L155.02 491.25 L154.78 490.21 L154.53 489.16 L154.25 488.09 L153.94 487.01 L153.61 485.92 L153.25 484.82 L152.87 483.71 L152.45 482.6 L152.01 481.49 L151.53 480.37 L151.02 479.26 L150.45 478.11 L149.78 476.9 L149.05 475.69 L148.3 474.53 L147.53 473.41 L146.76 472.33 L146.01 471.3 L145.28 470.34 L144.61 469.45 L144 468.66 L143.48 467.99 L143.09 467.47 L142.8 467.07Z" fill="#1a1a1a"/>
<path d="M130.82 475.76 L131.21 476.29 L131.71 476.95 L132.25 477.67 L132.85 478.44 L133.48 479.27 L134.12 480.13 L134.77 481.01 L135.4 481.89 L135.99 482.75 L136.52 483.56 L136.96 484.3 L137.33 484.96 L137.66 485.65 L138.01 486.39 L138.34 487.15 L138.65 487.94 L138.95 488.74 L139.23 489.54 L139.49 490.36 L139.74 491.17 L139.97 491.98 L140.18 492.78 L140.37 493.57 L140.54 494.33 L140.69 495.06 L140.81 495.77 L140.92 496.49 L141.01 497.2 L141.08 497.91 L141.13 498.61 L141.17 499.3 L141.19 499.97 L141.19 500.63 L141.18 501.28 L141.16 501.9 L141.12 502.51 L141.07 503.12 L141 503.71 L140.93 504.26 L140.85 504.78 L140.75 505.27 L140.65 505.72 L140.54 506.14 L140.42 506.53 L140.29 506.89 L140.15 507.22 L140.01 507.52 L139.85 507.81 L139.67 508.11 L139.45 508.44 L139.19 508.78 L138.91 509.12 L138.61 509.46 L138.29 509.79 L137.96 510.11 L137.62 510.41 L137.28 510.69 L136.94 510.95 L136.61 511.17 L136.31 511.35 L136 511.52 L135.65 511.69 L135.28 511.85 L134.87 512 L134.45 512.13 L134.02 512.26 L133.58 512.36 L133.14 512.45 L132.7 512.52 L132.28 512.56 L131.88 512.59 L131.5 512.6 L131.12 512.59 L130.72 512.56 L130.3 512.52 L129.86 512.45 L129.42 512.36 L128.98 512.26 L128.55 512.13 L128.13 512 L127.72 511.85 L127.35 511.69 L127 511.52 L126.71 511.36 L126.46 511.21 L126.2 511.03 L125.92 510.81 L125.63 510.55 L125.31 510.25 L124.98 509.91 L124.63 509.53 L124.27 509.12 L123.89 508.67 L123.51 508.19 L123.11 507.67 L122.73 507.18 L122.4 506.72 L122.08 506.25 L121.75 505.73 L121.41 505.17 L121.06 504.58 L120.72 503.97 L120.37 503.34 L120.03 502.69 L119.69 502.04 L119.36 501.39 L119.03 500.74 L118.73 500.14 L118.45 499.59 L118.19 499.02 L117.92 498.43 L117.65 497.81 L117.39 497.19 L117.13 496.57 L116.89 495.97 L116.66 495.4 L116.44 494.86 L116.25 494.36 L116.06 493.9 L115.91 493.53 L104.09 498.47 L104.22 498.77 L104.37 499.14 L104.56 499.61 L104.78 500.16 L105.02 500.77 L105.29 501.43 L105.58 502.13 L105.89 502.86 L106.21 503.61 L106.56 504.37 L106.92 505.13 L107.27 505.86 L107.61 506.53 L107.96 507.21 L108.32 507.91 L108.7 508.65 L109.1 509.4 L109.52 510.17 L109.96 510.95 L110.41 511.73 L110.89 512.52 L111.4 513.3 L111.93 514.09 L112.47 514.82 L112.97 515.48 L113.46 516.11 L113.98 516.76 L114.52 517.41 L115.09 518.07 L115.7 518.73 L116.34 519.38 L117.03 520.04 L117.77 520.67 L118.56 521.29 L119.41 521.89 L120.29 522.44 L121.18 522.92 L122.08 523.35 L122.98 523.73 L123.9 524.08 L124.82 524.38 L125.76 524.64 L126.7 524.87 L127.65 525.06 L128.6 525.2 L129.56 525.31 L130.53 525.38 L131.5 525.4 L132.47 525.38 L133.44 525.31 L134.4 525.2 L135.35 525.06 L136.3 524.87 L137.24 524.64 L138.18 524.38 L139.1 524.08 L140.02 523.73 L140.92 523.35 L141.82 522.92 L142.69 522.45 L143.54 521.93 L144.36 521.38 L145.15 520.79 L145.91 520.17 L146.64 519.52 L147.34 518.84 L148.02 518.14 L148.67 517.41 L149.29 516.65 L149.88 515.86 L150.43 515.04 L150.95 514.19 L151.43 513.31 L151.85 512.41 L152.23 511.5 L152.55 510.6 L152.83 509.69 L153.08 508.79 L153.28 507.89 L153.45 507 L153.59 506.12 L153.71 505.24 L153.8 504.37 L153.88 503.49 L153.94 502.58 L153.98 501.64 L153.99 500.69 L153.99 499.73 L153.96 498.76 L153.91 497.77 L153.83 496.77 L153.73 495.76 L153.6 494.75 L153.45 493.72 L153.27 492.69 L153.06 491.67 L152.83 490.66 L152.59 489.65 L152.32 488.62 L152.02 487.57 L151.7 486.52 L151.36 485.46 L150.99 484.39 L150.59 483.32 L150.16 482.25 L149.7 481.19 L149.21 480.12 L148.67 479.04 L148.05 477.9 L147.36 476.76 L146.63 475.64 L145.89 474.56 L145.14 473.5 L144.4 472.5 L143.69 471.55 L143.02 470.67 L142.41 469.88 L141.89 469.2 L141.49 468.67 L141.18 468.24Z" fill="#fff"/>
<path d="M136 472 L136.35 472.48 L136.8 473.08 L137.33 473.77 L137.93 474.56 L138.58 475.41 L139.26 476.31 L139.96 477.26 L140.64 478.22 L141.31 479.2 L141.94 480.16 L142.51 481.1 L143 482 L143.44 482.88 L143.85 483.79 L144.25 484.7 L144.62 485.63 L144.97 486.56 L145.29 487.5 L145.6 488.44 L145.88 489.37 L146.14 490.3 L146.38 491.21 L146.6 492.12 L146.8 493 L146.98 493.87 L147.13 494.75 L147.26 495.62 L147.37 496.48 L147.45 497.34 L147.52 498.19 L147.56 499.03 L147.59 499.85 L147.59 500.66 L147.58 501.46 L147.55 502.24 L147.5 503 L147.44 503.74 L147.36 504.47 L147.26 505.19 L147.15 505.89 L147.02 506.58 L146.86 507.26 L146.69 507.92 L146.49 508.56 L146.26 509.19 L146 509.81 L145.72 510.41 L145.4 511 L145.05 511.58 L144.66 512.15 L144.24 512.71 L143.79 513.26 L143.32 513.8 L142.82 514.32 L142.3 514.82 L141.76 515.29 L141.21 515.74 L140.65 516.16 L140.08 516.55 L139.5 516.9 L138.91 517.22 L138.29 517.52 L137.65 517.79 L136.99 518.04 L136.32 518.26 L135.63 518.45 L134.94 518.62 L134.24 518.75 L133.55 518.86 L132.86 518.94 L132.17 518.98 L131.5 519 L130.83 518.98 L130.14 518.94 L129.45 518.86 L128.76 518.75 L128.06 518.62 L127.37 518.45 L126.68 518.26 L126.01 518.04 L125.35 517.79 L124.71 517.52 L124.09 517.22 L123.5 516.9 L122.93 516.55 L122.38 516.16 L121.85 515.74 L121.33 515.29 L120.83 514.82 L120.34 514.32 L119.86 513.8 L119.39 513.26 L118.93 512.71 L118.48 512.15 L118.04 511.58 L117.6 511 L117.17 510.4 L116.74 509.78 L116.32 509.12 L115.91 508.45 L115.51 507.76 L115.12 507.07 L114.74 506.37 L114.37 505.67 L114.01 504.98 L113.66 504.3 L113.32 503.64 L113 503 L112.68 502.36 L112.37 501.69 L112.07 501.02 L111.77 500.33 L111.48 499.66 L111.21 499 L110.96 498.37 L110.72 497.78 L110.5 497.23 L110.31 496.75 L110.14 496.34 L110 496" fill="none" stroke="#2e2e2e" stroke-width="6.5" stroke-linecap="round" stroke-linejoin="round"/>
<path d="M134.75 472.91 L135.1 473.4 L135.57 474.02 L136.1 474.72 L136.7 475.5 L137.35 476.34 L138.02 477.24 L138.7 478.16 L139.37 479.11 L140.02 480.06 L140.62 480.98 L141.16 481.87 L141.63 482.72 L142.04 483.55 L142.44 484.42 L142.82 485.3 L143.17 486.19 L143.51 487.09 L143.82 487.99 L144.12 488.9 L144.39 489.81 L144.65 490.7 L144.88 491.59 L145.09 492.47 L145.28 493.32 L145.45 494.16 L145.6 495 L145.72 495.83 L145.83 496.66 L145.91 497.48 L145.97 498.29 L146.02 499.09 L146.04 499.88 L146.04 500.66 L146.03 501.42 L146 502.16 L145.95 502.88 L145.89 503.59 L145.82 504.29 L145.73 504.97 L145.62 505.62 L145.5 506.26 L145.36 506.88 L145.2 507.49 L145.02 508.07 L144.81 508.64 L144.59 509.18 L144.33 509.71 L144.06 510.23 L143.74 510.74 L143.4 511.25 L143.02 511.76 L142.61 512.26 L142.18 512.75 L141.72 513.22 L141.25 513.68 L140.76 514.11 L140.26 514.52 L139.75 514.9 L139.24 515.24 L138.73 515.56 L138.2 515.84 L137.65 516.11 L137.07 516.35 L136.48 516.57 L135.86 516.77 L135.24 516.95 L134.61 517.1 L133.98 517.23 L133.34 517.32 L132.72 517.39 L132.1 517.44 L131.5 517.45 L130.9 517.44 L130.28 517.39 L129.66 517.32 L129.02 517.23 L128.39 517.1 L127.76 516.95 L127.14 516.77 L126.52 516.57 L125.93 516.35 L125.35 516.11 L124.8 515.84 L124.28 515.56 L123.78 515.25 L123.31 514.92 L122.83 514.55 L122.37 514.14 L121.91 513.71 L121.46 513.25 L121.01 512.77 L120.57 512.26 L120.14 511.73 L119.7 511.19 L119.27 510.63 L118.84 510.07 L118.43 509.51 L118.03 508.92 L117.64 508.3 L117.24 507.66 L116.86 506.99 L116.47 506.32 L116.1 505.63 L115.74 504.95 L115.38 504.27 L115.04 503.6 L114.71 502.94 L114.39 502.31 L114.08 501.69 L113.78 501.05 L113.48 500.39 L113.19 499.72 L112.91 499.06 L112.65 498.41 L112.39 497.79 L112.16 497.2 L111.94 496.66 L111.75 496.17 L111.57 495.75 L111.43 495.4" fill="none" stroke="#8a8a8a" stroke-width="1.35" stroke-linecap="round" stroke-dasharray="0 2.75" stroke-linejoin="round"/>
<path d="M137.25 471.09 L137.59 471.56 L138.03 472.14 L138.56 472.83 L139.16 473.61 L139.82 474.47 L140.51 475.39 L141.21 476.35 L141.91 477.33 L142.6 478.33 L143.25 479.34 L143.85 480.32 L144.37 481.28 L144.84 482.22 L145.27 483.16 L145.68 484.11 L146.06 485.07 L146.43 486.04 L146.76 487.01 L147.08 487.97 L147.37 488.93 L147.64 489.89 L147.89 490.83 L148.11 491.76 L148.32 492.68 L148.5 493.59 L148.66 494.5 L148.79 495.41 L148.91 496.31 L149 497.2 L149.07 498.09 L149.11 498.96 L149.14 499.82 L149.14 500.67 L149.13 501.5 L149.1 502.32 L149.05 503.12 L148.98 503.89 L148.89 504.66 L148.79 505.41 L148.67 506.16 L148.53 506.9 L148.37 507.63 L148.18 508.35 L147.95 509.06 L147.7 509.75 L147.42 510.44 L147.1 511.11 L146.74 511.77 L146.35 512.42 L145.92 513.05 L145.46 513.66 L144.97 514.27 L144.46 514.85 L143.91 515.41 L143.35 515.96 L142.77 516.47 L142.16 516.96 L141.55 517.42 L140.92 517.85 L140.27 518.24 L139.61 518.6 L138.93 518.93 L138.22 519.23 L137.5 519.5 L136.77 519.74 L136.02 519.95 L135.27 520.13 L134.51 520.28 L133.75 520.4 L133 520.48 L132.25 520.53 L131.5 520.55 L130.75 520.53 L130 520.48 L129.25 520.4 L128.49 520.28 L127.73 520.13 L126.98 519.95 L126.23 519.74 L125.5 519.5 L124.78 519.23 L124.07 518.93 L123.39 518.6 L122.72 518.24 L122.08 517.84 L121.45 517.4 L120.86 516.94 L120.29 516.44 L119.74 515.92 L119.21 515.39 L118.7 514.83 L118.21 514.27 L117.73 513.69 L117.27 513.11 L116.81 512.52 L116.36 511.93 L115.9 511.3 L115.45 510.63 L115.01 509.95 L114.58 509.25 L114.17 508.54 L113.76 507.82 L113.37 507.1 L112.99 506.39 L112.63 505.69 L112.28 505 L111.94 504.34 L111.61 503.69 L111.29 503.03 L110.96 502.34 L110.65 501.64 L110.35 500.94 L110.05 500.26 L109.78 499.59 L109.52 498.95 L109.28 498.35 L109.06 497.81 L108.87 497.33 L108.71 496.92 L108.57 496.6" fill="none" stroke="#8a8a8a" stroke-width="1.35" stroke-linecap="round" stroke-dasharray="0 2.75" stroke-linejoin="round"/>
<path d="M118.52 490.15 L118.18 489.87 L117.74 489.5 L117.18 489.02 L116.52 488.46 L115.79 487.83 L115.01 487.17 L114.18 486.47 L113.32 485.77 L112.44 485.06 L111.54 484.36 L110.62 483.68 L109.74 483.06 L108.99 482.57 L108.32 482.13 L107.62 481.69 L106.9 481.25 L106.14 480.82 L105.33 480.38 L104.49 479.96 L103.62 479.56 L102.71 479.18 L101.77 478.82 L100.81 478.5 L99.8 478.19 L98.72 477.91 L97.64 477.66 L96.57 477.44 L95.52 477.26 L94.48 477.1 L93.46 476.97 L92.45 476.85 L91.46 476.74 L90.5 476.65 L89.55 476.57 L88.64 476.5 L87.77 476.43 L86.89 476.36 L86 476.3 L85.07 476.24 L84.11 476.19 L83.13 476.14 L82.13 476.11 L81.11 476.09 L80.06 476.09 L78.99 476.12 L77.9 476.17 L76.79 476.26 L75.7 476.38 L74.69 476.53 L73.71 476.69 L72.73 476.88 L71.74 477.1 L70.74 477.34 L69.73 477.63 L68.71 477.95 L67.68 478.32 L66.65 478.75 L65.61 479.23 L64.55 479.78 L63.48 480.42 L62.41 481.16 L61.41 481.96 L60.5 482.77 L59.68 483.61 L58.93 484.44 L58.25 485.28 L57.63 486.11 L57.07 486.94 L56.56 487.75 L56.1 488.55 L55.68 489.33 L55.28 490.15 L54.87 491.07 L54.49 492.05 L54.17 493.04 L53.9 494.01 L53.69 494.97 L53.53 495.91 L53.42 496.83 L53.34 497.7 L53.3 498.55 L53.28 499.36 L53.29 500.14 L53.31 500.87 L53.34 501.59 L53.38 502.33 L53.45 503.14 L53.53 503.99 L53.65 504.9 L53.8 505.86 L54 506.87 L54.26 507.92 L54.59 509.03 L55.01 510.19 L55.53 511.4 L56.17 512.6 L56.84 513.68 L57.54 514.65 L58.26 515.55 L59.01 516.39 L59.78 517.18 L60.57 517.92 L61.38 518.62 L62.21 519.28 L63.07 519.9 L63.94 520.48 L64.85 521.03 L65.79 521.55 L66.8 522.04 L67.83 522.48 L68.85 522.86 L69.85 523.19 L70.84 523.46 L71.81 523.7 L72.75 523.89 L73.68 524.06 L74.59 524.19 L75.48 524.3 L76.35 524.39 L77.24 524.47 L78.22 524.53 L79.23 524.57 L80.22 524.57 L81.2 524.56 L82.17 524.52 L83.12 524.47 L84.06 524.4 L84.99 524.32 L85.89 524.22 L86.78 524.12 L87.64 524.01 L88.55 523.88 L89.55 523.72 L90.58 523.51 L91.56 523.3 L92.5 523.07 L93.41 522.84 L94.26 522.61 L95.05 522.39 L95.77 522.18 L96.41 522 L96.93 521.85 L97.31 521.74 L97.61 521.66 L92.39 501.94 L91.92 502.06 L91.35 502.22 L90.76 502.39 L90.15 502.57 L89.52 502.75 L88.87 502.93 L88.21 503.11 L87.57 503.27 L86.96 503.42 L86.39 503.55 L85.9 503.64 L85.45 503.72 L84.92 503.79 L84.3 503.87 L83.68 503.94 L83.05 504.01 L82.43 504.06 L81.82 504.11 L81.22 504.14 L80.65 504.16 L80.11 504.17 L79.62 504.17 L79.18 504.15 L78.76 504.13 L78.29 504.09 L77.8 504.04 L77.35 503.98 L76.95 503.92 L76.58 503.86 L76.26 503.79 L75.98 503.72 L75.74 503.66 L75.55 503.6 L75.4 503.54 L75.3 503.5 L75.21 503.45 L75.07 503.38 L74.9 503.27 L74.71 503.15 L74.53 503.01 L74.35 502.87 L74.18 502.73 L74.04 502.59 L73.92 502.47 L73.84 502.38 L73.79 502.32 L73.78 502.31 L73.83 502.4 L73.92 502.57 L73.97 502.68 L73.98 502.7 L73.96 502.63 L73.93 502.48 L73.88 502.27 L73.84 501.99 L73.8 501.67 L73.76 501.32 L73.73 500.93 L73.71 500.52 L73.69 500.13 L73.68 499.79 L73.68 499.51 L73.69 499.28 L73.69 499.11 L73.71 498.98 L73.72 498.9 L73.72 498.85 L73.73 498.84 L73.72 498.85 L73.72 498.87 L73.71 498.89 L73.72 498.85 L73.8 498.7 L73.91 498.49 L74.03 498.29 L74.15 498.1 L74.26 497.93 L74.37 497.78 L74.47 497.66 L74.54 497.58 L74.59 497.53 L74.6 497.52 L74.57 497.54 L74.52 497.58 L74.52 497.58 L74.61 497.53 L74.76 497.46 L74.98 497.37 L75.26 497.27 L75.58 497.17 L75.96 497.07 L76.37 496.96 L76.83 496.86 L77.31 496.77 L77.82 496.69 L78.3 496.62 L78.74 496.57 L79.2 496.53 L79.72 496.51 L80.31 496.49 L80.94 496.49 L81.62 496.5 L82.33 496.53 L83.07 496.56 L83.84 496.6 L84.62 496.65 L85.43 496.71 L86.23 496.77 L87.04 496.83 L87.85 496.9 L88.64 496.97 L89.43 497.04 L90.19 497.12 L90.92 497.21 L91.61 497.3 L92.26 497.4 L92.85 497.5 L93.37 497.6 L93.82 497.71 L94.2 497.81 L94.56 497.92 L94.89 498.03 L95.17 498.14 L95.42 498.24 L95.66 498.35 L95.92 498.48 L96.19 498.63 L96.51 498.81 L96.88 499.04 L97.3 499.31 L97.79 499.62 L98.26 499.94 L98.7 500.24 L99.2 500.61 L99.8 501.07 L100.46 501.6 L101.16 502.18 L101.87 502.77 L102.57 503.37 L103.25 503.95 L103.9 504.5 L104.49 505.02 L105.04 505.48 L105.48 505.85Z" fill="#b2b2b2"/>
<path d="M113.52 488.92 L115.32 486.77" stroke="#2b2b2b" stroke-width="1.3"/><path transform="translate(116.53 485.31) rotate(-50.09)" d="M-2 0 L0.2 -2.6 C1.6 -3.4 2.6 -2.4 2.4 -1 C2.4 -0.5 2.2 0 2.2 0 C2.2 0 2.4 0.5 2.4 1 C2.6 2.4 1.6 3.4 0.2 2.6 Z" fill="#3a3a3a" stroke="#1e1e1e" stroke-width="0.6"/><path d="M105.98 483.39 L107.43 481" stroke="#2b2b2b" stroke-width="1.3"/><path transform="translate(108.42 479.37) rotate(-58.76)" d="M-2 0 L0.2 -2.6 C1.6 -3.4 2.6 -2.4 2.4 -1 C2.4 -0.5 2.2 0 2.2 0 C2.2 0 2.4 0.5 2.4 1 C2.6 2.4 1.6 3.4 0.2 2.6 Z" fill="#3a3a3a" stroke="#1e1e1e" stroke-width="0.6"/><path d="M97.23 479.92 L97.86 477.19" stroke="#2b2b2b" stroke-width="1.3"/><path transform="translate(98.28 475.34) rotate(-77.06)" d="M-2 0 L0.2 -2.6 C1.6 -3.4 2.6 -2.4 2.4 -1 C2.4 -0.5 2.2 0 2.2 0 C2.2 0 2.4 0.5 2.4 1 C2.6 2.4 1.6 3.4 0.2 2.6 Z" fill="#3a3a3a" stroke="#1e1e1e" stroke-width="0.6"/><path d="M87.95 478.75 L88.17 475.96" stroke="#2b2b2b" stroke-width="1.3"/><path transform="translate(88.31 474.06) rotate(-85.63)" d="M-2 0 L0.2 -2.6 C1.6 -3.4 2.6 -2.4 2.4 -1 C2.4 -0.5 2.2 0 2.2 0 C2.2 0 2.4 0.5 2.4 1 C2.6 2.4 1.6 3.4 0.2 2.6 Z" fill="#3a3a3a" stroke="#1e1e1e" stroke-width="0.6"/><path d="M78.62 478.44 L78.48 475.64" stroke="#2b2b2b" stroke-width="1.3"/><path transform="translate(78.39 473.74) rotate(-92.8)" d="M-2 0 L0.2 -2.6 C1.6 -3.4 2.6 -2.4 2.4 -1 C2.4 -0.5 2.2 0 2.2 0 C2.2 0 2.4 0.5 2.4 1 C2.6 2.4 1.6 3.4 0.2 2.6 Z" fill="#3a3a3a" stroke="#1e1e1e" stroke-width="0.6"/><path d="M69.36 480.16 L68.41 477.53" stroke="#2b2b2b" stroke-width="1.3"/><path transform="translate(67.77 475.74) rotate(-109.81)" d="M-2 0 L0.2 -2.6 C1.6 -3.4 2.6 -2.4 2.4 -1 C2.4 -0.5 2.2 0 2.2 0 C2.2 0 2.4 0.5 2.4 1 C2.6 2.4 1.6 3.4 0.2 2.6 Z" fill="#3a3a3a" stroke="#1e1e1e" stroke-width="0.6"/><path d="M61.34 485.2 L59.25 483.33" stroke="#2b2b2b" stroke-width="1.3"/><path transform="translate(57.84 482.06) rotate(-138.23)" d="M-2 0 L0.2 -2.6 C1.6 -3.4 2.6 -2.4 2.4 -1 C2.4 -0.5 2.2 0 2.2 0 C2.2 0 2.4 0.5 2.4 1 C2.6 2.4 1.6 3.4 0.2 2.6 Z" fill="#3a3a3a" stroke="#1e1e1e" stroke-width="0.6"/><path d="M56.5 493.31 L53.83 492.44" stroke="#2b2b2b" stroke-width="1.3"/><path transform="translate(52.03 491.85) rotate(-161.99)" d="M-2 0 L0.2 -2.6 C1.6 -3.4 2.6 -2.4 2.4 -1 C2.4 -0.5 2.2 0 2.2 0 C2.2 0 2.4 0.5 2.4 1 C2.6 2.4 1.6 3.4 0.2 2.6 Z" fill="#3a3a3a" stroke="#1e1e1e" stroke-width="0.6"/><path d="M55.72 502.71 L52.93 502.93" stroke="#2b2b2b" stroke-width="1.3"/><path transform="translate(51.03 503.08) rotate(175.52)" d="M-2 0 L0.2 -2.6 C1.6 -3.4 2.6 -2.4 2.4 -1 C2.4 -0.5 2.2 0 2.2 0 C2.2 0 2.4 0.5 2.4 1 C2.6 2.4 1.6 3.4 0.2 2.6 Z" fill="#3a3a3a" stroke="#1e1e1e" stroke-width="0.6"/><path d="M58.38 511.8 L56 513.28" stroke="#2b2b2b" stroke-width="1.3"/><path transform="translate(54.39 514.29) rotate(147.97)" d="M-2 0 L0.2 -2.6 C1.6 -3.4 2.6 -2.4 2.4 -1 C2.4 -0.5 2.2 0 2.2 0 C2.2 0 2.4 0.5 2.4 1 C2.6 2.4 1.6 3.4 0.2 2.6 Z" fill="#3a3a3a" stroke="#1e1e1e" stroke-width="0.6"/><path d="M65.07 518.47 L63.52 520.8" stroke="#2b2b2b" stroke-width="1.3"/><path transform="translate(62.46 522.38) rotate(123.64)" d="M-2 0 L0.2 -2.6 C1.6 -3.4 2.6 -2.4 2.4 -1 C2.4 -0.5 2.2 0 2.2 0 C2.2 0 2.4 0.5 2.4 1 C2.6 2.4 1.6 3.4 0.2 2.6 Z" fill="#3a3a3a" stroke="#1e1e1e" stroke-width="0.6"/><path d="M73.92 521.76 L73.43 524.52" stroke="#2b2b2b" stroke-width="1.3"/><path transform="translate(73.1 526.39) rotate(99.98)" d="M-2 0 L0.2 -2.6 C1.6 -3.4 2.6 -2.4 2.4 -1 C2.4 -0.5 2.2 0 2.2 0 C2.2 0 2.4 0.5 2.4 1 C2.6 2.4 1.6 3.4 0.2 2.6 Z" fill="#3a3a3a" stroke="#1e1e1e" stroke-width="0.6"/><path d="M83.31 522.15 L83.51 524.94" stroke="#2b2b2b" stroke-width="1.3"/><path transform="translate(83.65 526.83) rotate(85.85)" d="M-2 0 L0.2 -2.6 C1.6 -3.4 2.6 -2.4 2.4 -1 C2.4 -0.5 2.2 0 2.2 0 C2.2 0 2.4 0.5 2.4 1 C2.6 2.4 1.6 3.4 0.2 2.6 Z" fill="#3a3a3a" stroke="#1e1e1e" stroke-width="0.6"/><path d="M92.55 520.68 L93.25 523.39" stroke="#2b2b2b" stroke-width="1.3"/><path transform="translate(93.72 525.23) rotate(75.58)" d="M-2 0 L0.2 -2.6 C1.6 -3.4 2.6 -2.4 2.4 -1 C2.4 -0.5 2.2 0 2.2 0 C2.2 0 2.4 0.5 2.4 1 C2.6 2.4 1.6 3.4 0.2 2.6 Z" fill="#3a3a3a" stroke="#1e1e1e" stroke-width="0.6"/><path d="M103.14 500.84 L101.34 502.99" stroke="#2b2b2b" stroke-width="1.3"/><path transform="translate(100.13 504.44) rotate(129.91)" d="M-2 0 L0.2 -2.6 C1.6 -3.4 2.6 -2.4 2.4 -1 C2.4 -0.5 2.2 0 2.2 0 C2.2 0 2.4 0.5 2.4 1 C2.6 2.4 1.6 3.4 0.2 2.6 Z" fill="#3a3a3a" stroke="#1e1e1e" stroke-width="0.6"/><path d="M94.96 495.64 L94.14 498.31" stroke="#2b2b2b" stroke-width="1.3"/><path transform="translate(93.59 500.13) rotate(106.97)" d="M-2 0 L0.2 -2.6 C1.6 -3.4 2.6 -2.4 2.4 -1 C2.4 -0.5 2.2 0 2.2 0 C2.2 0 2.4 0.5 2.4 1 C2.6 2.4 1.6 3.4 0.2 2.6 Z" fill="#3a3a3a" stroke="#1e1e1e" stroke-width="0.6"/><path d="M85.19 494.39 L84.99 497.18" stroke="#2b2b2b" stroke-width="1.3"/><path transform="translate(84.86 499.08) rotate(94.03)" d="M-2 0 L0.2 -2.6 C1.6 -3.4 2.6 -2.4 2.4 -1 C2.4 -0.5 2.2 0 2.2 0 C2.2 0 2.4 0.5 2.4 1 C2.6 2.4 1.6 3.4 0.2 2.6 Z" fill="#3a3a3a" stroke="#1e1e1e" stroke-width="0.6"/><path d="M75.44 494.83 L76.11 497.54" stroke="#2b2b2b" stroke-width="1.3"/><path transform="translate(76.57 499.39) rotate(76.07)" d="M-2 0 L0.2 -2.6 C1.6 -3.4 2.6 -2.4 2.4 -1 C2.4 -0.5 2.2 0 2.2 0 C2.2 0 2.4 0.5 2.4 1 C2.6 2.4 1.6 3.4 0.2 2.6 Z" fill="#3a3a3a" stroke="#1e1e1e" stroke-width="0.6"/><path d="M71.51 501.87 L74.3 501.59" stroke="#2b2b2b" stroke-width="1.3"/><path transform="translate(76.19 501.4) rotate(-5.73)" d="M-2 0 L0.2 -2.6 C1.6 -3.4 2.6 -2.4 2.4 -1 C2.4 -0.5 2.2 0 2.2 0 C2.2 0 2.4 0.5 2.4 1 C2.6 2.4 1.6 3.4 0.2 2.6 Z" fill="#3a3a3a" stroke="#1e1e1e" stroke-width="0.6"/><path d="M78.44 506.41 L78.69 503.62" stroke="#2b2b2b" stroke-width="1.3"/><path transform="translate(78.85 501.73) rotate(-85.02)" d="M-2 0 L0.2 -2.6 C1.6 -3.4 2.6 -2.4 2.4 -1 C2.4 -0.5 2.2 0 2.2 0 C2.2 0 2.4 0.5 2.4 1 C2.6 2.4 1.6 3.4 0.2 2.6 Z" fill="#3a3a3a" stroke="#1e1e1e" stroke-width="0.6"/><path d="M88.16 505.5 L87.47 502.78" stroke="#2b2b2b" stroke-width="1.3"/><path transform="translate(86.99 500.94) rotate(-104.43)" d="M-2 0 L0.2 -2.6 C1.6 -3.4 2.6 -2.4 2.4 -1 C2.4 -0.5 2.2 0 2.2 0 C2.2 0 2.4 0.5 2.4 1 C2.6 2.4 1.6 3.4 0.2 2.6 Z" fill="#3a3a3a" stroke="#1e1e1e" stroke-width="0.6"/>
<path d="M117.3 491.61 L116.95 491.32 L116.51 490.95 L115.94 490.46 L115.29 489.9 L114.56 489.28 L113.78 488.62 L112.96 487.93 L112.12 487.24 L111.26 486.55 L110.39 485.88 L109.51 485.22 L108.67 484.64 L107.95 484.16 L107.29 483.73 L106.62 483.31 L105.93 482.89 L105.21 482.48 L104.46 482.07 L103.67 481.68 L102.85 481.3 L102 480.94 L101.13 480.61 L100.23 480.31 L99.28 480.02 L98.27 479.75 L97.24 479.51 L96.23 479.31 L95.22 479.14 L94.22 478.98 L93.22 478.85 L92.24 478.74 L91.27 478.63 L90.32 478.54 L89.4 478.46 L88.49 478.39 L87.62 478.32 L86.76 478.26 L85.87 478.2 L84.95 478.14 L84.02 478.08 L83.06 478.04 L82.08 478.01 L81.09 477.99 L80.08 477.99 L79.06 478.02 L78.02 478.07 L76.97 478.15 L75.94 478.27 L74.98 478.41 L74.05 478.56 L73.11 478.74 L72.17 478.95 L71.22 479.18 L70.27 479.45 L69.32 479.75 L68.36 480.1 L67.41 480.49 L66.44 480.93 L65.48 481.44 L64.51 482.02 L63.54 482.69 L62.64 483.41 L61.82 484.15 L61.06 484.91 L60.38 485.68 L59.75 486.45 L59.18 487.21 L58.66 487.98 L58.19 488.73 L57.76 489.47 L57.37 490.2 L56.99 490.96 L56.62 491.8 L56.28 492.69 L55.99 493.58 L55.75 494.46 L55.56 495.34 L55.41 496.19 L55.31 497.03 L55.24 497.84 L55.2 498.62 L55.18 499.38 L55.19 500.11 L55.21 500.8 L55.24 501.49 L55.28 502.2 L55.34 502.97 L55.42 503.78 L55.53 504.63 L55.67 505.52 L55.86 506.46 L56.1 507.43 L56.39 508.44 L56.77 509.49 L57.25 510.58 L57.81 511.65 L58.42 512.62 L59.05 513.5 L59.71 514.32 L60.39 515.1 L61.1 515.82 L61.84 516.51 L62.59 517.15 L63.36 517.76 L64.15 518.34 L64.97 518.88 L65.8 519.38 L66.67 519.86 L67.59 520.31 L68.53 520.72 L69.47 521.07 L70.4 521.37 L71.32 521.63 L72.22 521.84 L73.11 522.03 L73.99 522.18 L74.85 522.31 L75.69 522.42 L76.53 522.5 L77.38 522.58 L78.31 522.63 L79.27 522.67 L80.21 522.67 L81.15 522.66 L82.08 522.62 L83 522.57 L83.91 522.5 L84.81 522.43 L85.69 522.34 L86.55 522.24 L87.39 522.13 L88.26 522 L89.21 521.85 L90.19 521.65 L91.13 521.44 L92.05 521.22 L92.92 521 L93.76 520.77 L94.54 520.56 L95.25 520.35 L95.88 520.17 L96.41 520.02 L96.81 519.91 L97.12 519.82 L92.88 503.78 L92.43 503.9 L91.87 504.05 L91.29 504.22 L90.68 504.4 L90.03 504.58 L89.37 504.76 L88.7 504.95 L88.03 505.12 L87.38 505.27 L86.78 505.41 L86.24 505.51 L85.74 505.6 L85.17 505.68 L84.53 505.76 L83.88 505.83 L83.23 505.9 L82.58 505.96 L81.94 506 L81.31 506.04 L80.7 506.06 L80.12 506.07 L79.58 506.07 L79.09 506.05 L78.62 506.02 L78.11 505.98 L77.59 505.92 L77.1 505.86 L76.64 505.8 L76.22 505.72 L75.84 505.64 L75.5 505.56 L75.19 505.48 L74.93 505.39 L74.7 505.31 L74.51 505.22 L74.33 505.14 L74.12 505.02 L73.88 504.87 L73.63 504.71 L73.38 504.53 L73.14 504.34 L72.91 504.14 L72.71 503.95 L72.53 503.77 L72.38 503.61 L72.27 503.47 L72.2 503.37 L72.19 503.35 L72.21 503.39 L72.21 503.38 L72.18 503.29 L72.13 503.13 L72.07 502.89 L72.01 502.6 L71.96 502.26 L71.91 501.89 L71.87 501.49 L71.84 501.06 L71.81 500.62 L71.79 500.2 L71.78 499.82 L71.78 499.5 L71.79 499.22 L71.8 498.98 L71.82 498.78 L71.84 498.62 L71.86 498.49 L71.88 498.39 L71.9 498.3 L71.93 498.23 L71.95 498.16 L72.01 498.04 L72.11 497.83 L72.25 497.57 L72.4 497.31 L72.56 497.06 L72.72 496.83 L72.87 496.62 L73.02 496.43 L73.16 496.28 L73.28 496.16 L73.37 496.07 L73.44 496.02 L73.49 495.98 L73.59 495.92 L73.77 495.83 L74.01 495.72 L74.3 495.6 L74.65 495.48 L75.04 495.35 L75.47 495.23 L75.94 495.11 L76.44 495 L76.97 494.9 L77.53 494.81 L78.06 494.73 L78.56 494.68 L79.08 494.63 L79.66 494.61 L80.29 494.59 L80.96 494.59 L81.67 494.6 L82.4 494.63 L83.17 494.66 L83.95 494.71 L84.75 494.76 L85.56 494.82 L86.38 494.88 L87.19 494.94 L88.01 495 L88.82 495.08 L89.62 495.15 L90.4 495.23 L91.15 495.32 L91.88 495.42 L92.56 495.52 L93.2 495.63 L93.77 495.75 L94.28 495.86 L94.72 495.98 L95.15 496.11 L95.53 496.24 L95.87 496.37 L96.18 496.5 L96.49 496.64 L96.79 496.79 L97.12 496.97 L97.48 497.18 L97.88 497.42 L98.33 497.71 L98.84 498.03 L99.33 498.36 L99.81 498.69 L100.35 499.09 L100.98 499.58 L101.66 500.13 L102.37 500.72 L103.09 501.32 L103.8 501.92 L104.49 502.51 L105.14 503.06 L105.73 503.57 L106.27 504.03 L106.7 504.39Z" fill="#1a1a1a"/>
<path d="M116.02 493.15 L115.67 492.86 L115.21 492.47 L114.64 491.98 L113.99 491.42 L113.27 490.8 L112.49 490.15 L111.69 489.47 L110.86 488.79 L110.02 488.12 L109.18 487.47 L108.34 486.84 L107.54 486.29 L106.85 485.83 L106.21 485.42 L105.57 485.01 L104.91 484.61 L104.23 484.22 L103.53 483.84 L102.81 483.48 L102.05 483.13 L101.26 482.8 L100.45 482.5 L99.61 482.21 L98.73 481.94 L97.79 481.69 L96.82 481.47 L95.86 481.28 L94.9 481.11 L93.93 480.96 L92.97 480.84 L92.02 480.72 L91.07 480.62 L90.14 480.54 L89.23 480.46 L88.34 480.38 L87.47 480.32 L86.61 480.25 L85.73 480.19 L84.83 480.13 L83.91 480.08 L82.98 480.04 L82.03 480.01 L81.08 479.99 L80.11 479.99 L79.13 480.02 L78.15 480.06 L77.16 480.14 L76.2 480.25 L75.28 480.38 L74.4 480.53 L73.51 480.7 L72.62 480.89 L71.74 481.12 L70.85 481.37 L69.96 481.65 L69.08 481.96 L68.2 482.32 L67.33 482.73 L66.46 483.18 L65.59 483.7 L64.74 484.29 L63.93 484.93 L63.2 485.6 L62.52 486.28 L61.9 486.97 L61.33 487.67 L60.81 488.37 L60.34 489.07 L59.9 489.76 L59.51 490.45 L59.15 491.12 L58.8 491.81 L58.47 492.56 L58.16 493.36 L57.91 494.15 L57.69 494.94 L57.52 495.72 L57.39 496.48 L57.3 497.24 L57.23 497.97 L57.2 498.69 L57.18 499.39 L57.19 500.07 L57.2 500.73 L57.23 501.38 L57.27 502.06 L57.33 502.79 L57.41 503.55 L57.51 504.35 L57.64 505.17 L57.81 506.03 L58.03 506.91 L58.3 507.82 L58.63 508.76 L59.05 509.71 L59.54 510.65 L60.08 511.51 L60.64 512.29 L61.24 513.03 L61.86 513.73 L62.5 514.39 L63.17 515.02 L63.86 515.61 L64.57 516.17 L65.29 516.69 L66.04 517.19 L66.8 517.65 L67.59 518.09 L68.43 518.5 L69.28 518.86 L70.13 519.18 L70.98 519.45 L71.82 519.69 L72.66 519.89 L73.49 520.06 L74.31 520.21 L75.12 520.33 L75.92 520.43 L76.72 520.51 L77.53 520.58 L78.4 520.64 L79.3 520.67 L80.2 520.67 L81.1 520.66 L81.99 520.62 L82.87 520.57 L83.75 520.51 L84.62 520.43 L85.47 520.35 L86.31 520.25 L87.12 520.15 L87.96 520.03 L88.85 519.88 L89.78 519.7 L90.68 519.5 L91.56 519.28 L92.41 519.06 L93.23 518.84 L93.99 518.63 L94.7 518.43 L95.33 518.25 L95.86 518.09 L96.28 517.98 L96.61 517.89 L93.39 505.71 L92.95 505.82 L92.42 505.98 L91.84 506.14 L91.23 506.32 L90.58 506.5 L89.9 506.69 L89.21 506.88 L88.51 507.06 L87.84 507.22 L87.19 507.36 L86.6 507.48 L86.04 507.57 L85.44 507.66 L84.78 507.74 L84.1 507.82 L83.42 507.89 L82.74 507.95 L82.07 508 L81.4 508.04 L80.76 508.06 L80.13 508.07 L79.55 508.07 L79 508.05 L78.47 508.02 L77.91 507.97 L77.36 507.91 L76.83 507.84 L76.32 507.77 L75.85 507.69 L75.41 507.6 L74.99 507.5 L74.62 507.39 L74.27 507.28 L73.96 507.16 L73.67 507.04 L73.41 506.91 L73.12 506.75 L72.8 506.56 L72.49 506.35 L72.17 506.12 L71.87 505.88 L71.58 505.63 L71.31 505.38 L71.07 505.14 L70.86 504.9 L70.68 504.68 L70.54 504.49 L70.46 504.35 L70.41 504.26 L70.35 504.12 L70.27 503.91 L70.2 503.64 L70.12 503.32 L70.05 502.95 L69.98 502.55 L69.93 502.12 L69.88 501.66 L69.84 501.2 L69.82 500.73 L69.8 500.27 L69.78 499.85 L69.78 499.48 L69.79 499.14 L69.8 498.84 L69.83 498.57 L69.86 498.33 L69.89 498.11 L69.94 497.92 L69.98 497.74 L70.04 497.56 L70.11 497.39 L70.2 497.19 L70.34 496.91 L70.51 496.59 L70.69 496.27 L70.88 495.97 L71.09 495.67 L71.29 495.39 L71.5 495.14 L71.7 494.91 L71.9 494.71 L72.08 494.54 L72.25 494.41 L72.41 494.3 L72.62 494.17 L72.89 494.03 L73.21 493.88 L73.59 493.73 L74.01 493.58 L74.46 493.43 L74.96 493.3 L75.49 493.16 L76.04 493.04 L76.62 492.93 L77.22 492.83 L77.8 492.75 L78.37 492.68 L78.95 492.64 L79.58 492.61 L80.26 492.59 L80.97 492.59 L81.72 492.6 L82.48 492.63 L83.27 492.67 L84.07 492.71 L84.89 492.76 L85.71 492.82 L86.53 492.88 L87.35 492.95 L88.17 493.01 L89 493.08 L89.82 493.16 L90.62 493.25 L91.4 493.34 L92.16 493.44 L92.88 493.55 L93.56 493.67 L94.19 493.79 L94.76 493.92 L95.27 494.06 L95.76 494.21 L96.2 494.36 L96.61 494.51 L96.99 494.67 L97.35 494.84 L97.72 495.02 L98.09 495.22 L98.5 495.46 L98.93 495.72 L99.41 496.02 L99.93 496.36 L100.46 496.71 L100.98 497.07 L101.56 497.5 L102.21 498.01 L102.92 498.58 L103.65 499.18 L104.38 499.79 L105.1 500.4 L105.79 500.99 L106.44 501.54 L107.03 502.05 L107.55 502.5 L107.98 502.85Z" fill="#fff"/>
<path d="M112 498 L111.61 497.68 L111.12 497.26 L110.54 496.76 L109.89 496.2 L109.18 495.6 L108.44 494.97 L107.67 494.32 L106.89 493.69 L106.12 493.07 L105.37 492.48 L104.66 491.96 L104 491.5 L103.39 491.1 L102.81 490.72 L102.25 490.36 L101.7 490.03 L101.16 489.72 L100.62 489.43 L100.08 489.16 L99.52 488.9 L98.94 488.66 L98.33 488.43 L97.69 488.21 L97 488 L96.27 487.81 L95.51 487.63 L94.71 487.47 L93.89 487.33 L93.05 487.2 L92.19 487.09 L91.32 486.98 L90.44 486.89 L89.57 486.81 L88.7 486.73 L87.84 486.66 L87 486.6 L86.16 486.54 L85.31 486.48 L84.45 486.42 L83.59 486.37 L82.73 486.33 L81.88 486.31 L81.02 486.29 L80.19 486.29 L79.36 486.31 L78.55 486.35 L77.76 486.41 L77 486.5 L76.25 486.61 L75.51 486.73 L74.78 486.87 L74.06 487.03 L73.35 487.21 L72.66 487.4 L71.98 487.61 L71.33 487.85 L70.71 488.1 L70.11 488.38 L69.54 488.68 L69 489 L68.49 489.35 L68.01 489.74 L67.55 490.15 L67.11 490.59 L66.7 491.05 L66.31 491.53 L65.95 492.02 L65.61 492.52 L65.3 493.02 L65.01 493.52 L64.74 494.01 L64.5 494.5 L64.29 494.98 L64.1 495.46 L63.95 495.94 L63.81 496.43 L63.71 496.91 L63.62 497.41 L63.56 497.9 L63.52 498.41 L63.49 498.92 L63.48 499.44 L63.48 499.96 L63.5 500.5 L63.52 501.05 L63.56 501.63 L63.61 502.23 L63.67 502.83 L63.75 503.45 L63.84 504.06 L63.96 504.67 L64.11 505.28 L64.29 505.87 L64.49 506.44 L64.73 506.98 L65 507.5 L65.31 508 L65.66 508.49 L66.05 508.97 L66.46 509.43 L66.91 509.89 L67.38 510.32 L67.86 510.74 L68.37 511.14 L68.89 511.52 L69.42 511.88 L69.96 512.2 L70.5 512.5 L71.05 512.77 L71.62 513.01 L72.2 513.23 L72.8 513.42 L73.41 513.59 L74.03 513.74 L74.67 513.88 L75.31 513.99 L75.97 514.09 L76.64 514.17 L77.32 514.24 L78 514.3 L78.7 514.34 L79.42 514.37 L80.17 514.37 L80.93 514.36 L81.69 514.33 L82.47 514.29 L83.24 514.23 L84.02 514.16 L84.79 514.08 L85.54 514 L86.28 513.9 L87 513.8 L87.73 513.68 L88.48 513.53 L89.26 513.36 L90.04 513.17 L90.81 512.97 L91.56 512.77 L92.28 512.57 L92.96 512.37 L93.59 512.19 L94.14 512.03 L94.62 511.9 L95 511.8 L95 511.8" fill="none" stroke="#2e2e2e" stroke-width="6.5" stroke-linecap="butt" stroke-linejoin="round"/>
<path d="M112.99 496.81 L112.61 496.49 L112.12 496.08 L111.55 495.59 L110.9 495.03 L110.19 494.42 L109.44 493.78 L108.66 493.13 L107.87 492.48 L107.08 491.85 L106.31 491.25 L105.56 490.7 L104.87 490.22 L104.24 489.8 L103.65 489.41 L103.07 489.05 L102.49 488.7 L101.92 488.37 L101.34 488.06 L100.75 487.76 L100.14 487.48 L99.51 487.22 L98.85 486.97 L98.16 486.73 L97.42 486.51 L96.64 486.3 L95.83 486.11 L94.99 485.95 L94.14 485.8 L93.26 485.67 L92.38 485.55 L91.49 485.44 L90.6 485.35 L89.71 485.27 L88.83 485.19 L87.96 485.12 L87.12 485.05 L86.27 484.99 L85.41 484.93 L84.55 484.88 L83.67 484.83 L82.79 484.79 L81.91 484.76 L81.04 484.74 L80.17 484.74 L79.3 484.76 L78.45 484.8 L77.62 484.87 L76.8 484.96 L76.01 485.08 L75.24 485.21 L74.47 485.35 L73.7 485.52 L72.95 485.71 L72.21 485.92 L71.49 486.15 L70.78 486.4 L70.09 486.68 L69.42 486.99 L68.78 487.33 L68.16 487.7 L67.57 488.11 L67 488.55 L66.48 489.03 L65.98 489.53 L65.52 490.05 L65.09 490.58 L64.69 491.12 L64.31 491.67 L63.97 492.22 L63.65 492.76 L63.36 493.3 L63.1 493.84 L62.85 494.39 L62.64 494.94 L62.46 495.5 L62.31 496.06 L62.19 496.62 L62.09 497.18 L62.02 497.74 L61.97 498.3 L61.94 498.86 L61.93 499.43 L61.93 499.99 L61.95 500.56 L61.98 501.14 L62.01 501.74 L62.06 502.36 L62.13 503.01 L62.21 503.67 L62.32 504.34 L62.45 505.01 L62.61 505.68 L62.81 506.35 L63.05 507.01 L63.33 507.65 L63.66 508.27 L64.03 508.86 L64.43 509.42 L64.86 509.97 L65.33 510.49 L65.82 511 L66.34 511.48 L66.88 511.94 L67.43 512.38 L68.01 512.79 L68.59 513.18 L69.18 513.54 L69.78 513.88 L70.4 514.18 L71.04 514.45 L71.69 514.69 L72.35 514.91 L73.02 515.09 L73.69 515.26 L74.38 515.4 L75.07 515.52 L75.76 515.62 L76.46 515.71 L77.17 515.78 L77.89 515.85 L78.63 515.89 L79.39 515.92 L80.18 515.92 L80.97 515.91 L81.77 515.88 L82.57 515.83 L83.37 515.78 L84.17 515.71 L84.95 515.63 L85.73 515.54 L86.49 515.44 L87.24 515.33 L88 515.2 L88.8 515.05 L89.61 514.87 L90.41 514.67 L91.2 514.47 L91.97 514.26 L92.7 514.06 L93.39 513.86 L94.01 513.68 L94.57 513.53 L95.03 513.4 L95.4 513.3 L95 513.35" fill="none" stroke="#8a8a8a" stroke-width="1.35" stroke-linecap="round" stroke-dasharray="0 2.75" stroke-linejoin="round"/>
<path d="M111.01 499.19 L110.61 498.86 L110.11 498.44 L109.53 497.94 L108.88 497.38 L108.18 496.78 L107.44 496.15 L106.68 495.52 L105.91 494.89 L105.16 494.28 L104.43 493.72 L103.75 493.22 L103.13 492.78 L102.54 492.39 L101.97 492.02 L101.43 491.68 L100.91 491.37 L100.41 491.08 L99.91 490.81 L99.41 490.55 L98.9 490.32 L98.36 490.1 L97.81 489.89 L97.21 489.68 L96.58 489.49 L95.9 489.31 L95.18 489.15 L94.43 489 L93.64 488.86 L92.83 488.74 L91.99 488.63 L91.15 488.53 L90.29 488.43 L89.43 488.35 L88.57 488.28 L87.72 488.21 L86.88 488.15 L86.05 488.08 L85.21 488.02 L84.36 487.97 L83.51 487.92 L82.67 487.88 L81.84 487.86 L81.01 487.84 L80.2 487.84 L79.41 487.86 L78.65 487.9 L77.91 487.96 L77.2 488.04 L76.49 488.14 L75.78 488.26 L75.09 488.39 L74.41 488.54 L73.74 488.7 L73.1 488.88 L72.48 489.08 L71.89 489.3 L71.32 489.53 L70.79 489.77 L70.3 490.03 L69.84 490.3 L69.42 490.6 L69.01 490.92 L68.62 491.27 L68.24 491.65 L67.88 492.06 L67.54 492.48 L67.21 492.92 L66.91 493.37 L66.62 493.82 L66.36 494.28 L66.12 494.73 L65.9 495.16 L65.72 495.57 L65.56 495.98 L65.43 496.38 L65.32 496.79 L65.23 497.21 L65.16 497.63 L65.1 498.07 L65.06 498.51 L65.04 498.97 L65.03 499.45 L65.03 499.94 L65.05 500.44 L65.07 500.97 L65.11 501.53 L65.15 502.09 L65.21 502.66 L65.28 503.23 L65.37 503.79 L65.48 504.34 L65.61 504.88 L65.76 505.39 L65.93 505.87 L66.12 506.31 L66.34 506.73 L66.6 507.13 L66.9 507.55 L67.23 507.96 L67.6 508.38 L67.99 508.78 L68.41 509.17 L68.85 509.55 L69.31 509.91 L69.78 510.25 L70.25 510.57 L70.74 510.86 L71.22 511.12 L71.7 511.36 L72.19 511.57 L72.71 511.77 L73.24 511.94 L73.8 512.09 L74.37 512.23 L74.96 512.35 L75.56 512.46 L76.18 512.55 L76.82 512.63 L77.46 512.7 L78.11 512.75 L78.77 512.8 L79.45 512.82 L80.16 512.82 L80.88 512.81 L81.62 512.78 L82.37 512.74 L83.12 512.69 L83.87 512.62 L84.62 512.54 L85.35 512.46 L86.07 512.37 L86.76 512.27 L87.45 512.15 L88.17 512.01 L88.91 511.85 L89.66 511.67 L90.41 511.47 L91.15 511.27 L91.86 511.08 L92.54 510.88 L93.16 510.71 L93.72 510.54 L94.21 510.41 L94.6 510.3 L95 510.25" fill="none" stroke="#8a8a8a" stroke-width="1.35" stroke-linecap="round" stroke-dasharray="0 2.75" stroke-linejoin="round"/>
<path d="M101 520.17 L101.47 519.84 L102.03 519.43 L102.7 518.96 L103.46 518.42 L104.29 517.83 L105.18 517.19 L106.12 516.52 L107.09 515.82 L108.1 515.1 L109.11 514.37 L110.12 513.63 L111.12 512.89 L112.13 512.15 L113.17 511.38 L114.24 510.58 L115.34 509.76 L116.46 508.92 L117.59 508.07 L118.73 507.21 L119.87 506.35 L121 505.5 L122.11 504.65 L123.21 503.82 L124.28 503.01 L125.34 502.2 L126.39 501.39 L127.44 500.58 L128.49 499.78 L129.52 498.98 L130.54 498.19 L131.55 497.4 L132.55 496.63 L133.53 495.88 L134.48 495.13 L135.42 494.41 L136.34 493.7 L137.24 493.01 L138.11 492.34 L138.96 491.69 L139.8 491.04 L140.63 490.41 L141.45 489.79 L142.26 489.16 L143.07 488.54 L143.88 487.92 L144.7 487.29 L145.53 486.66 L146.36 486.01 L147.19 485.37 L148.03 484.72 L148.86 484.08 L149.7 483.43 L150.54 482.78 L151.38 482.13 L152.22 481.48 L153.07 480.82 L153.92 480.15 L154.77 479.49 L155.62 478.82 L156.45 478.15 L157.25 477.53 L158.03 476.91 L158.83 476.3 L159.64 475.67 L160.47 475.03 L161.32 474.36 L162.2 473.67 L163.1 472.95 L164.04 472.2 L165 471.4 L165.98 470.56 L167.02 469.66 L168.11 468.69 L169.21 467.66 L170.3 466.62 L171.39 465.57 L172.47 464.52 L173.53 463.48 L174.58 462.46 L175.59 461.48 L176.56 460.56 L177.48 459.7 L178.34 458.93 L179.15 458.23 L179.97 457.53 L180.8 456.84 L181.59 456.18 L182.36 455.57 L183.09 454.99 L183.79 454.45 L184.47 453.95 L185.13 453.47 L185.78 453.02 L186.41 452.59 L187.04 452.19 L187.67 451.8 L188.31 451.43 L188.94 451.07 L189.57 450.73 L190.2 450.41 L190.82 450.11 L191.45 449.83 L192.07 449.57 L192.7 449.33 L193.32 449.1 L193.95 448.89 L194.58 448.69 L195.19 448.51 L195.79 448.35 L196.37 448.22 L196.95 448.1 L197.54 447.99 L198.12 447.9 L198.71 447.82 L199.31 447.75 L199.9 447.7 L200.5 447.66 L201.11 447.64 L201.72 447.62 L202.36 447.62 L203.04 447.62 L203.72 447.63 L204.36 447.66 L204.97 447.69 L205.54 447.73 L206.08 447.79 L206.58 447.85 L207.05 447.93 L207.49 448.02 L207.9 448.12 L208.29 448.23 L208.69 448.35 L209.16 448.52 L209.68 448.72 L210.23 448.94 L210.79 449.19 L211.36 449.46 L211.93 449.74 L212.5 450.04 L213.06 450.35 L213.6 450.68 L214.11 451.01 L214.6 451.35 L215.04 451.67 L215.44 451.99 L215.84 452.34 L216.27 452.74 L216.72 453.18 L217.19 453.68 L217.68 454.21 L218.18 454.79 L218.69 455.4 L219.22 456.05 L219.76 456.72 L220.31 457.43 L220.85 458.13 L221.36 458.81 L221.85 459.47 L222.33 460.14 L222.8 460.82 L223.26 461.51 L223.71 462.21 L224.15 462.91 L224.58 463.61 L224.99 464.31 L225.39 465.02 L225.78 465.72 L226.13 466.4 L226.45 467.04 L226.76 467.7 L227.08 468.4 L227.39 469.15 L227.71 469.93 L228.05 470.74 L228.4 471.58 L228.78 472.43 L229.17 473.31 L229.58 474.2 L230.02 475.1 L230.45 475.98 L230.87 476.79 L231.28 477.58 L231.69 478.37 L232.1 479.16 L232.51 479.95 L232.91 480.72 L233.3 481.49 L233.68 482.25 L234.05 482.99 L234.39 483.7 L234.72 484.4 L235.02 485.05 L235.3 485.65 L235.56 486.25 L235.81 486.86 L236.05 487.48 L236.27 488.08 L236.48 488.67 L236.66 489.24 L236.83 489.78 L236.99 490.28 L237.12 490.76 L237.25 491.19 L237.35 491.56 L255.65 486.44 L255.57 486.15 L255.48 485.79 L255.36 485.34 L255.24 484.82 L255.11 484.23 L254.96 483.58 L254.81 482.89 L254.66 482.15 L254.49 481.39 L254.33 480.59 L254.15 479.77 L253.98 478.95 L253.81 478.15 L253.64 477.33 L253.46 476.48 L253.28 475.6 L253.09 474.7 L252.9 473.78 L252.7 472.83 L252.49 471.88 L252.27 470.91 L252.04 469.94 L251.79 468.96 L251.55 468.02 L251.32 467.13 L251.08 466.23 L250.81 465.29 L250.52 464.31 L250.19 463.3 L249.83 462.26 L249.42 461.2 L248.98 460.11 L248.5 459.01 L247.99 457.88 L247.44 456.73 L246.87 455.6 L246.29 454.53 L245.71 453.5 L245.11 452.48 L244.5 451.46 L243.87 450.47 L243.23 449.48 L242.57 448.51 L241.9 447.55 L241.23 446.6 L240.54 445.67 L239.84 444.75 L239.15 443.87 L238.47 443.03 L237.79 442.19 L237.08 441.33 L236.34 440.46 L235.57 439.57 L234.76 438.68 L233.91 437.77 L233.02 436.87 L232.08 435.96 L231.09 435.07 L230.04 434.18 L228.96 433.33 L227.87 432.54 L226.78 431.8 L225.69 431.1 L224.57 430.44 L223.45 429.81 L222.32 429.22 L221.17 428.67 L220.02 428.15 L218.86 427.67 L217.7 427.23 L216.52 426.82 L215.31 426.45 L214.05 426.1 L212.77 425.81 L211.51 425.58 L210.29 425.4 L209.09 425.27 L207.92 425.17 L206.79 425.12 L205.7 425.09 L204.64 425.09 L203.61 425.1 L202.62 425.14 L201.64 425.18 L200.61 425.25 L199.56 425.33 L198.5 425.44 L197.43 425.56 L196.36 425.72 L195.29 425.89 L194.21 426.09 L193.13 426.32 L192.05 426.57 L190.96 426.85 L189.88 427.16 L188.81 427.49 L187.76 427.84 L186.72 428.2 L185.68 428.59 L184.64 429.01 L183.59 429.44 L182.55 429.9 L181.51 430.39 L180.47 430.9 L179.43 431.43 L178.39 431.99 L177.36 432.58 L176.33 433.2 L175.3 433.85 L174.3 434.51 L173.32 435.19 L172.35 435.89 L171.4 436.61 L170.46 437.35 L169.53 438.1 L168.61 438.87 L167.69 439.65 L166.76 440.46 L165.83 441.29 L164.85 442.17 L163.79 443.17 L162.7 444.22 L161.62 445.3 L160.56 446.39 L159.5 447.49 L158.47 448.57 L157.45 449.64 L156.46 450.67 L155.51 451.65 L154.61 452.56 L153.77 453.39 L152.98 454.14 L152.21 454.84 L151.44 455.52 L150.68 456.17 L149.93 456.8 L149.18 457.42 L148.43 458.02 L147.66 458.63 L146.88 459.24 L146.08 459.86 L145.25 460.5 L144.4 461.17 L143.55 461.85 L142.71 462.51 L141.9 463.15 L141.08 463.79 L140.26 464.43 L139.44 465.08 L138.62 465.72 L137.79 466.36 L136.97 467 L136.14 467.65 L135.31 468.29 L134.47 468.94 L133.64 469.59 L132.82 470.22 L132.01 470.85 L131.21 471.47 L130.41 472.09 L129.61 472.7 L128.8 473.33 L127.99 473.95 L127.16 474.59 L126.32 475.24 L125.46 475.91 L124.57 476.59 L123.66 477.3 L122.72 478.03 L121.77 478.77 L120.8 479.53 L119.82 480.29 L118.83 481.07 L117.83 481.85 L116.82 482.64 L115.81 483.43 L114.79 484.22 L113.77 485.01 L112.75 485.8 L111.72 486.59 L110.68 487.39 L109.6 488.22 L108.5 489.05 L107.39 489.9 L106.28 490.75 L105.16 491.59 L104.05 492.43 L102.96 493.26 L101.88 494.06 L100.84 494.85 L99.84 495.6 L98.88 496.31 L97.94 497 L96.98 497.7 L96.01 498.4 L95.05 499.1 L94.11 499.78 L93.2 500.43 L92.32 501.06 L91.5 501.64 L90.75 502.18 L90.07 502.66 L89.48 503.08 L89 503.43Z" fill="#b2b2b2"/>
<circle cx="246.5" cy="489" r="9.5" fill="#b2b2b2"/>
<path d="M111.3 509.9 L112.97 512.15" stroke="#2b2b2b" stroke-width="1.3"/><path transform="translate(114.1 513.67) rotate(53.42)" d="M-2 0 L0.2 -2.6 C1.6 -3.4 2.6 -2.4 2.4 -1 C2.4 -0.5 2.2 0 2.2 0 C2.2 0 2.4 0.5 2.4 1 C2.6 2.4 1.6 3.4 0.2 2.6 Z" fill="#3a3a3a" stroke="#1e1e1e" stroke-width="0.6"/><path d="M118.96 504.16 L120.64 506.39" stroke="#2b2b2b" stroke-width="1.3"/><path transform="translate(121.79 507.91) rotate(52.91)" d="M-2 0 L0.2 -2.6 C1.6 -3.4 2.6 -2.4 2.4 -1 C2.4 -0.5 2.2 0 2.2 0 C2.2 0 2.4 0.5 2.4 1 C2.6 2.4 1.6 3.4 0.2 2.6 Z" fill="#3a3a3a" stroke="#1e1e1e" stroke-width="0.6"/><path d="M126.56 498.36 L128.27 500.57" stroke="#2b2b2b" stroke-width="1.3"/><path transform="translate(129.44 502.08) rotate(52.35)" d="M-2 0 L0.2 -2.6 C1.6 -3.4 2.6 -2.4 2.4 -1 C2.4 -0.5 2.2 0 2.2 0 C2.2 0 2.4 0.5 2.4 1 C2.6 2.4 1.6 3.4 0.2 2.6 Z" fill="#3a3a3a" stroke="#1e1e1e" stroke-width="0.6"/><path d="M134.13 492.5 L135.84 494.72" stroke="#2b2b2b" stroke-width="1.3"/><path transform="translate(137 496.23) rotate(52.37)" d="M-2 0 L0.2 -2.6 C1.6 -3.4 2.6 -2.4 2.4 -1 C2.4 -0.5 2.2 0 2.2 0 C2.2 0 2.4 0.5 2.4 1 C2.6 2.4 1.6 3.4 0.2 2.6 Z" fill="#3a3a3a" stroke="#1e1e1e" stroke-width="0.6"/><path d="M141.71 486.68 L143.42 488.91" stroke="#2b2b2b" stroke-width="1.3"/><path transform="translate(144.57 490.41) rotate(52.52)" d="M-2 0 L0.2 -2.6 C1.6 -3.4 2.6 -2.4 2.4 -1 C2.4 -0.5 2.2 0 2.2 0 C2.2 0 2.4 0.5 2.4 1 C2.6 2.4 1.6 3.4 0.2 2.6 Z" fill="#3a3a3a" stroke="#1e1e1e" stroke-width="0.6"/><path d="M149.29 480.84 L151 483.06" stroke="#2b2b2b" stroke-width="1.3"/><path transform="translate(152.17 484.56) rotate(52.22)" d="M-2 0 L0.2 -2.6 C1.6 -3.4 2.6 -2.4 2.4 -1 C2.4 -0.5 2.2 0 2.2 0 C2.2 0 2.4 0.5 2.4 1 C2.6 2.4 1.6 3.4 0.2 2.6 Z" fill="#3a3a3a" stroke="#1e1e1e" stroke-width="0.6"/><path d="M156.82 474.95 L158.54 477.16" stroke="#2b2b2b" stroke-width="1.3"/><path transform="translate(159.7 478.66) rotate(52.18)" d="M-2 0 L0.2 -2.6 C1.6 -3.4 2.6 -2.4 2.4 -1 C2.4 -0.5 2.2 0 2.2 0 C2.2 0 2.4 0.5 2.4 1 C2.6 2.4 1.6 3.4 0.2 2.6 Z" fill="#3a3a3a" stroke="#1e1e1e" stroke-width="0.6"/><path d="M164.31 468.97 L166.12 471.1" stroke="#2b2b2b" stroke-width="1.3"/><path transform="translate(167.35 472.55) rotate(49.73)" d="M-2 0 L0.2 -2.6 C1.6 -3.4 2.6 -2.4 2.4 -1 C2.4 -0.5 2.2 0 2.2 0 C2.2 0 2.4 0.5 2.4 1 C2.6 2.4 1.6 3.4 0.2 2.6 Z" fill="#3a3a3a" stroke="#1e1e1e" stroke-width="0.6"/><path d="M171.33 462.41 L173.29 464.42" stroke="#2b2b2b" stroke-width="1.3"/><path transform="translate(174.62 465.77) rotate(45.67)" d="M-2 0 L0.2 -2.6 C1.6 -3.4 2.6 -2.4 2.4 -1 C2.4 -0.5 2.2 0 2.2 0 C2.2 0 2.4 0.5 2.4 1 C2.6 2.4 1.6 3.4 0.2 2.6 Z" fill="#3a3a3a" stroke="#1e1e1e" stroke-width="0.6"/><path d="M178.3 455.93 L180.11 458.07" stroke="#2b2b2b" stroke-width="1.3"/><path transform="translate(181.33 459.52) rotate(49.79)" d="M-2 0 L0.2 -2.6 C1.6 -3.4 2.6 -2.4 2.4 -1 C2.4 -0.5 2.2 0 2.2 0 C2.2 0 2.4 0.5 2.4 1 C2.6 2.4 1.6 3.4 0.2 2.6 Z" fill="#3a3a3a" stroke="#1e1e1e" stroke-width="0.6"/><path d="M185.85 450.22 L187.32 452.61" stroke="#2b2b2b" stroke-width="1.3"/><path transform="translate(188.32 454.22) rotate(58.34)" d="M-2 0 L0.2 -2.6 C1.6 -3.4 2.6 -2.4 2.4 -1 C2.4 -0.5 2.2 0 2.2 0 C2.2 0 2.4 0.5 2.4 1 C2.6 2.4 1.6 3.4 0.2 2.6 Z" fill="#3a3a3a" stroke="#1e1e1e" stroke-width="0.6"/><path d="M194.38 446.35 L195.17 449.04" stroke="#2b2b2b" stroke-width="1.3"/><path transform="translate(195.7 450.86) rotate(73.72)" d="M-2 0 L0.2 -2.6 C1.6 -3.4 2.6 -2.4 2.4 -1 C2.4 -0.5 2.2 0 2.2 0 C2.2 0 2.4 0.5 2.4 1 C2.6 2.4 1.6 3.4 0.2 2.6 Z" fill="#3a3a3a" stroke="#1e1e1e" stroke-width="0.6"/><path d="M203.67 445.33 L203.63 448.13" stroke="#2b2b2b" stroke-width="1.3"/><path transform="translate(203.59 450.03) rotate(90.94)" d="M-2 0 L0.2 -2.6 C1.6 -3.4 2.6 -2.4 2.4 -1 C2.4 -0.5 2.2 0 2.2 0 C2.2 0 2.4 0.5 2.4 1 C2.6 2.4 1.6 3.4 0.2 2.6 Z" fill="#3a3a3a" stroke="#1e1e1e" stroke-width="0.6"/><path d="M212.61 447.51 L211.37 450.02" stroke="#2b2b2b" stroke-width="1.3"/><path transform="translate(210.52 451.72) rotate(116.39)" d="M-2 0 L0.2 -2.6 C1.6 -3.4 2.6 -2.4 2.4 -1 C2.4 -0.5 2.2 0 2.2 0 C2.2 0 2.4 0.5 2.4 1 C2.6 2.4 1.6 3.4 0.2 2.6 Z" fill="#3a3a3a" stroke="#1e1e1e" stroke-width="0.6"/><path d="M219.88 453.24 L217.77 455.08" stroke="#2b2b2b" stroke-width="1.3"/><path transform="translate(216.34 456.33) rotate(138.87)" d="M-2 0 L0.2 -2.6 C1.6 -3.4 2.6 -2.4 2.4 -1 C2.4 -0.5 2.2 0 2.2 0 C2.2 0 2.4 0.5 2.4 1 C2.6 2.4 1.6 3.4 0.2 2.6 Z" fill="#3a3a3a" stroke="#1e1e1e" stroke-width="0.6"/><path d="M225.55 460.82 L223.2 462.35" stroke="#2b2b2b" stroke-width="1.3"/><path transform="translate(221.61 463.38) rotate(147)" d="M-2 0 L0.2 -2.6 C1.6 -3.4 2.6 -2.4 2.4 -1 C2.4 -0.5 2.2 0 2.2 0 C2.2 0 2.4 0.5 2.4 1 C2.6 2.4 1.6 3.4 0.2 2.6 Z" fill="#3a3a3a" stroke="#1e1e1e" stroke-width="0.6"/><path d="M229.9 469.2 L227.31 470.26" stroke="#2b2b2b" stroke-width="1.3"/><path transform="translate(225.55 470.98) rotate(157.63)" d="M-2 0 L0.2 -2.6 C1.6 -3.4 2.6 -2.4 2.4 -1 C2.4 -0.5 2.2 0 2.2 0 C2.2 0 2.4 0.5 2.4 1 C2.6 2.4 1.6 3.4 0.2 2.6 Z" fill="#3a3a3a" stroke="#1e1e1e" stroke-width="0.6"/><path d="M234 477.89 L231.52 479.18" stroke="#2b2b2b" stroke-width="1.3"/><path transform="translate(229.83 480.05) rotate(152.58)" d="M-2 0 L0.2 -2.6 C1.6 -3.4 2.6 -2.4 2.4 -1 C2.4 -0.5 2.2 0 2.2 0 C2.2 0 2.4 0.5 2.4 1 C2.6 2.4 1.6 3.4 0.2 2.6 Z" fill="#3a3a3a" stroke="#1e1e1e" stroke-width="0.6"/><path d="M238.1 486.45 L235.49 487.46" stroke="#2b2b2b" stroke-width="1.3"/><path transform="translate(233.72 488.14) rotate(158.91)" d="M-2 0 L0.2 -2.6 C1.6 -3.4 2.6 -2.4 2.4 -1 C2.4 -0.5 2.2 0 2.2 0 C2.2 0 2.4 0.5 2.4 1 C2.6 2.4 1.6 3.4 0.2 2.6 Z" fill="#3a3a3a" stroke="#1e1e1e" stroke-width="0.6"/><path d="M102.14 496.75 L100.46 494.5" stroke="#2b2b2b" stroke-width="1.3"/><path transform="translate(99.33 492.98) rotate(-126.73)" d="M-2 0 L0.2 -2.6 C1.6 -3.4 2.6 -2.4 2.4 -1 C2.4 -0.5 2.2 0 2.2 0 C2.2 0 2.4 0.5 2.4 1 C2.6 2.4 1.6 3.4 0.2 2.6 Z" fill="#3a3a3a" stroke="#1e1e1e" stroke-width="0.6"/><path d="M109.89 490.89 L108.19 488.66" stroke="#2b2b2b" stroke-width="1.3"/><path transform="translate(107.04 487.15) rotate(-127.3)" d="M-2 0 L0.2 -2.6 C1.6 -3.4 2.6 -2.4 2.4 -1 C2.4 -0.5 2.2 0 2.2 0 C2.2 0 2.4 0.5 2.4 1 C2.6 2.4 1.6 3.4 0.2 2.6 Z" fill="#3a3a3a" stroke="#1e1e1e" stroke-width="0.6"/><path d="M117.58 484.96 L115.86 482.75" stroke="#2b2b2b" stroke-width="1.3"/><path transform="translate(114.69 481.25) rotate(-127.95)" d="M-2 0 L0.2 -2.6 C1.6 -3.4 2.6 -2.4 2.4 -1 C2.4 -0.5 2.2 0 2.2 0 C2.2 0 2.4 0.5 2.4 1 C2.6 2.4 1.6 3.4 0.2 2.6 Z" fill="#3a3a3a" stroke="#1e1e1e" stroke-width="0.6"/><path d="M125.25 478.98 L123.53 476.76" stroke="#2b2b2b" stroke-width="1.3"/><path transform="translate(122.37 475.26) rotate(-127.78)" d="M-2 0 L0.2 -2.6 C1.6 -3.4 2.6 -2.4 2.4 -1 C2.4 -0.5 2.2 0 2.2 0 C2.2 0 2.4 0.5 2.4 1 C2.6 2.4 1.6 3.4 0.2 2.6 Z" fill="#3a3a3a" stroke="#1e1e1e" stroke-width="0.6"/><path d="M132.95 473.04 L131.23 470.82" stroke="#2b2b2b" stroke-width="1.3"/><path transform="translate(130.07 469.32) rotate(-127.71)" d="M-2 0 L0.2 -2.6 C1.6 -3.4 2.6 -2.4 2.4 -1 C2.4 -0.5 2.2 0 2.2 0 C2.2 0 2.4 0.5 2.4 1 C2.6 2.4 1.6 3.4 0.2 2.6 Z" fill="#3a3a3a" stroke="#1e1e1e" stroke-width="0.6"/><path d="M140.62 467.07 L138.9 464.87" stroke="#2b2b2b" stroke-width="1.3"/><path transform="translate(137.73 463.37) rotate(-127.95)" d="M-2 0 L0.2 -2.6 C1.6 -3.4 2.6 -2.4 2.4 -1 C2.4 -0.5 2.2 0 2.2 0 C2.2 0 2.4 0.5 2.4 1 C2.6 2.4 1.6 3.4 0.2 2.6 Z" fill="#3a3a3a" stroke="#1e1e1e" stroke-width="0.6"/><path d="M148.27 461.07 L146.56 458.86" stroke="#2b2b2b" stroke-width="1.3"/><path transform="translate(145.39 457.36) rotate(-127.8)" d="M-2 0 L0.2 -2.6 C1.6 -3.4 2.6 -2.4 2.4 -1 C2.4 -0.5 2.2 0 2.2 0 C2.2 0 2.4 0.5 2.4 1 C2.6 2.4 1.6 3.4 0.2 2.6 Z" fill="#3a3a3a" stroke="#1e1e1e" stroke-width="0.6"/><path d="M155.61 454.81 L153.64 452.81" stroke="#2b2b2b" stroke-width="1.3"/><path transform="translate(152.31 451.46) rotate(-134.55)" d="M-2 0 L0.2 -2.6 C1.6 -3.4 2.6 -2.4 2.4 -1 C2.4 -0.5 2.2 0 2.2 0 C2.2 0 2.4 0.5 2.4 1 C2.6 2.4 1.6 3.4 0.2 2.6 Z" fill="#3a3a3a" stroke="#1e1e1e" stroke-width="0.6"/><path d="M162.36 447.83 L160.36 445.88" stroke="#2b2b2b" stroke-width="1.3"/><path transform="translate(159 444.55) rotate(-135.68)" d="M-2 0 L0.2 -2.6 C1.6 -3.4 2.6 -2.4 2.4 -1 C2.4 -0.5 2.2 0 2.2 0 C2.2 0 2.4 0.5 2.4 1 C2.6 2.4 1.6 3.4 0.2 2.6 Z" fill="#3a3a3a" stroke="#1e1e1e" stroke-width="0.6"/><path d="M169.48 441.14 L167.66 439.02" stroke="#2b2b2b" stroke-width="1.3"/><path transform="translate(166.43 437.57) rotate(-130.54)" d="M-2 0 L0.2 -2.6 C1.6 -3.4 2.6 -2.4 2.4 -1 C2.4 -0.5 2.2 0 2.2 0 C2.2 0 2.4 0.5 2.4 1 C2.6 2.4 1.6 3.4 0.2 2.6 Z" fill="#3a3a3a" stroke="#1e1e1e" stroke-width="0.6"/><path d="M177.34 435.28 L175.84 432.91" stroke="#2b2b2b" stroke-width="1.3"/><path transform="translate(174.83 431.31) rotate(-122.25)" d="M-2 0 L0.2 -2.6 C1.6 -3.4 2.6 -2.4 2.4 -1 C2.4 -0.5 2.2 0 2.2 0 C2.2 0 2.4 0.5 2.4 1 C2.6 2.4 1.6 3.4 0.2 2.6 Z" fill="#3a3a3a" stroke="#1e1e1e" stroke-width="0.6"/><path d="M186.12 430.89 L185.09 428.29" stroke="#2b2b2b" stroke-width="1.3"/><path transform="translate(184.38 426.52) rotate(-111.67)" d="M-2 0 L0.2 -2.6 C1.6 -3.4 2.6 -2.4 2.4 -1 C2.4 -0.5 2.2 0 2.2 0 C2.2 0 2.4 0.5 2.4 1 C2.6 2.4 1.6 3.4 0.2 2.6 Z" fill="#3a3a3a" stroke="#1e1e1e" stroke-width="0.6"/><path d="M195.56 428.18 L195.04 425.43" stroke="#2b2b2b" stroke-width="1.3"/><path transform="translate(194.69 423.56) rotate(-100.65)" d="M-2 0 L0.2 -2.6 C1.6 -3.4 2.6 -2.4 2.4 -1 C2.4 -0.5 2.2 0 2.2 0 C2.2 0 2.4 0.5 2.4 1 C2.6 2.4 1.6 3.4 0.2 2.6 Z" fill="#3a3a3a" stroke="#1e1e1e" stroke-width="0.6"/><path d="M205.35 427.39 L205.35 424.59" stroke="#2b2b2b" stroke-width="1.3"/><path transform="translate(205.35 422.69) rotate(-89.93)" d="M-2 0 L0.2 -2.6 C1.6 -3.4 2.6 -2.4 2.4 -1 C2.4 -0.5 2.2 0 2.2 0 C2.2 0 2.4 0.5 2.4 1 C2.6 2.4 1.6 3.4 0.2 2.6 Z" fill="#3a3a3a" stroke="#1e1e1e" stroke-width="0.6"/><path d="M215.11 428.79 L215.94 426.12" stroke="#2b2b2b" stroke-width="1.3"/><path transform="translate(216.5 424.3) rotate(-72.8)" d="M-2 0 L0.2 -2.6 C1.6 -3.4 2.6 -2.4 2.4 -1 C2.4 -0.5 2.2 0 2.2 0 C2.2 0 2.4 0.5 2.4 1 C2.6 2.4 1.6 3.4 0.2 2.6 Z" fill="#3a3a3a" stroke="#1e1e1e" stroke-width="0.6"/><path d="M224.09 432.83 L225.52 430.42" stroke="#2b2b2b" stroke-width="1.3"/><path transform="translate(226.49 428.79) rotate(-59.19)" d="M-2 0 L0.2 -2.6 C1.6 -3.4 2.6 -2.4 2.4 -1 C2.4 -0.5 2.2 0 2.2 0 C2.2 0 2.4 0.5 2.4 1 C2.6 2.4 1.6 3.4 0.2 2.6 Z" fill="#3a3a3a" stroke="#1e1e1e" stroke-width="0.6"/><path d="M231.82 438.92 L233.81 436.96" stroke="#2b2b2b" stroke-width="1.3"/><path transform="translate(235.17 435.62) rotate(-44.59)" d="M-2 0 L0.2 -2.6 C1.6 -3.4 2.6 -2.4 2.4 -1 C2.4 -0.5 2.2 0 2.2 0 C2.2 0 2.4 0.5 2.4 1 C2.6 2.4 1.6 3.4 0.2 2.6 Z" fill="#3a3a3a" stroke="#1e1e1e" stroke-width="0.6"/><path d="M238.18 446.37 L240.41 444.67" stroke="#2b2b2b" stroke-width="1.3"/><path transform="translate(241.92 443.52) rotate(-37.32)" d="M-2 0 L0.2 -2.6 C1.6 -3.4 2.6 -2.4 2.4 -1 C2.4 -0.5 2.2 0 2.2 0 C2.2 0 2.4 0.5 2.4 1 C2.6 2.4 1.6 3.4 0.2 2.6 Z" fill="#3a3a3a" stroke="#1e1e1e" stroke-width="0.6"/><path d="M243.63 454.5 L246.05 453.08" stroke="#2b2b2b" stroke-width="1.3"/><path transform="translate(247.69 452.12) rotate(-30.33)" d="M-2 0 L0.2 -2.6 C1.6 -3.4 2.6 -2.4 2.4 -1 C2.4 -0.5 2.2 0 2.2 0 C2.2 0 2.4 0.5 2.4 1 C2.6 2.4 1.6 3.4 0.2 2.6 Z" fill="#3a3a3a" stroke="#1e1e1e" stroke-width="0.6"/><path d="M247.79 463.4 L250.43 462.47" stroke="#2b2b2b" stroke-width="1.3"/><path transform="translate(252.23 461.85) rotate(-19.27)" d="M-2 0 L0.2 -2.6 C1.6 -3.4 2.6 -2.4 2.4 -1 C2.4 -0.5 2.2 0 2.2 0 C2.2 0 2.4 0.5 2.4 1 C2.6 2.4 1.6 3.4 0.2 2.6 Z" fill="#3a3a3a" stroke="#1e1e1e" stroke-width="0.6"/><path d="M250.37 472.84 L253.1 472.24" stroke="#2b2b2b" stroke-width="1.3"/><path transform="translate(254.96 471.84) rotate(-12.31)" d="M-2 0 L0.2 -2.6 C1.6 -3.4 2.6 -2.4 2.4 -1 C2.4 -0.5 2.2 0 2.2 0 C2.2 0 2.4 0.5 2.4 1 C2.6 2.4 1.6 3.4 0.2 2.6 Z" fill="#3a3a3a" stroke="#1e1e1e" stroke-width="0.6"/><path d="M252.36 482.36 L255.1 481.79" stroke="#2b2b2b" stroke-width="1.3"/><path transform="translate(256.96 481.41) rotate(-11.76)" d="M-2 0 L0.2 -2.6 C1.6 -3.4 2.6 -2.4 2.4 -1 C2.4 -0.5 2.2 0 2.2 0 C2.2 0 2.4 0.5 2.4 1 C2.6 2.4 1.6 3.4 0.2 2.6 Z" fill="#3a3a3a" stroke="#1e1e1e" stroke-width="0.6"/><path d="M253.29 491.39 L255.93 492.32" stroke="#2b2b2b" stroke-width="1.3"/><path transform="translate(257.73 492.95) rotate(19.38)" d="M-2 0 L0.2 -2.6 C1.6 -3.4 2.6 -2.4 2.4 -1 C2.4 -0.5 2.2 0 2.2 0 C2.2 0 2.4 0.5 2.4 1 C2.6 2.4 1.6 3.4 0.2 2.6 Z" fill="#3a3a3a" stroke="#1e1e1e" stroke-width="0.6"/><path d="M248.44 495.93 L249.19 498.63" stroke="#2b2b2b" stroke-width="1.3"/><path transform="translate(249.7 500.46) rotate(74.38)" d="M-2 0 L0.2 -2.6 C1.6 -3.4 2.6 -2.4 2.4 -1 C2.4 -0.5 2.2 0 2.2 0 C2.2 0 2.4 0.5 2.4 1 C2.6 2.4 1.6 3.4 0.2 2.6 Z" fill="#3a3a3a" stroke="#1e1e1e" stroke-width="0.6"/><path d="M241.93 494.56 L240.15 496.73" stroke="#2b2b2b" stroke-width="1.3"/><path transform="translate(238.95 498.2) rotate(129.38)" d="M-2 0 L0.2 -2.6 C1.6 -3.4 2.6 -2.4 2.4 -1 C2.4 -0.5 2.2 0 2.2 0 C2.2 0 2.4 0.5 2.4 1 C2.6 2.4 1.6 3.4 0.2 2.6 Z" fill="#3a3a3a" stroke="#1e1e1e" stroke-width="0.6"/>
<path d="M99.89 518.63 L100.36 518.29 L100.93 517.89 L101.6 517.41 L102.36 516.87 L103.18 516.28 L104.07 515.65 L105.01 514.98 L105.98 514.28 L106.98 513.56 L107.99 512.83 L109 512.09 L109.99 511.36 L110.99 510.62 L112.03 509.85 L113.1 509.06 L114.2 508.24 L115.32 507.4 L116.45 506.55 L117.58 505.7 L118.72 504.84 L119.85 503.99 L120.96 503.14 L122.05 502.31 L123.12 501.5 L124.18 500.69 L125.23 499.89 L126.28 499.08 L127.32 498.28 L128.36 497.48 L129.38 496.69 L130.39 495.91 L131.38 495.13 L132.36 494.38 L133.32 493.63 L134.26 492.91 L135.18 492.2 L136.07 491.51 L136.95 490.84 L137.81 490.18 L138.64 489.54 L139.47 488.91 L140.29 488.28 L141.1 487.66 L141.91 487.04 L142.72 486.42 L143.54 485.79 L144.36 485.15 L145.2 484.51 L146.03 483.87 L146.86 483.22 L147.7 482.58 L148.54 481.93 L149.37 481.28 L150.21 480.63 L151.06 479.98 L151.9 479.32 L152.74 478.66 L153.59 477.99 L154.44 477.33 L155.27 476.66 L156.08 476.03 L156.87 475.42 L157.66 474.8 L158.47 474.17 L159.3 473.53 L160.14 472.87 L161.01 472.19 L161.9 471.48 L162.82 470.74 L163.76 469.96 L164.73 469.13 L165.75 468.25 L166.81 467.3 L167.89 466.3 L168.97 465.27 L170.05 464.23 L171.12 463.18 L172.18 462.14 L173.23 461.12 L174.25 460.14 L175.23 459.2 L176.17 458.32 L177.05 457.53 L177.88 456.81 L178.73 456.09 L179.56 455.39 L180.37 454.73 L181.15 454.1 L181.9 453.51 L182.62 452.96 L183.33 452.43 L184.01 451.93 L184.69 451.46 L185.36 451.01 L186.02 450.59 L186.69 450.18 L187.35 449.78 L188.02 449.41 L188.69 449.05 L189.35 448.71 L190.01 448.4 L190.67 448.1 L191.34 447.82 L192 447.56 L192.66 447.32 L193.32 447.09 L193.99 446.88 L194.64 446.69 L195.28 446.52 L195.9 446.38 L196.53 446.24 L197.16 446.13 L197.79 446.03 L198.42 445.94 L199.06 445.87 L199.69 445.81 L200.33 445.77 L200.98 445.74 L201.63 445.72 L202.3 445.72 L203.01 445.72 L203.71 445.73 L204.39 445.76 L205.03 445.79 L205.65 445.84 L206.23 445.89 L206.79 445.97 L207.32 446.05 L207.82 446.15 L208.3 446.26 L208.77 446.39 L209.24 446.54 L209.77 446.72 L210.35 446.94 L210.94 447.18 L211.56 447.45 L212.17 447.74 L212.79 448.04 L213.4 448.37 L214.01 448.71 L214.59 449.06 L215.16 449.42 L215.7 449.79 L216.19 450.16 L216.64 450.52 L217.1 450.91 L217.57 451.36 L218.06 451.84 L218.57 452.37 L219.08 452.93 L219.61 453.54 L220.14 454.17 L220.69 454.84 L221.24 455.53 L221.8 456.25 L222.35 456.96 L222.88 457.66 L223.38 458.34 L223.87 459.04 L224.36 459.74 L224.84 460.45 L225.3 461.17 L225.76 461.89 L226.2 462.62 L226.63 463.35 L227.04 464.08 L227.44 464.81 L227.82 465.52 L228.16 466.2 L228.49 466.9 L228.82 467.64 L229.15 468.41 L229.48 469.22 L229.82 470.05 L230.18 470.9 L230.56 471.77 L230.95 472.65 L231.37 473.54 L231.8 474.44 L232.23 475.31 L232.65 476.13 L233.06 476.92 L233.48 477.72 L233.89 478.52 L234.3 479.31 L234.71 480.1 L235.1 480.88 L235.48 481.64 L235.85 482.38 L236.2 483.11 L236.53 483.81 L236.83 484.47 L237.11 485.09 L237.38 485.7 L237.63 486.33 L237.87 486.95 L238.1 487.57 L238.31 488.17 L238.5 488.74 L238.67 489.28 L238.82 489.79 L238.96 490.26 L239.08 490.69 L239.18 491.05 L253.82 486.95 L253.74 486.65 L253.64 486.29 L253.53 485.83 L253.41 485.31 L253.27 484.72 L253.13 484.08 L252.98 483.4 L252.83 482.68 L252.67 481.92 L252.51 481.14 L252.34 480.34 L252.17 479.53 L252 478.74 L251.83 477.93 L251.66 477.09 L251.48 476.21 L251.3 475.32 L251.11 474.4 L250.91 473.47 L250.7 472.52 L250.48 471.56 L250.25 470.59 L250.01 469.63 L249.77 468.69 L249.54 467.79 L249.3 466.89 L249.03 465.95 L248.74 464.97 L248.42 463.97 L248.06 462.95 L247.66 461.91 L247.23 460.85 L246.76 459.77 L246.27 458.68 L245.74 457.57 L245.18 456.48 L244.62 455.44 L244.06 454.43 L243.47 453.44 L242.87 452.45 L242.26 451.48 L241.64 450.52 L241 449.57 L240.34 448.63 L239.68 447.71 L239.01 446.8 L238.33 445.9 L237.65 445.04 L236.98 444.21 L236.31 443.38 L235.62 442.54 L234.89 441.69 L234.14 440.82 L233.36 439.95 L232.54 439.08 L231.68 438.21 L230.78 437.35 L229.83 436.49 L228.84 435.65 L227.81 434.84 L226.77 434.09 L225.74 433.39 L224.69 432.72 L223.62 432.09 L222.55 431.48 L221.46 430.92 L220.36 430.39 L219.26 429.89 L218.15 429.43 L217.03 429.01 L215.91 428.62 L214.76 428.26 L213.57 427.94 L212.36 427.67 L211.18 427.45 L210.02 427.28 L208.88 427.16 L207.77 427.07 L206.69 427.01 L205.64 426.99 L204.61 426.99 L203.62 427 L202.66 427.04 L201.7 427.08 L200.71 427.14 L199.69 427.23 L198.67 427.33 L197.64 427.45 L196.61 427.6 L195.58 427.77 L194.54 427.96 L193.51 428.18 L192.47 428.43 L191.43 428.7 L190.39 428.99 L189.36 429.31 L188.35 429.64 L187.34 430 L186.34 430.37 L185.34 430.77 L184.33 431.19 L183.33 431.64 L182.32 432.11 L181.32 432.6 L180.31 433.11 L179.31 433.66 L178.31 434.22 L177.31 434.82 L176.33 435.45 L175.36 436.09 L174.4 436.75 L173.47 437.43 L172.54 438.13 L171.63 438.84 L170.72 439.58 L169.81 440.33 L168.91 441.11 L168 441.9 L167.08 442.72 L166.12 443.59 L165.08 444.56 L164.01 445.6 L162.95 446.66 L161.9 447.74 L160.85 448.83 L159.82 449.91 L158.8 450.97 L157.81 452.01 L156.85 453 L155.93 453.93 L155.07 454.78 L154.25 455.55 L153.46 456.27 L152.67 456.97 L151.9 457.63 L151.13 458.28 L150.37 458.9 L149.61 459.52 L148.83 460.13 L148.05 460.74 L147.24 461.36 L146.42 462 L145.58 462.66 L144.73 463.34 L143.89 464 L143.08 464.64 L142.26 465.29 L141.43 465.93 L140.61 466.58 L139.79 467.22 L138.96 467.86 L138.13 468.51 L137.3 469.15 L136.47 469.8 L135.64 470.44 L134.8 471.09 L133.98 471.73 L133.17 472.35 L132.37 472.97 L131.57 473.59 L130.77 474.21 L129.96 474.83 L129.15 475.46 L128.32 476.1 L127.48 476.75 L126.61 477.41 L125.73 478.1 L124.82 478.8 L123.89 479.53 L122.94 480.27 L121.97 481.03 L120.99 481.79 L120 482.57 L119 483.35 L117.99 484.14 L116.97 484.93 L115.95 485.72 L114.93 486.52 L113.9 487.31 L112.88 488.1 L111.83 488.9 L110.75 489.73 L109.65 490.57 L108.54 491.41 L107.42 492.26 L106.3 493.11 L105.19 493.95 L104.1 494.78 L103.02 495.59 L101.98 496.37 L100.97 497.12 L100.01 497.84 L99.06 498.53 L98.1 499.24 L97.13 499.94 L96.16 500.64 L95.22 501.32 L94.3 501.98 L93.43 502.6 L92.61 503.19 L91.85 503.72 L91.18 504.21 L90.59 504.63 L90.11 504.97Z" fill="#1a1a1a"/>
<circle cx="246.5" cy="489" r="7.6" fill="#1a1a1a"/>
<path d="M98.73 517 L99.2 516.67 L99.77 516.26 L100.44 515.78 L101.2 515.24 L102.02 514.65 L102.91 514.02 L103.85 513.35 L104.82 512.66 L105.81 511.94 L106.81 511.21 L107.82 510.48 L108.81 509.75 L109.8 509.02 L110.84 508.25 L111.9 507.46 L113 506.64 L114.11 505.8 L115.24 504.96 L116.38 504.1 L117.51 503.25 L118.64 502.39 L119.75 501.55 L120.84 500.72 L121.91 499.91 L122.96 499.11 L124.01 498.3 L125.06 497.5 L126.1 496.7 L127.13 495.9 L128.15 495.11 L129.16 494.33 L130.15 493.56 L131.13 492.8 L132.09 492.05 L133.03 491.33 L133.95 490.62 L134.85 489.92 L135.73 489.25 L136.59 488.59 L137.43 487.95 L138.25 487.32 L139.07 486.69 L139.88 486.07 L140.69 485.45 L141.5 484.83 L142.32 484.2 L143.14 483.57 L143.97 482.93 L144.81 482.28 L145.64 481.64 L146.47 481 L147.31 480.35 L148.15 479.7 L148.99 479.05 L149.83 478.4 L150.67 477.74 L151.51 477.09 L152.35 476.42 L153.2 475.76 L154.03 475.1 L154.84 474.46 L155.64 473.84 L156.44 473.22 L157.25 472.59 L158.07 471.95 L158.91 471.3 L159.76 470.63 L160.64 469.93 L161.54 469.2 L162.46 468.43 L163.41 467.63 L164.4 466.77 L165.44 465.84 L166.5 464.86 L167.56 463.85 L168.63 462.81 L169.7 461.77 L170.76 460.73 L171.81 459.71 L172.84 458.72 L173.83 457.77 L174.79 456.88 L175.69 456.06 L176.55 455.31 L177.41 454.59 L178.26 453.87 L179.08 453.2 L179.88 452.56 L180.65 451.95 L181.39 451.38 L182.12 450.83 L182.84 450.32 L183.54 449.82 L184.24 449.35 L184.94 448.9 L185.64 448.47 L186.35 448.05 L187.05 447.66 L187.76 447.28 L188.46 446.92 L189.16 446.59 L189.86 446.27 L190.56 445.98 L191.26 445.7 L191.96 445.44 L192.66 445.2 L193.36 444.98 L194.06 444.78 L194.74 444.6 L195.41 444.44 L196.09 444.29 L196.76 444.17 L197.44 444.06 L198.11 443.97 L198.79 443.89 L199.47 443.83 L200.15 443.78 L200.84 443.74 L201.53 443.73 L202.24 443.72 L202.97 443.72 L203.7 443.73 L204.41 443.76 L205.1 443.79 L205.76 443.84 L206.39 443.9 L207.01 443.98 L207.6 444.07 L208.17 444.18 L208.73 444.31 L209.27 444.45 L209.82 444.62 L210.41 444.83 L211.05 445.07 L211.7 445.33 L212.36 445.62 L213.03 445.93 L213.69 446.26 L214.36 446.61 L215.01 446.98 L215.65 447.36 L216.26 447.75 L216.85 448.16 L217.4 448.56 L217.91 448.97 L218.42 449.42 L218.94 449.9 L219.48 450.43 L220.02 450.99 L220.56 451.59 L221.11 452.22 L221.67 452.88 L222.23 453.57 L222.8 454.28 L223.37 455.01 L223.93 455.73 L224.47 456.44 L224.99 457.15 L225.5 457.87 L226 458.6 L226.49 459.33 L226.98 460.08 L227.45 460.83 L227.91 461.58 L228.35 462.34 L228.78 463.09 L229.2 463.85 L229.59 464.6 L229.95 465.32 L230.3 466.06 L230.65 466.83 L230.99 467.64 L231.33 468.47 L231.68 469.33 L232.05 470.19 L232.43 471.07 L232.83 471.95 L233.24 472.84 L233.67 473.73 L234.1 474.6 L234.52 475.43 L234.94 476.23 L235.36 477.04 L235.78 477.85 L236.19 478.65 L236.6 479.44 L236.99 480.23 L237.38 481 L237.74 481.75 L238.1 482.48 L238.43 483.19 L238.74 483.85 L239.02 484.49 L239.29 485.13 L239.55 485.77 L239.8 486.4 L240.03 487.03 L240.24 487.63 L240.43 488.21 L240.6 488.76 L240.75 489.27 L240.89 489.74 L241.01 490.16 L241.11 490.51 L251.89 487.49 L251.81 487.18 L251.71 486.81 L251.6 486.35 L251.47 485.83 L251.34 485.25 L251.2 484.62 L251.06 483.94 L250.91 483.23 L250.75 482.48 L250.59 481.72 L250.43 480.93 L250.26 480.15 L250.1 479.36 L249.93 478.56 L249.76 477.72 L249.59 476.86 L249.41 475.97 L249.22 475.06 L249.02 474.13 L248.82 473.19 L248.6 472.24 L248.38 471.29 L248.14 470.33 L247.9 469.4 L247.66 468.5 L247.42 467.58 L247.16 466.64 L246.87 465.67 L246.55 464.68 L246.19 463.67 L245.8 462.65 L245.38 461.62 L244.93 460.57 L244.45 459.51 L243.94 458.45 L243.41 457.4 L242.87 456.4 L242.32 455.42 L241.75 454.45 L241.17 453.49 L240.57 452.55 L239.96 451.61 L239.34 450.69 L238.7 449.77 L238.06 448.87 L237.4 447.98 L236.73 447.11 L236.07 446.27 L235.42 445.45 L234.76 444.64 L234.07 443.81 L233.37 442.98 L232.64 442.14 L231.88 441.3 L231.09 440.46 L230.26 439.63 L229.41 438.8 L228.51 437.99 L227.57 437.2 L226.6 436.44 L225.62 435.73 L224.64 435.06 L223.64 434.42 L222.62 433.82 L221.59 433.24 L220.56 432.7 L219.51 432.19 L218.46 431.72 L217.4 431.28 L216.33 430.88 L215.27 430.51 L214.18 430.18 L213.06 429.88 L211.94 429.62 L210.83 429.42 L209.73 429.26 L208.66 429.14 L207.61 429.06 L206.58 429.01 L205.57 428.99 L204.59 428.99 L203.63 429 L202.7 429.04 L201.76 429.08 L200.81 429.14 L199.83 429.22 L198.85 429.32 L197.86 429.44 L196.88 429.58 L195.89 429.75 L194.9 429.93 L193.91 430.14 L192.91 430.38 L191.92 430.63 L190.93 430.92 L189.94 431.22 L188.97 431.54 L188 431.89 L187.04 432.25 L186.07 432.63 L185.11 433.04 L184.14 433.47 L183.18 433.92 L182.21 434.39 L181.24 434.89 L180.28 435.41 L179.32 435.95 L178.36 436.53 L177.41 437.13 L176.47 437.75 L175.55 438.39 L174.64 439.05 L173.75 439.73 L172.86 440.42 L171.97 441.14 L171.09 441.88 L170.2 442.64 L169.3 443.42 L168.39 444.23 L167.45 445.09 L166.44 446.03 L165.39 447.04 L164.35 448.09 L163.31 449.16 L162.27 450.24 L161.24 451.32 L160.22 452.38 L159.22 453.42 L158.25 454.42 L157.32 455.37 L156.43 456.24 L155.6 457.03 L154.78 457.77 L153.97 458.49 L153.18 459.17 L152.4 459.83 L151.62 460.46 L150.84 461.09 L150.06 461.7 L149.27 462.32 L148.47 462.94 L147.65 463.58 L146.81 464.24 L145.97 464.9 L145.13 465.56 L144.31 466.21 L143.49 466.86 L142.67 467.51 L141.84 468.15 L141.01 468.8 L140.19 469.44 L139.36 470.09 L138.53 470.73 L137.69 471.38 L136.86 472.02 L136.03 472.67 L135.21 473.31 L134.4 473.94 L133.59 474.56 L132.79 475.18 L131.99 475.8 L131.18 476.42 L130.36 477.05 L129.54 477.69 L128.7 478.33 L127.84 479 L126.95 479.68 L126.05 480.38 L125.11 481.11 L124.16 481.85 L123.2 482.6 L122.22 483.37 L121.23 484.15 L120.23 484.93 L119.22 485.72 L118.2 486.51 L117.18 487.31 L116.15 488.1 L115.12 488.9 L114.09 489.69 L113.04 490.49 L111.96 491.32 L110.86 492.16 L109.75 493.01 L108.63 493.86 L107.51 494.71 L106.4 495.55 L105.3 496.38 L104.22 497.19 L103.17 497.97 L102.16 498.73 L101.19 499.45 L100.24 500.15 L99.27 500.86 L98.3 501.56 L97.33 502.26 L96.38 502.95 L95.46 503.61 L94.59 504.23 L93.77 504.82 L93.01 505.35 L92.34 505.84 L91.75 506.25 L91.27 506.6Z" fill="#fff"/>
<circle cx="246.5" cy="489" r="5.6" fill="#fff"/>
<path d="M95 511.8 L95.47 511.46 L96.05 511.05 L96.73 510.57 L97.48 510.03 L98.31 509.44 L99.19 508.81 L100.11 508.15 L101.07 507.46 L102.05 506.75 L103.04 506.03 L104.03 505.31 L105 504.6 L105.98 503.87 L107 503.11 L108.06 502.32 L109.15 501.51 L110.25 500.68 L111.38 499.83 L112.5 498.98 L113.63 498.13 L114.75 497.28 L115.86 496.43 L116.94 495.61 L118 494.8 L119.04 494 L120.08 493.2 L121.12 492.4 L122.15 491.6 L123.17 490.81 L124.19 490.02 L125.19 489.24 L126.19 488.46 L127.16 487.7 L128.13 486.95 L129.07 486.22 L130 485.5 L130.9 484.8 L131.78 484.13 L132.64 483.46 L133.48 482.82 L134.31 482.18 L135.12 481.56 L135.93 480.93 L136.74 480.31 L137.55 479.69 L138.36 479.07 L139.17 478.44 L140 477.8 L140.83 477.15 L141.67 476.51 L142.5 475.86 L143.33 475.22 L144.17 474.57 L145 473.93 L145.83 473.28 L146.67 472.63 L147.5 471.97 L148.33 471.32 L149.17 470.66 L150 470 L150.83 469.35 L151.64 468.71 L152.45 468.08 L153.26 467.46 L154.07 466.83 L154.88 466.19 L155.69 465.55 L156.52 464.88 L157.36 464.19 L158.22 463.46 L159.1 462.7 L160 461.9 L160.94 461.04 L161.91 460.11 L162.91 459.13 L163.93 458.12 L164.96 457.08 L166 456.02 L167.04 454.97 L168.07 453.94 L169.09 452.93 L170.09 451.96 L171.06 451.05 L172 450.2 L172.9 449.41 L173.78 448.65 L174.64 447.92 L175.48 447.22 L176.31 446.55 L177.12 445.9 L177.93 445.28 L178.74 444.68 L179.55 444.11 L180.36 443.55 L181.17 443.02 L182 442.5 L182.83 442 L183.67 441.53 L184.5 441.08 L185.33 440.66 L186.17 440.25 L187 439.87 L187.83 439.51 L188.67 439.17 L189.5 438.85 L190.33 438.55 L191.17 438.26 L192 438 L192.83 437.76 L193.67 437.54 L194.5 437.34 L195.33 437.16 L196.17 437 L197 436.86 L197.83 436.74 L198.67 436.63 L199.5 436.55 L200.33 436.48 L201.17 436.43 L202 436.4 L202.83 436.38 L203.67 436.37 L204.5 436.37 L205.33 436.39 L206.17 436.42 L207 436.48 L207.83 436.56 L208.67 436.67 L209.5 436.8 L210.33 436.97 L211.17 437.16 L212 437.4 L212.84 437.67 L213.69 437.97 L214.55 438.31 L215.41 438.67 L216.27 439.06 L217.12 439.48 L217.98 439.93 L218.81 440.4 L219.64 440.89 L220.45 441.41 L221.24 441.94 L222 442.5 L222.74 443.08 L223.47 443.7 L224.18 444.35 L224.87 445.03 L225.55 445.72 L226.22 446.44 L226.87 447.18 L227.52 447.93 L228.15 448.69 L228.78 449.46 L229.39 450.23 L230 451 L230.6 451.78 L231.19 452.57 L231.78 453.37 L232.35 454.19 L232.92 455.01 L233.47 455.84 L234.01 456.69 L234.54 457.54 L235.05 458.39 L235.55 459.26 L236.03 460.13 L236.5 461 L236.95 461.88 L237.38 462.79 L237.79 463.7 L238.19 464.63 L238.57 465.56 L238.94 466.5 L239.3 467.44 L239.65 468.37 L239.99 469.3 L240.33 470.21 L240.67 471.12 L241 472 L241.33 472.88 L241.66 473.76 L241.98 474.64 L242.3 475.52 L242.51 476.11" fill="none" stroke="#2e2e2e" stroke-width="6.5" stroke-linecap="round" stroke-linejoin="round"/>
<path d="M95.9 513.06 L96.38 512.72 L96.95 512.31 L97.63 511.83 L98.38 511.29 L99.21 510.7 L100.09 510.07 L101.02 509.41 L101.98 508.72 L102.96 508.01 L103.96 507.29 L104.95 506.56 L105.92 505.85 L106.91 505.12 L107.93 504.35 L108.99 503.56 L110.08 502.75 L111.19 501.91 L112.31 501.07 L113.44 500.22 L114.57 499.36 L115.69 498.51 L116.8 497.67 L117.88 496.84 L118.94 496.03 L119.99 495.23 L121.03 494.43 L122.07 493.63 L123.1 492.83 L124.12 492.03 L125.14 491.24 L126.14 490.46 L127.14 489.69 L128.12 488.92 L129.08 488.18 L130.02 487.44 L130.95 486.73 L131.85 486.03 L132.73 485.35 L133.59 484.69 L134.43 484.05 L135.25 483.41 L136.07 482.79 L136.88 482.16 L137.69 481.54 L138.49 480.92 L139.3 480.3 L140.12 479.67 L140.95 479.03 L141.78 478.38 L142.62 477.73 L143.45 477.09 L144.28 476.44 L145.12 475.8 L145.95 475.15 L146.79 474.5 L147.62 473.85 L148.46 473.19 L149.29 472.54 L150.13 471.88 L150.96 471.22 L151.78 470.57 L152.6 469.93 L153.4 469.31 L154.21 468.68 L155.02 468.05 L155.84 467.41 L156.66 466.76 L157.5 466.08 L158.35 465.38 L159.22 464.64 L160.12 463.87 L161.04 463.05 L162 462.17 L162.98 461.23 L164 460.24 L165.02 459.21 L166.06 458.17 L167.1 457.11 L168.14 456.07 L169.17 455.04 L170.18 454.04 L171.16 453.08 L172.11 452.19 L173.03 451.36 L173.92 450.58 L174.79 449.82 L175.64 449.1 L176.47 448.42 L177.28 447.76 L178.08 447.12 L178.87 446.52 L179.65 445.93 L180.44 445.38 L181.22 444.84 L182.01 444.32 L182.81 443.82 L183.61 443.34 L184.42 442.89 L185.22 442.45 L186.02 442.04 L186.83 441.65 L187.63 441.28 L188.44 440.94 L189.24 440.61 L190.04 440.3 L190.84 440.01 L191.65 439.74 L192.45 439.48 L193.25 439.25 L194.05 439.04 L194.84 438.85 L195.64 438.67 L196.44 438.52 L197.24 438.39 L198.04 438.27 L198.84 438.17 L199.64 438.09 L200.44 438.03 L201.24 437.98 L202.05 437.95 L202.86 437.93 L203.67 437.92 L204.48 437.92 L205.28 437.94 L206.08 437.97 L206.87 438.03 L207.66 438.1 L208.45 438.2 L209.23 438.33 L210 438.48 L210.78 438.66 L211.55 438.88 L212.34 439.14 L213.15 439.43 L213.96 439.74 L214.78 440.09 L215.61 440.46 L216.42 440.86 L217.24 441.29 L218.04 441.74 L218.83 442.21 L219.6 442.7 L220.34 443.21 L221.06 443.73 L221.76 444.28 L222.44 444.86 L223.11 445.48 L223.77 446.12 L224.43 446.79 L225.07 447.49 L225.71 448.2 L226.34 448.93 L226.96 449.68 L227.57 450.43 L228.18 451.19 L228.78 451.95 L229.37 452.72 L229.95 453.49 L230.52 454.27 L231.08 455.07 L231.63 455.88 L232.17 456.69 L232.7 457.51 L233.21 458.34 L233.71 459.18 L234.2 460.02 L234.67 460.87 L235.13 461.72 L235.56 462.57 L235.97 463.44 L236.37 464.33 L236.76 465.23 L237.13 466.14 L237.49 467.06 L237.85 467.99 L238.2 468.91 L238.54 469.84 L238.88 470.75 L239.21 471.66 L239.55 472.55 L239.88 473.42 L240.2 474.29 L240.52 475.17 L240.84 476.04 L241.05 476.63" fill="none" stroke="#8a8a8a" stroke-width="1.35" stroke-linecap="round" stroke-dasharray="0 2.75" stroke-linejoin="round"/>
<path d="M94.1 510.54 L94.57 510.2 L95.15 509.78 L95.83 509.3 L96.58 508.77 L97.41 508.18 L98.29 507.55 L99.21 506.89 L100.17 506.2 L101.15 505.5 L102.13 504.78 L103.11 504.06 L104.08 503.35 L105.06 502.63 L106.08 501.87 L107.13 501.08 L108.22 500.27 L109.32 499.44 L110.44 498.59 L111.57 497.74 L112.69 496.89 L113.81 496.04 L114.92 495.2 L116 494.37 L117.06 493.57 L118.1 492.77 L119.13 491.97 L120.17 491.18 L121.2 490.38 L122.22 489.58 L123.24 488.8 L124.24 488.01 L125.23 487.24 L126.21 486.48 L127.18 485.73 L128.12 484.99 L129.05 484.27 L129.96 483.58 L130.84 482.9 L131.7 482.24 L132.54 481.59 L133.36 480.95 L134.18 480.33 L134.99 479.71 L135.8 479.09 L136.6 478.47 L137.41 477.84 L138.23 477.21 L139.05 476.57 L139.88 475.93 L140.72 475.28 L141.55 474.64 L142.38 473.99 L143.22 473.35 L144.05 472.7 L144.88 472.05 L145.71 471.4 L146.54 470.75 L147.37 470.1 L148.2 469.45 L149.04 468.78 L149.87 468.13 L150.69 467.49 L151.5 466.86 L152.31 466.23 L153.11 465.61 L153.91 464.98 L154.72 464.34 L155.54 463.68 L156.37 462.99 L157.21 462.28 L158.08 461.54 L158.96 460.75 L159.88 459.91 L160.83 459 L161.82 458.03 L162.83 457.02 L163.86 455.99 L164.9 454.94 L165.94 453.88 L166.98 452.84 L168.01 451.82 L169.02 450.84 L170.01 449.91 L170.97 449.04 L171.89 448.24 L172.77 447.47 L173.64 446.73 L174.5 446.02 L175.34 445.34 L176.17 444.68 L177 444.04 L177.83 443.43 L178.66 442.84 L179.49 442.26 L180.34 441.71 L181.19 441.18 L182.05 440.66 L182.92 440.17 L183.78 439.71 L184.64 439.27 L185.5 438.85 L186.37 438.45 L187.23 438.08 L188.1 437.73 L188.96 437.39 L189.82 437.08 L190.68 436.79 L191.55 436.52 L192.42 436.26 L193.29 436.03 L194.16 435.82 L195.02 435.64 L195.89 435.47 L196.76 435.32 L197.63 435.2 L198.49 435.09 L199.36 435.01 L200.23 434.94 L201.09 434.88 L201.95 434.85 L202.8 434.83 L203.66 434.82 L204.52 434.82 L205.38 434.84 L206.25 434.88 L207.13 434.94 L208 435.02 L208.89 435.13 L209.77 435.28 L210.66 435.45 L211.56 435.66 L212.45 435.92 L213.34 436.2 L214.23 436.52 L215.13 436.87 L216.03 437.25 L216.93 437.66 L217.83 438.1 L218.71 438.56 L219.59 439.05 L220.46 439.57 L221.3 440.11 L222.13 440.68 L222.94 441.27 L223.72 441.89 L224.49 442.54 L225.24 443.22 L225.97 443.93 L226.67 444.66 L227.37 445.4 L228.04 446.16 L228.7 446.93 L229.35 447.7 L229.98 448.48 L230.61 449.27 L231.22 450.05 L231.83 450.84 L232.44 451.65 L233.04 452.47 L233.62 453.3 L234.2 454.14 L234.77 455 L235.32 455.86 L235.86 456.73 L236.39 457.61 L236.9 458.49 L237.39 459.38 L237.87 460.28 L238.34 461.2 L238.78 462.14 L239.21 463.08 L239.62 464.03 L240.01 464.98 L240.38 465.94 L240.75 466.89 L241.1 467.83 L241.45 468.76 L241.78 469.67 L242.12 470.57 L242.45 471.45 L242.78 472.33 L243.11 473.22 L243.44 474.11 L243.76 475 L243.97 475.59" fill="none" stroke="#8a8a8a" stroke-width="1.35" stroke-linecap="round" stroke-dasharray="0 2.75" stroke-linejoin="round"/>
</g>
</g>
<!-- magnifier -->
<g fill="none" stroke="#000" stroke-width="2.2" stroke-linecap="round">
<circle cx="617" cy="45.8" r="5.75"/>
<path d="M621.4 50.3 L626.3 55.2"/>
</g>
</svg>
</body></html>
